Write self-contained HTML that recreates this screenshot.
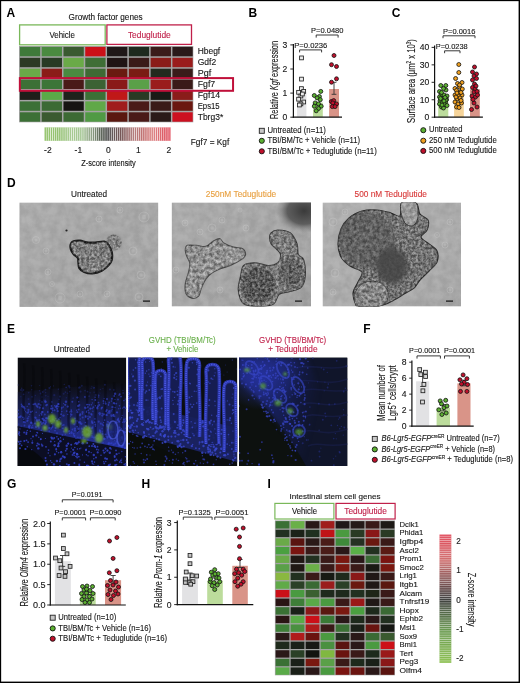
<!DOCTYPE html><html><head><meta charset="utf-8"><title>Figure</title><style>
html,body{margin:0;padding:0;background:#fff;}body{width:520px;height:683px;overflow:hidden;position:relative;}
svg{display:block;font-family:"Liberation Sans", sans-serif;will-change:transform;}
</style></head><body>
<svg width="520" height="683" viewBox="0 0 520 683">
<defs>
<linearGradient id="cbA" x1="0" x2="1" y1="0" y2="0"><stop offset="0" stop-color="#86bc58"/><stop offset="0.3" stop-color="#a8c898"/><stop offset="0.5" stop-color="#3c3c3c"/><stop offset="0.7" stop-color="#a86c6c"/><stop offset="0.85" stop-color="#d87878"/><stop offset="1" stop-color="#e04858"/></linearGradient>
<pattern id="stripesV" x="44.5" y="0" width="2.1" height="10" patternUnits="userSpaceOnUse"><rect x="1.25" y="0" width="0.85" height="10" fill="#fff" fill-opacity="0.75"/></pattern>
<pattern id="stripesH" x="0" y="534.5" width="10" height="2.15" patternUnits="userSpaceOnUse"><rect x="0" y="1.3" width="10" height="0.85" fill="#fff" fill-opacity="0.5"/></pattern>
<linearGradient id="cbI" x1="0" x2="0" y1="0" y2="1"><stop offset="0" stop-color="#e04858"/><stop offset="0.2" stop-color="#d07070"/><stop offset="0.5" stop-color="#3c3c3c"/><stop offset="0.75" stop-color="#6a9a50"/><stop offset="1" stop-color="#8cc050"/></linearGradient>
<filter id="tex" color-interpolation-filters="sRGB" x="0" y="0" width="1" height="1"><feTurbulence type="fractalNoise" baseFrequency="0.38" numOctaves="3" seed="4" result="t"/><feGaussianBlur in="t" stdDeviation="0.5" result="tb"/><feColorMatrix in="tb" type="matrix" values="1.8 0 0 0 -0.5  1.8 0 0 0 -0.5  1.8 0 0 0 -0.5  0 0 0 0 0.38" result="a"/><feComposite in="a" in2="SourceGraphic" operator="in"/></filter>
<filter id="tex2" color-interpolation-filters="sRGB" x="0" y="0" width="1" height="1"><feTurbulence type="fractalNoise" baseFrequency="0.3" numOctaves="3" seed="9" result="t"/><feGaussianBlur in="t" stdDeviation="0.5" result="tb"/><feColorMatrix in="tb" type="matrix" values="1.8 0 0 0 -0.4  1.8 0 0 0 -0.4  1.8 0 0 0 -0.4  0 0 0 0 0.38" result="a"/><feComposite in="a" in2="SourceGraphic" operator="in"/></filter>
<filter id="fuzz" color-interpolation-filters="sRGB" x="-0.3" y="-0.3" width="1.6" height="1.6"><feTurbulence type="fractalNoise" baseFrequency="0.6" numOctaves="2" seed="5" result="t"/><feDisplacementMap in="SourceGraphic" in2="t" scale="4" result="d"/><feGaussianBlur in="d" stdDeviation="0.6"/></filter>
<filter id="blur1" color-interpolation-filters="sRGB" x="-0.3" y="-0.3" width="1.6" height="1.6"><feGaussianBlur stdDeviation="1.2"/></filter>
<filter id="blurS" color-interpolation-filters="sRGB" x="-0.05" y="-0.05" width="1.1" height="1.1"><feGaussianBlur stdDeviation="0.45"/></filter>
<filter id="bgnoise" color-interpolation-filters="sRGB" x="0" y="0" width="1" height="1"><feTurbulence type="fractalNoise" baseFrequency="0.12" numOctaves="3" seed="17" result="t"/><feColorMatrix in="t" type="matrix" values="2 0 0 0 -0.5  2 0 0 0 -0.5  2 0 0 0 -0.5  0 0 0 0 0.06" result="a"/><feComposite in="a" in2="SourceGraphic" operator="in"/></filter>
<filter id="blur2" color-interpolation-filters="sRGB" x="-0.3" y="-0.3" width="1.6" height="1.6"><feGaussianBlur stdDeviation="2.5"/></filter>
<linearGradient id="e1band" x1="0" y1="0" x2="0" y2="1"><stop offset="0" stop-color="#181c48" stop-opacity="0"/><stop offset="0.3" stop-color="#1a2260" stop-opacity="0.6"/><stop offset="1" stop-color="#2a38b8" stop-opacity="0.9"/></linearGradient>
<radialGradient id="e3glow"><stop offset="0" stop-color="#2a38b8" stop-opacity="0.7"/><stop offset="1" stop-color="#2a38b0" stop-opacity="0"/></radialGradient>
<linearGradient id="e3glow2" x1="0" y1="0" x2="1" y2="0.3"><stop offset="0" stop-color="#2632a8" stop-opacity="0.55"/><stop offset="0.6" stop-color="#2230a0" stop-opacity="0.35"/><stop offset="1" stop-color="#1a2480" stop-opacity="0"/></linearGradient>
<radialGradient id="shadow"><stop offset="0" stop-color="#3a3a3a"/><stop offset="0.6" stop-color="#555" stop-opacity="0.9"/><stop offset="1" stop-color="#888" stop-opacity="0"/></radialGradient>
<linearGradient id="bgD" x1="0" y1="0" x2="1" y2="1"><stop offset="0" stop-color="#fff" stop-opacity="0.06"/><stop offset="0.5" stop-color="#fff" stop-opacity="0"/><stop offset="1" stop-color="#000" stop-opacity="0.05"/></linearGradient>
</defs>
<rect x="0" y="0" width="520" height="683" fill="#fff"/>
<text x="6.60" y="16.90" font-size="12" fill="#000" font-weight="bold" >A</text>
<text x="68.60" y="20.40" font-size="9" fill="#161616" stroke="#161616" stroke-width="0.12" textLength="74.10" lengthAdjust="spacingAndGlyphs" >Growth factor genes</text>
<rect x="19.60" y="24.90" width="85.60" height="19.90" fill="none" stroke="#7ab85a" stroke-width="1.3" />
<text x="49.40" y="37.70" font-size="9.3" fill="#161616" stroke="#161616" stroke-width="0.12" textLength="25.60" lengthAdjust="spacingAndGlyphs" >Vehicle</text>
<rect x="106.90" y="24.90" width="84.60" height="19.50" fill="none" stroke="#c0204a" stroke-width="1.3" />
<text x="127.90" y="37.70" font-size="9.3" fill="#c0204a" stroke="#c0204a" stroke-width="0.12" textLength="42.90" lengthAdjust="spacingAndGlyphs" >Teduglutide</text>
<rect x="19.00" y="46.00" width="174.30" height="76.30" fill="#a4a4a4" />
<rect x="19.90" y="46.90" width="20.29" height="9.40" fill="#3f7a3a" />
<rect x="41.69" y="46.90" width="20.29" height="9.40" fill="#4a8a40" />
<rect x="63.48" y="46.90" width="20.29" height="9.40" fill="#3a5a30" />
<rect x="85.26" y="46.90" width="20.29" height="9.40" fill="#cc1018" />
<rect x="107.05" y="46.90" width="20.29" height="9.40" fill="#201818" />
<rect x="128.84" y="46.90" width="20.29" height="9.40" fill="#1e2a1e" />
<rect x="150.63" y="46.90" width="20.29" height="9.40" fill="#3a1c1a" />
<rect x="172.41" y="46.90" width="20.29" height="9.40" fill="#2a1a1a" />
<rect x="19.90" y="57.80" width="20.29" height="9.40" fill="#2c3a24" />
<rect x="41.69" y="57.80" width="20.29" height="9.40" fill="#283a24" />
<rect x="63.48" y="57.80" width="20.29" height="9.40" fill="#6aaa48" />
<rect x="85.26" y="57.80" width="20.29" height="9.40" fill="#3f6e36" />
<rect x="107.05" y="57.80" width="20.29" height="9.40" fill="#201414" />
<rect x="128.84" y="57.80" width="20.29" height="9.40" fill="#3a1a18" />
<rect x="150.63" y="57.80" width="20.29" height="9.40" fill="#8a1c18" />
<rect x="172.41" y="57.80" width="20.29" height="9.40" fill="#9a1c1c" />
<rect x="19.90" y="68.70" width="20.29" height="9.40" fill="#6aaa48" />
<rect x="41.69" y="68.70" width="20.29" height="9.40" fill="#8a1c18" />
<rect x="63.48" y="68.70" width="20.29" height="9.40" fill="#4a8a40" />
<rect x="85.26" y="68.70" width="20.29" height="9.40" fill="#3e6a34" />
<rect x="107.05" y="68.70" width="20.29" height="9.40" fill="#6a1a10" />
<rect x="128.84" y="68.70" width="20.29" height="9.40" fill="#7a1c14" />
<rect x="150.63" y="68.70" width="20.29" height="9.40" fill="#222a1e" />
<rect x="172.41" y="68.70" width="20.29" height="9.40" fill="#3a1c1a" />
<rect x="19.90" y="79.60" width="20.29" height="9.40" fill="#3c7036" />
<rect x="41.69" y="79.60" width="20.29" height="9.40" fill="#3c7538" />
<rect x="63.48" y="79.60" width="20.29" height="9.40" fill="#4a1a18" />
<rect x="85.26" y="79.60" width="20.29" height="9.40" fill="#3c6234" />
<rect x="107.05" y="79.60" width="20.29" height="9.40" fill="#8a1a18" />
<rect x="128.84" y="79.60" width="20.29" height="9.40" fill="#5aa048" />
<rect x="150.63" y="79.60" width="20.29" height="9.40" fill="#9a1c1c" />
<rect x="172.41" y="79.60" width="20.29" height="9.40" fill="#3a1a18" />
<rect x="19.90" y="90.50" width="20.29" height="9.40" fill="#1e1e1a" />
<rect x="41.69" y="90.50" width="20.29" height="9.40" fill="#5aaa48" />
<rect x="63.48" y="90.50" width="20.29" height="9.40" fill="#1e221c" />
<rect x="85.26" y="90.50" width="20.29" height="9.40" fill="#3c7036" />
<rect x="107.05" y="90.50" width="20.29" height="9.40" fill="#c01818" />
<rect x="128.84" y="90.50" width="20.29" height="9.40" fill="#2a3a24" />
<rect x="150.63" y="90.50" width="20.29" height="9.40" fill="#1a1a16" />
<rect x="172.41" y="90.50" width="20.29" height="9.40" fill="#8a1c1a" />
<rect x="19.90" y="101.40" width="20.29" height="9.40" fill="#3c7036" />
<rect x="41.69" y="101.40" width="20.29" height="9.40" fill="#3c6a34" />
<rect x="63.48" y="101.40" width="20.29" height="9.40" fill="#161412" />
<rect x="85.26" y="101.40" width="20.29" height="9.40" fill="#60a848" />
<rect x="107.05" y="101.40" width="20.29" height="9.40" fill="#a01c1c" />
<rect x="128.84" y="101.40" width="20.29" height="9.40" fill="#4a1a18" />
<rect x="150.63" y="101.40" width="20.29" height="9.40" fill="#3a1a18" />
<rect x="172.41" y="101.40" width="20.29" height="9.40" fill="#6a1810" />
<rect x="19.90" y="112.30" width="20.29" height="9.40" fill="#3c7036" />
<rect x="41.69" y="112.30" width="20.29" height="9.40" fill="#3a5a30" />
<rect x="63.48" y="112.30" width="20.29" height="9.40" fill="#3c6a34" />
<rect x="85.26" y="112.30" width="20.29" height="9.40" fill="#509a44" />
<rect x="107.05" y="112.30" width="20.29" height="9.40" fill="#5a1810" />
<rect x="128.84" y="112.30" width="20.29" height="9.40" fill="#4a1a18" />
<rect x="150.63" y="112.30" width="20.29" height="9.40" fill="#2a1a18" />
<rect x="172.41" y="112.30" width="20.29" height="9.40" fill="#cc1020" />
<rect x="19.85" y="78.10" width="213.20" height="12.70" fill="none" stroke="#c0103a" stroke-width="2" />
<text x="197.70" y="54.40" font-size="9" fill="#161616" stroke="#161616" stroke-width="0.12" textLength="22.50" lengthAdjust="spacingAndGlyphs" >Hbegf</text>
<text x="197.70" y="65.30" font-size="9" fill="#161616" stroke="#161616" stroke-width="0.12" textLength="18.50" lengthAdjust="spacingAndGlyphs" >Gdf2</text>
<text x="197.70" y="76.20" font-size="9" fill="#161616" stroke="#161616" stroke-width="0.12" textLength="13.50" lengthAdjust="spacingAndGlyphs" >Pgf</text>
<text x="197.70" y="87.10" font-size="9" fill="#161616" stroke="#161616" stroke-width="0.12" textLength="17.50" lengthAdjust="spacingAndGlyphs" >Fgf7</text>
<text x="197.70" y="98.00" font-size="9" fill="#161616" stroke="#161616" stroke-width="0.12" textLength="22.50" lengthAdjust="spacingAndGlyphs" >Fgf14</text>
<text x="197.70" y="108.90" font-size="9" fill="#161616" stroke="#161616" stroke-width="0.12" textLength="22.00" lengthAdjust="spacingAndGlyphs" >Eps15</text>
<text x="197.70" y="119.80" font-size="9" fill="#161616" stroke="#161616" stroke-width="0.12" textLength="25.50" lengthAdjust="spacingAndGlyphs" >Tbrg3*</text>
<rect x="44.5" y="127.4" width="126.2" height="13.4" fill="url(#cbA)"/>
<rect x="44.5" y="127.4" width="126.2" height="13.4" fill="url(#stripesV)"/>
<text x="47.90" y="152.60" font-size="8.5" fill="#161616" stroke="#161616" stroke-width="0.12" text-anchor="middle" >-2</text>
<text x="78.40" y="152.60" font-size="8.5" fill="#161616" stroke="#161616" stroke-width="0.12" text-anchor="middle" >-1</text>
<text x="108.40" y="152.60" font-size="8.5" fill="#161616" stroke="#161616" stroke-width="0.12" text-anchor="middle" >0</text>
<text x="138.40" y="152.60" font-size="8.5" fill="#161616" stroke="#161616" stroke-width="0.12" text-anchor="middle" >1</text>
<text x="168.90" y="152.60" font-size="8.5" fill="#161616" stroke="#161616" stroke-width="0.12" text-anchor="middle" >2</text>
<text x="81.30" y="165.50" font-size="8.5" fill="#161616" stroke="#161616" stroke-width="0.12" textLength="54.50" lengthAdjust="spacingAndGlyphs" >Z-score intensity</text>
<text x="190.80" y="145.00" font-size="8.5" fill="#161616" stroke="#161616" stroke-width="0.12" textLength="38.40" lengthAdjust="spacingAndGlyphs" >Fgf7 = Kgf</text>
<text x="248.60" y="16.80" font-size="12" fill="#000" font-weight="bold" >B</text>
<line x1="290.30" y1="117.20" x2="293.40" y2="117.20" stroke="#111" stroke-width="0.9"/>
<text x="287.40" y="120.20" font-size="8.6" fill="#161616" stroke="#161616" stroke-width="0.12" text-anchor="end" >0</text>
<line x1="290.30" y1="93.10" x2="293.40" y2="93.10" stroke="#111" stroke-width="0.9"/>
<text x="287.40" y="96.10" font-size="8.6" fill="#161616" stroke="#161616" stroke-width="0.12" text-anchor="end" >1</text>
<line x1="290.30" y1="69.00" x2="293.40" y2="69.00" stroke="#111" stroke-width="0.9"/>
<text x="287.40" y="72.00" font-size="8.6" fill="#161616" stroke="#161616" stroke-width="0.12" text-anchor="end" >2</text>
<line x1="290.30" y1="44.90" x2="293.40" y2="44.90" stroke="#111" stroke-width="0.9"/>
<text x="287.40" y="47.90" font-size="8.6" fill="#161616" stroke="#161616" stroke-width="0.12" text-anchor="end" >3</text>
<rect x="297.00" y="92.00" width="9.40" height="25.20" fill="#e2e2e4" />
<rect x="313.00" y="102.60" width="9.80" height="14.60" fill="#bcdc9c" />
<rect x="329.10" y="89.00" width="9.90" height="28.20" fill="#d99488" />
<line x1="334.00" y1="82.30" x2="334.00" y2="94.30" stroke="#333" stroke-width="0.9"/>
<line x1="331.60" y1="94.30" x2="336.40" y2="94.30" stroke="#333" stroke-width="0.9"/>
<line x1="331.60" y1="82.30" x2="336.40" y2="82.30" stroke="#333" stroke-width="0.9"/>
<line x1="301.60" y1="87.50" x2="301.60" y2="96.50" stroke="#333" stroke-width="0.9"/>
<line x1="299.50" y1="87.50" x2="303.70" y2="87.50" stroke="#333" stroke-width="0.9"/>
<rect x="299.60" y="56.00" width="3.80" height="3.80" fill="#ececec" stroke="#222" stroke-width="0.85"/>
<rect x="299.60" y="77.20" width="3.80" height="3.80" fill="#ececec" stroke="#222" stroke-width="0.85"/>
<rect x="299.50" y="86.70" width="3.80" height="3.80" fill="#ececec" stroke="#222" stroke-width="0.85"/>
<rect x="301.80" y="89.50" width="3.80" height="3.80" fill="#ececec" stroke="#222" stroke-width="0.85"/>
<rect x="296.70" y="90.40" width="3.80" height="3.80" fill="#ececec" stroke="#222" stroke-width="0.85"/>
<rect x="299.00" y="94.10" width="3.80" height="3.80" fill="#ececec" stroke="#222" stroke-width="0.85"/>
<rect x="296.70" y="97.30" width="3.80" height="3.80" fill="#ececec" stroke="#222" stroke-width="0.85"/>
<rect x="301.80" y="100.10" width="3.80" height="3.80" fill="#ececec" stroke="#222" stroke-width="0.85"/>
<rect x="299.00" y="102.00" width="3.80" height="3.80" fill="#ececec" stroke="#222" stroke-width="0.85"/>
<rect x="300.50" y="92.10" width="3.80" height="3.80" fill="#ececec" stroke="#222" stroke-width="0.85"/>
<rect x="297.50" y="103.10" width="3.80" height="3.80" fill="#ececec" stroke="#222" stroke-width="0.85"/>
<circle cx="320.80" cy="91.40" r="2.00" fill="#5cb032" stroke="#111" stroke-width="0.8"/>
<circle cx="314.30" cy="95.50" r="2.00" fill="#5cb032" stroke="#111" stroke-width="0.8"/>
<circle cx="319.40" cy="96.50" r="2.00" fill="#5cb032" stroke="#111" stroke-width="0.8"/>
<circle cx="317.10" cy="97.90" r="2.00" fill="#5cb032" stroke="#111" stroke-width="0.8"/>
<circle cx="320.30" cy="99.70" r="2.00" fill="#5cb032" stroke="#111" stroke-width="0.8"/>
<circle cx="315.20" cy="102.90" r="2.00" fill="#5cb032" stroke="#111" stroke-width="0.8"/>
<circle cx="318.50" cy="103.90" r="2.00" fill="#5cb032" stroke="#111" stroke-width="0.8"/>
<circle cx="321.20" cy="106.20" r="2.00" fill="#5cb032" stroke="#111" stroke-width="0.8"/>
<circle cx="314.30" cy="106.20" r="2.00" fill="#5cb032" stroke="#111" stroke-width="0.8"/>
<circle cx="318.50" cy="108.50" r="2.00" fill="#5cb032" stroke="#111" stroke-width="0.8"/>
<circle cx="316.20" cy="110.80" r="2.00" fill="#5cb032" stroke="#111" stroke-width="0.8"/>
<circle cx="334.00" cy="55.50" r="2.00" fill="#c0102c" stroke="#111" stroke-width="0.8"/>
<circle cx="331.50" cy="64.70" r="2.00" fill="#c0102c" stroke="#111" stroke-width="0.8"/>
<circle cx="336.50" cy="66.50" r="2.00" fill="#c0102c" stroke="#111" stroke-width="0.8"/>
<circle cx="336.50" cy="78.80" r="2.00" fill="#c0102c" stroke="#111" stroke-width="0.8"/>
<circle cx="331.50" cy="82.20" r="2.00" fill="#c0102c" stroke="#111" stroke-width="0.8"/>
<circle cx="331.40" cy="101.50" r="2.00" fill="#c0102c" stroke="#111" stroke-width="0.8"/>
<circle cx="333.70" cy="100.60" r="2.00" fill="#c0102c" stroke="#111" stroke-width="0.8"/>
<circle cx="336.50" cy="103.90" r="2.00" fill="#c0102c" stroke="#111" stroke-width="0.8"/>
<circle cx="332.80" cy="102.90" r="2.00" fill="#c0102c" stroke="#111" stroke-width="0.8"/>
<circle cx="332.30" cy="106.60" r="2.00" fill="#c0102c" stroke="#111" stroke-width="0.8"/>
<circle cx="335.10" cy="106.60" r="2.00" fill="#c0102c" stroke="#111" stroke-width="0.8"/>
<line x1="293.40" y1="44.00" x2="293.40" y2="117.80" stroke="#111" stroke-width="1.2"/>
<line x1="292.80" y1="117.20" x2="342.00" y2="117.20" stroke="#111" stroke-width="1.2"/>
<text transform="translate(277.8,80.0) rotate(-90)" font-size="10.8" fill="#161616" stroke="#161616" stroke-width="0.12" text-anchor="middle" textLength="78.1" lengthAdjust="spacingAndGlyphs">Relative <tspan font-style="italic">Kgf</tspan> expression</text>
<text x="294.20" y="47.65" font-size="7.9" fill="#161616" stroke="#161616" stroke-width="0.12" textLength="33.10" lengthAdjust="spacingAndGlyphs" >P=0.0236</text>
<path d="M299.60,52.40 V49.90 H321.60 V52.40" fill="none" stroke="#222" stroke-width="0.9"/>
<text x="311.00" y="32.55" font-size="7.9" fill="#161616" stroke="#161616" stroke-width="0.12" textLength="32.50" lengthAdjust="spacingAndGlyphs" >P=0.0480</text>
<path d="M316.20,37.60 V35.00 H338.10 V37.60" fill="none" stroke="#222" stroke-width="0.9"/>
<rect x="259.30" y="128.30" width="5.00" height="5.00" fill="#c8c8c8" stroke="#222" stroke-width="0.9"/>
<text x="267.50" y="132.90" font-size="8.7" fill="#161616" stroke="#161616" stroke-width="0.12" textLength="58.30" lengthAdjust="spacingAndGlyphs" >Untreated (n=11)</text>
<circle cx="261.80" cy="140.80" r="2.55" fill="#5cb032" stroke="#111" stroke-width="0.9"/>
<text x="267.50" y="143.10" font-size="8.7" fill="#161616" stroke="#161616" stroke-width="0.12" textLength="92.50" lengthAdjust="spacingAndGlyphs" >TBI/BM/Tc + Vehicle (n=11)</text>
<circle cx="261.80" cy="151.30" r="2.55" fill="#c0102c" stroke="#111" stroke-width="0.9"/>
<text x="267.50" y="153.50" font-size="8.7" fill="#161616" stroke="#161616" stroke-width="0.12" textLength="109.30" lengthAdjust="spacingAndGlyphs" >TBI/BM/Tc + Teduglutide (n=11)</text>
<text x="391.80" y="16.80" font-size="12" fill="#000" font-weight="bold" >C</text>
<line x1="431.60" y1="117.20" x2="434.60" y2="117.20" stroke="#111" stroke-width="0.9"/>
<text x="429.40" y="120.20" font-size="8.6" fill="#161616" stroke="#161616" stroke-width="0.12" text-anchor="end" >0</text>
<line x1="431.60" y1="99.75" x2="434.60" y2="99.75" stroke="#111" stroke-width="0.9"/>
<text x="429.40" y="102.75" font-size="8.6" fill="#161616" stroke="#161616" stroke-width="0.12" text-anchor="end" >10</text>
<line x1="431.60" y1="82.30" x2="434.60" y2="82.30" stroke="#111" stroke-width="0.9"/>
<text x="429.40" y="85.30" font-size="8.6" fill="#161616" stroke="#161616" stroke-width="0.12" text-anchor="end" >20</text>
<line x1="431.60" y1="64.85" x2="434.60" y2="64.85" stroke="#111" stroke-width="0.9"/>
<text x="429.40" y="67.85" font-size="8.6" fill="#161616" stroke="#161616" stroke-width="0.12" text-anchor="end" >30</text>
<line x1="431.60" y1="47.40" x2="434.60" y2="47.40" stroke="#111" stroke-width="0.9"/>
<text x="429.40" y="50.40" font-size="8.6" fill="#161616" stroke="#161616" stroke-width="0.12" text-anchor="end" >40</text>
<rect x="438.20" y="99.00" width="10.10" height="18.20" fill="#bcdc9c" />
<rect x="454.10" y="95.00" width="9.70" height="22.20" fill="#f6d49a" />
<rect x="470.00" y="89.20" width="9.80" height="28.00" fill="#d99488" />
<circle cx="440.80" cy="85.50" r="2.00" fill="#5cb032" stroke="#111" stroke-width="0.8"/>
<circle cx="445.80" cy="85.50" r="2.00" fill="#5cb032" stroke="#111" stroke-width="0.8"/>
<circle cx="439.50" cy="91.50" r="2.00" fill="#5cb032" stroke="#111" stroke-width="0.8"/>
<circle cx="446.00" cy="90.00" r="2.00" fill="#5cb032" stroke="#111" stroke-width="0.8"/>
<circle cx="441.00" cy="95.00" r="2.00" fill="#5cb032" stroke="#111" stroke-width="0.8"/>
<circle cx="444.00" cy="95.00" r="2.00" fill="#5cb032" stroke="#111" stroke-width="0.8"/>
<circle cx="447.00" cy="96.00" r="2.00" fill="#5cb032" stroke="#111" stroke-width="0.8"/>
<circle cx="439.50" cy="97.00" r="2.00" fill="#5cb032" stroke="#111" stroke-width="0.8"/>
<circle cx="443.00" cy="99.00" r="2.00" fill="#5cb032" stroke="#111" stroke-width="0.8"/>
<circle cx="446.50" cy="99.50" r="2.00" fill="#5cb032" stroke="#111" stroke-width="0.8"/>
<circle cx="440.00" cy="101.00" r="2.00" fill="#5cb032" stroke="#111" stroke-width="0.8"/>
<circle cx="442.50" cy="102.50" r="2.00" fill="#5cb032" stroke="#111" stroke-width="0.8"/>
<circle cx="445.50" cy="102.00" r="2.00" fill="#5cb032" stroke="#111" stroke-width="0.8"/>
<circle cx="439.50" cy="104.00" r="2.00" fill="#5cb032" stroke="#111" stroke-width="0.8"/>
<circle cx="444.50" cy="104.50" r="2.00" fill="#5cb032" stroke="#111" stroke-width="0.8"/>
<circle cx="441.50" cy="107.00" r="2.00" fill="#5cb032" stroke="#111" stroke-width="0.8"/>
<circle cx="443.50" cy="108.00" r="2.00" fill="#5cb032" stroke="#111" stroke-width="0.8"/>
<circle cx="446.00" cy="100.00" r="2.00" fill="#5cb032" stroke="#111" stroke-width="0.8"/>
<circle cx="441.50" cy="92.50" r="2.00" fill="#5cb032" stroke="#111" stroke-width="0.8"/>
<circle cx="443.50" cy="88.50" r="2.00" fill="#5cb032" stroke="#111" stroke-width="0.8"/>
<circle cx="440.50" cy="98.50" r="2.00" fill="#5cb032" stroke="#111" stroke-width="0.8"/>
<circle cx="445.00" cy="97.50" r="2.00" fill="#5cb032" stroke="#111" stroke-width="0.8"/>
<circle cx="442.00" cy="105.00" r="2.00" fill="#5cb032" stroke="#111" stroke-width="0.8"/>
<circle cx="444.00" cy="101.00" r="2.00" fill="#5cb032" stroke="#111" stroke-width="0.8"/>
<circle cx="447.00" cy="105.50" r="2.00" fill="#5cb032" stroke="#111" stroke-width="0.8"/>
<circle cx="458.80" cy="64.50" r="2.00" fill="#f0a020" stroke="#111" stroke-width="0.8"/>
<circle cx="458.80" cy="72.50" r="2.00" fill="#f0a020" stroke="#111" stroke-width="0.8"/>
<circle cx="455.60" cy="78.50" r="2.00" fill="#f0a020" stroke="#111" stroke-width="0.8"/>
<circle cx="457.50" cy="83.50" r="2.00" fill="#f0a020" stroke="#111" stroke-width="0.8"/>
<circle cx="462.00" cy="82.50" r="2.00" fill="#f0a020" stroke="#111" stroke-width="0.8"/>
<circle cx="455.00" cy="88.50" r="2.00" fill="#f0a020" stroke="#111" stroke-width="0.8"/>
<circle cx="459.50" cy="87.00" r="2.00" fill="#f0a020" stroke="#111" stroke-width="0.8"/>
<circle cx="462.30" cy="89.00" r="2.00" fill="#f0a020" stroke="#111" stroke-width="0.8"/>
<circle cx="456.50" cy="90.50" r="2.00" fill="#f0a020" stroke="#111" stroke-width="0.8"/>
<circle cx="460.00" cy="92.00" r="2.00" fill="#f0a020" stroke="#111" stroke-width="0.8"/>
<circle cx="455.00" cy="95.00" r="2.00" fill="#f0a020" stroke="#111" stroke-width="0.8"/>
<circle cx="458.50" cy="95.50" r="2.00" fill="#f0a020" stroke="#111" stroke-width="0.8"/>
<circle cx="462.00" cy="95.00" r="2.00" fill="#f0a020" stroke="#111" stroke-width="0.8"/>
<circle cx="457.00" cy="99.00" r="2.00" fill="#f0a020" stroke="#111" stroke-width="0.8"/>
<circle cx="460.00" cy="98.00" r="2.00" fill="#f0a020" stroke="#111" stroke-width="0.8"/>
<circle cx="455.00" cy="102.00" r="2.00" fill="#f0a020" stroke="#111" stroke-width="0.8"/>
<circle cx="461.50" cy="103.00" r="2.00" fill="#f0a020" stroke="#111" stroke-width="0.8"/>
<circle cx="458.00" cy="104.00" r="2.00" fill="#f0a020" stroke="#111" stroke-width="0.8"/>
<circle cx="456.50" cy="107.00" r="2.00" fill="#f0a020" stroke="#111" stroke-width="0.8"/>
<circle cx="459.00" cy="107.50" r="2.00" fill="#f0a020" stroke="#111" stroke-width="0.8"/>
<circle cx="461.00" cy="100.50" r="2.00" fill="#f0a020" stroke="#111" stroke-width="0.8"/>
<circle cx="456.00" cy="97.00" r="2.00" fill="#f0a020" stroke="#111" stroke-width="0.8"/>
<circle cx="459.50" cy="85.00" r="2.00" fill="#f0a020" stroke="#111" stroke-width="0.8"/>
<circle cx="457.00" cy="93.00" r="2.00" fill="#f0a020" stroke="#111" stroke-width="0.8"/>
<circle cx="461.00" cy="92.50" r="2.00" fill="#f0a020" stroke="#111" stroke-width="0.8"/>
<circle cx="474.50" cy="67.00" r="2.00" fill="#c0102c" stroke="#111" stroke-width="0.8"/>
<circle cx="472.50" cy="72.00" r="2.00" fill="#c0102c" stroke="#111" stroke-width="0.8"/>
<circle cx="476.50" cy="74.00" r="2.00" fill="#c0102c" stroke="#111" stroke-width="0.8"/>
<circle cx="474.00" cy="76.00" r="2.00" fill="#c0102c" stroke="#111" stroke-width="0.8"/>
<circle cx="476.50" cy="78.50" r="2.00" fill="#c0102c" stroke="#111" stroke-width="0.8"/>
<circle cx="472.50" cy="80.00" r="2.00" fill="#c0102c" stroke="#111" stroke-width="0.8"/>
<circle cx="474.50" cy="84.00" r="2.00" fill="#c0102c" stroke="#111" stroke-width="0.8"/>
<circle cx="472.50" cy="87.50" r="2.00" fill="#c0102c" stroke="#111" stroke-width="0.8"/>
<circle cx="475.00" cy="89.00" r="2.00" fill="#c0102c" stroke="#111" stroke-width="0.8"/>
<circle cx="474.00" cy="92.00" r="2.00" fill="#c0102c" stroke="#111" stroke-width="0.8"/>
<circle cx="477.00" cy="91.50" r="2.00" fill="#c0102c" stroke="#111" stroke-width="0.8"/>
<circle cx="472.00" cy="96.00" r="2.00" fill="#c0102c" stroke="#111" stroke-width="0.8"/>
<circle cx="475.50" cy="97.00" r="2.00" fill="#c0102c" stroke="#111" stroke-width="0.8"/>
<circle cx="477.50" cy="95.00" r="2.00" fill="#c0102c" stroke="#111" stroke-width="0.8"/>
<circle cx="474.00" cy="103.00" r="2.00" fill="#c0102c" stroke="#111" stroke-width="0.8"/>
<circle cx="477.00" cy="107.00" r="2.00" fill="#c0102c" stroke="#111" stroke-width="0.8"/>
<circle cx="471.50" cy="109.50" r="2.00" fill="#c0102c" stroke="#111" stroke-width="0.8"/>
<circle cx="473.00" cy="99.50" r="2.00" fill="#c0102c" stroke="#111" stroke-width="0.8"/>
<circle cx="476.00" cy="86.00" r="2.00" fill="#c0102c" stroke="#111" stroke-width="0.8"/>
<line x1="434.60" y1="45.50" x2="434.60" y2="117.80" stroke="#111" stroke-width="1.2"/>
<line x1="434.00" y1="117.20" x2="482.90" y2="117.20" stroke="#111" stroke-width="1.2"/>
<text transform="translate(414.8,81.0) rotate(-90)" font-size="10.8" fill="#161616" stroke="#161616" stroke-width="0.12" text-anchor="middle" textLength="83.8" lengthAdjust="spacingAndGlyphs">Surface area (μm<tspan font-size="6.5" dy="-3.8">2</tspan><tspan dy="3.8"> x 10</tspan><tspan font-size="6.5" dy="-3.8">3</tspan><tspan dy="3.8">)</tspan></text>
<text x="435.70" y="48.75" font-size="7.9" fill="#161616" stroke="#161616" stroke-width="0.12" textLength="32.00" lengthAdjust="spacingAndGlyphs" >P=0.0238</text>
<path d="M444.60,53.20 V50.80 H460.00 V53.20" fill="none" stroke="#222" stroke-width="0.9"/>
<text x="443.00" y="33.75" font-size="7.9" fill="#161616" stroke="#161616" stroke-width="0.12" textLength="32.40" lengthAdjust="spacingAndGlyphs" >P=0.0016</text>
<path d="M443.00,38.20 V35.80 H475.00 V38.20" fill="none" stroke="#222" stroke-width="0.9"/>
<circle cx="423.30" cy="130.20" r="2.55" fill="#5cb032" stroke="#111" stroke-width="0.9"/>
<text x="429.00" y="132.40" font-size="8.7" fill="#161616" stroke="#161616" stroke-width="0.12" textLength="33.50" lengthAdjust="spacingAndGlyphs" >Untreated</text>
<circle cx="423.30" cy="140.70" r="2.55" fill="#f0a020" stroke="#111" stroke-width="0.9"/>
<text x="429.00" y="142.90" font-size="8.7" fill="#161616" stroke="#161616" stroke-width="0.12" textLength="67.70" lengthAdjust="spacingAndGlyphs" >250 nM Teduglutide</text>
<circle cx="423.30" cy="150.90" r="2.55" fill="#c0102c" stroke="#111" stroke-width="0.9"/>
<text x="429.00" y="153.10" font-size="8.7" fill="#161616" stroke="#161616" stroke-width="0.12" textLength="67.70" lengthAdjust="spacingAndGlyphs" >500 nM Teduglutide</text>
<text x="7.00" y="187.30" font-size="12" fill="#000" font-weight="bold" >D</text>
<text x="71.00" y="196.90" font-size="9" fill="#161616" stroke="#161616" stroke-width="0.12" textLength="36.10" lengthAdjust="spacingAndGlyphs" >Untreated</text>
<text x="205.80" y="197.00" font-size="9" fill="#e8a040" stroke="#e8a040" stroke-width="0.12" textLength="70.40" lengthAdjust="spacingAndGlyphs" >250nM Teduglutide</text>
<text x="354.60" y="197.00" font-size="9" fill="#d83838" stroke="#d83838" stroke-width="0.12" textLength="72.30" lengthAdjust="spacingAndGlyphs" >500 nM Teduglutide</text>
<clipPath id="cD1"><rect x="19.3" y="202.4" width="139.1" height="104.5"/></clipPath>
<g clip-path="url(#cD1)">
<rect x="19.30" y="202.40" width="139.10" height="104.50" fill="#a9a9a9" />
<rect x="19.3" y="202.4" width="139.1" height="104.5" fill="#000" filter="url(#bgnoise)"/>
<rect x="19.3" y="202.4" width="139.1" height="104.5" fill="url(#bgD)"/>
<circle cx="144" cy="217" r="5" fill="none" stroke="#d8d8d8" stroke-width="1" opacity="0.25"/>
<circle cx="144" cy="217" r="2.2" fill="#cfcfcf" opacity="0.25"/>
<circle cx="99" cy="219" r="3" fill="none" stroke="#d8d8d8" stroke-width="1" opacity="0.25"/>
<circle cx="99" cy="219" r="1.4" fill="#cfcfcf" opacity="0.25"/>
<circle cx="46" cy="251" r="3" fill="none" stroke="#d8d8d8" stroke-width="1" opacity="0.25"/>
<circle cx="46" cy="251" r="1.4" fill="#cfcfcf" opacity="0.25"/>
<circle cx="36" cy="240" r="3.5" fill="none" stroke="#d8d8d8" stroke-width="1" opacity="0.25"/>
<circle cx="36" cy="240" r="1.6" fill="#cfcfcf" opacity="0.25"/>
<circle cx="133" cy="251" r="4" fill="none" stroke="#d8d8d8" stroke-width="1" opacity="0.25"/>
<circle cx="133" cy="251" r="1.8" fill="#cfcfcf" opacity="0.25"/>
<circle cx="141" cy="275" r="4" fill="none" stroke="#d8d8d8" stroke-width="1" opacity="0.25"/>
<circle cx="141" cy="275" r="1.8" fill="#cfcfcf" opacity="0.25"/>
<circle cx="48" cy="272" r="3" fill="none" stroke="#d8d8d8" stroke-width="1" opacity="0.25"/>
<circle cx="48" cy="272" r="1.4" fill="#cfcfcf" opacity="0.25"/>
<circle cx="52" cy="284" r="2.5" fill="none" stroke="#d8d8d8" stroke-width="1" opacity="0.25"/>
<circle cx="52" cy="284" r="1.1" fill="#cfcfcf" opacity="0.25"/>
<circle cx="139" cy="297" r="4" fill="none" stroke="#d8d8d8" stroke-width="1" opacity="0.25"/>
<circle cx="139" cy="297" r="1.8" fill="#cfcfcf" opacity="0.25"/>
<circle cx="107" cy="294" r="3" fill="none" stroke="#d8d8d8" stroke-width="1" opacity="0.25"/>
<circle cx="107" cy="294" r="1.4" fill="#cfcfcf" opacity="0.25"/>
<circle cx="60" cy="298" r="5" fill="none" stroke="#d8d8d8" stroke-width="1" opacity="0.25"/>
<circle cx="60" cy="298" r="2.2" fill="#cfcfcf" opacity="0.25"/>
<circle cx="80" cy="294" r="3" fill="none" stroke="#d8d8d8" stroke-width="1" opacity="0.25"/>
<circle cx="80" cy="294" r="1.4" fill="#cfcfcf" opacity="0.25"/>
<circle cx="120" cy="210" r="3" fill="none" stroke="#d8d8d8" stroke-width="1" opacity="0.25"/>
<circle cx="120" cy="210" r="1.4" fill="#cfcfcf" opacity="0.25"/>
<circle cx="113.8" cy="242.5" r="8" fill="#959595" filter="url(#blur1)"/>
<circle cx="113.8" cy="242.5" r="8" fill="#000" filter="url(#tex)"/>
<path d="M70.8,243.8 C71.2,242.5 71.9,241.7 73.5,241.2 C75.1,240.7 78.0,240.4 80.2,240.6 C82.4,240.8 84.4,242.1 86.9,242.4 C89.4,242.7 92.1,242.6 95.0,242.5 C97.9,242.4 102.2,241.2 104.4,241.6 C106.7,242.0 107.3,243.3 108.5,245.0 C109.7,246.7 111.2,249.4 111.8,251.9 C112.3,254.4 112.3,257.8 111.8,260.0 C111.2,262.2 110.2,263.6 108.5,265.4 C106.8,267.2 104.4,269.4 101.7,270.8 C99.0,272.2 95.2,273.3 92.3,273.5 C89.4,273.7 86.4,273.0 84.2,272.1 C82.0,271.2 80.3,269.8 79.3,268.1 C78.3,266.4 78.5,263.7 78.3,262.0 C78.0,260.3 78.6,259.3 77.8,258.0 C77.0,256.7 74.7,255.5 73.5,254.0 C72.3,252.5 71.2,250.9 70.8,249.2 C70.3,247.5 70.3,245.1 70.8,243.8 Z" fill="#8a8a8a" stroke="#1e1e1e" stroke-width="2.1"/>
<path d="M70.8,243.8 C71.2,242.5 71.9,241.7 73.5,241.2 C75.1,240.7 78.0,240.4 80.2,240.6 C82.4,240.8 84.4,242.1 86.9,242.4 C89.4,242.7 92.1,242.6 95.0,242.5 C97.9,242.4 102.2,241.2 104.4,241.6 C106.7,242.0 107.3,243.3 108.5,245.0 C109.7,246.7 111.2,249.4 111.8,251.9 C112.3,254.4 112.3,257.8 111.8,260.0 C111.2,262.2 110.2,263.6 108.5,265.4 C106.8,267.2 104.4,269.4 101.7,270.8 C99.0,272.2 95.2,273.3 92.3,273.5 C89.4,273.7 86.4,273.0 84.2,272.1 C82.0,271.2 80.3,269.8 79.3,268.1 C78.3,266.4 78.5,263.7 78.3,262.0 C78.0,260.3 78.6,259.3 77.8,258.0 C77.0,256.7 74.7,255.5 73.5,254.0 C72.3,252.5 71.2,250.9 70.8,249.2 C70.3,247.5 70.3,245.1 70.8,243.8 Z" fill="#000" filter="url(#tex)"/>
<circle cx="66.5" cy="230.5" r="1.1" fill="#222"/>
</g>
<rect x="143" y="300.5" width="7" height="1.2" fill="#111"/>
<clipPath id="cD2"><rect x="171.6" y="202.4" width="139.4" height="104.2"/></clipPath>
<g clip-path="url(#cD2)">
<rect x="171.60" y="202.40" width="139.40" height="104.20" fill="#a8a8a8" />
<rect x="171.6" y="202.4" width="139.4" height="104.2" fill="#000" filter="url(#bgnoise)"/>
<rect x="171.6" y="202.4" width="139.4" height="104.2" fill="url(#bgD)"/>
<ellipse cx="304" cy="211" rx="28" ry="22" fill="url(#shadow)"/>
<circle cx="212" cy="228" r="4" fill="none" stroke="#d8d8d8" stroke-width="1" opacity="0.25"/>
<circle cx="212" cy="228" r="1.8" fill="#cfcfcf" opacity="0.25"/>
<circle cx="222" cy="220" r="3" fill="none" stroke="#d8d8d8" stroke-width="1" opacity="0.25"/>
<circle cx="222" cy="220" r="1.4" fill="#cfcfcf" opacity="0.25"/>
<circle cx="246" cy="228" r="3" fill="none" stroke="#d8d8d8" stroke-width="1" opacity="0.25"/>
<circle cx="246" cy="228" r="1.4" fill="#cfcfcf" opacity="0.25"/>
<circle cx="185" cy="223" r="3" fill="none" stroke="#d8d8d8" stroke-width="1" opacity="0.25"/>
<circle cx="185" cy="223" r="1.4" fill="#cfcfcf" opacity="0.25"/>
<circle cx="240" cy="210" r="2" fill="none" stroke="#d8d8d8" stroke-width="1" opacity="0.25"/>
<circle cx="240" cy="210" r="0.9" fill="#cfcfcf" opacity="0.25"/>
<circle cx="252" cy="274" r="3" fill="none" stroke="#d8d8d8" stroke-width="1" opacity="0.25"/>
<circle cx="252" cy="274" r="1.4" fill="#cfcfcf" opacity="0.25"/>
<circle cx="220" cy="290" r="3" fill="none" stroke="#d8d8d8" stroke-width="1" opacity="0.25"/>
<circle cx="220" cy="290" r="1.4" fill="#cfcfcf" opacity="0.25"/>
<circle cx="200" cy="232" r="3" fill="none" stroke="#d8d8d8" stroke-width="1" opacity="0.25"/>
<circle cx="200" cy="232" r="1.4" fill="#cfcfcf" opacity="0.25"/>
<circle cx="176" cy="270" r="3" fill="none" stroke="#d8d8d8" stroke-width="1" opacity="0.25"/>
<circle cx="176" cy="270" r="1.4" fill="#cfcfcf" opacity="0.25"/>
<path d="M187.3,245.4 C189.2,244.6 193.4,245.2 196.5,245.4 C199.6,245.6 203.0,247.1 205.8,246.4 C208.6,245.7 211.2,242.3 213.5,241.0 C215.8,239.7 217.8,238.3 219.6,238.7 C221.4,239.1 221.9,241.9 224.2,243.3 C226.5,244.7 230.4,246.3 233.5,247.2 C236.6,248.1 240.7,247.5 242.7,248.7 C244.7,249.9 245.8,252.8 245.5,254.6 C245.2,256.4 243.7,257.8 241.2,259.6 C238.7,261.4 233.7,263.9 230.4,265.4 C227.1,266.9 224.3,267.2 221.2,268.5 C218.1,269.8 214.5,271.3 211.9,273.1 C209.3,274.9 207.6,276.6 205.8,279.2 C204.0,281.8 202.4,285.7 201.2,288.5 C200.0,291.3 200.1,294.6 198.6,296.2 C197.1,297.8 194.0,298.6 191.9,298.2 C189.8,297.8 187.1,296.0 186.0,293.6 C184.9,291.2 184.9,287.2 185.3,283.8 C185.7,280.4 187.5,276.4 188.3,273.1 C189.1,269.8 190.2,266.6 189.9,263.8 C189.7,261.0 187.6,258.5 186.8,256.2 C186.0,253.9 185.2,251.8 185.3,250.0 C185.4,248.2 185.4,246.2 187.3,245.4 Z" fill="#9c9c9c" stroke="#4a4a4a" stroke-width="1.2"/>
<path d="M187.3,245.4 C189.2,244.6 193.4,245.2 196.5,245.4 C199.6,245.6 203.0,247.1 205.8,246.4 C208.6,245.7 211.2,242.3 213.5,241.0 C215.8,239.7 217.8,238.3 219.6,238.7 C221.4,239.1 221.9,241.9 224.2,243.3 C226.5,244.7 230.4,246.3 233.5,247.2 C236.6,248.1 240.7,247.5 242.7,248.7 C244.7,249.9 245.8,252.8 245.5,254.6 C245.2,256.4 243.7,257.8 241.2,259.6 C238.7,261.4 233.7,263.9 230.4,265.4 C227.1,266.9 224.3,267.2 221.2,268.5 C218.1,269.8 214.5,271.3 211.9,273.1 C209.3,274.9 207.6,276.6 205.8,279.2 C204.0,281.8 202.4,285.7 201.2,288.5 C200.0,291.3 200.1,294.6 198.6,296.2 C197.1,297.8 194.0,298.6 191.9,298.2 C189.8,297.8 187.1,296.0 186.0,293.6 C184.9,291.2 184.9,287.2 185.3,283.8 C185.7,280.4 187.5,276.4 188.3,273.1 C189.1,269.8 190.2,266.6 189.9,263.8 C189.7,261.0 187.6,258.5 186.8,256.2 C186.0,253.9 185.2,251.8 185.3,250.0 C185.4,248.2 185.4,246.2 187.3,245.4 Z" fill="#000" filter="url(#tex2)"/>
<path d="M271.0,232.8 C272.4,231.4 274.7,230.0 277.9,230.0 C281.1,230.0 287.0,230.5 290.2,232.8 C293.4,235.1 295.6,240.1 297.0,243.7 C298.4,247.3 297.2,251.9 298.3,254.6 C299.4,257.3 302.7,256.5 303.8,260.1 C304.9,263.8 305.6,271.9 305.2,276.5 C304.8,281.1 303.6,284.9 301.1,287.4 C298.6,289.9 293.9,290.4 290.2,291.5 C286.5,292.6 281.9,292.1 279.2,294.2 C276.5,296.2 277.0,301.8 273.8,303.8 C270.6,305.9 265.1,306.5 260.1,306.5 C255.1,306.5 247.3,306.5 243.7,303.8 C240.1,301.1 238.8,294.7 238.3,290.1 C237.8,285.5 239.7,280.1 240.6,276.0 C241.5,271.9 241.4,267.7 243.7,265.5 C246.0,263.3 250.5,262.8 254.6,262.8 C258.7,262.8 264.4,265.5 268.3,265.5 C272.2,265.5 275.8,264.6 277.9,262.8 C279.9,261.0 280.8,256.9 280.6,254.6 C280.4,252.3 278.1,251.0 276.5,249.2 C274.9,247.4 272.1,245.5 271.0,243.7 C269.9,241.9 269.7,240.0 269.7,238.2 C269.7,236.4 269.6,234.2 271.0,232.8 Z" fill="#8a8a8a" stroke="#3a3a3a" stroke-width="1.2"/>
<ellipse cx="258" cy="285" rx="17" ry="18" fill="#505050" filter="url(#blur1)"/>
<ellipse cx="291" cy="273" rx="12" ry="15" fill="#5e5e5e" filter="url(#blur1)"/>
<path d="M271.0,232.8 C272.4,231.4 274.7,230.0 277.9,230.0 C281.1,230.0 287.0,230.5 290.2,232.8 C293.4,235.1 295.6,240.1 297.0,243.7 C298.4,247.3 297.2,251.9 298.3,254.6 C299.4,257.3 302.7,256.5 303.8,260.1 C304.9,263.8 305.6,271.9 305.2,276.5 C304.8,281.1 303.6,284.9 301.1,287.4 C298.6,289.9 293.9,290.4 290.2,291.5 C286.5,292.6 281.9,292.1 279.2,294.2 C276.5,296.2 277.0,301.8 273.8,303.8 C270.6,305.9 265.1,306.5 260.1,306.5 C255.1,306.5 247.3,306.5 243.7,303.8 C240.1,301.1 238.8,294.7 238.3,290.1 C237.8,285.5 239.7,280.1 240.6,276.0 C241.5,271.9 241.4,267.7 243.7,265.5 C246.0,263.3 250.5,262.8 254.6,262.8 C258.7,262.8 264.4,265.5 268.3,265.5 C272.2,265.5 275.8,264.6 277.9,262.8 C279.9,261.0 280.8,256.9 280.6,254.6 C280.4,252.3 278.1,251.0 276.5,249.2 C274.9,247.4 272.1,245.5 271.0,243.7 C269.9,241.9 269.7,240.0 269.7,238.2 C269.7,236.4 269.6,234.2 271.0,232.8 Z" fill="#000" filter="url(#tex)"/>
</g>
<rect x="295" y="300.5" width="7" height="1.2" fill="#111"/>
<clipPath id="cD3"><rect x="322.5" y="202.4" width="138.5" height="104.2"/></clipPath>
<g clip-path="url(#cD3)">
<rect x="322.50" y="202.40" width="138.50" height="104.20" fill="#aeaeae" />
<rect x="322.5" y="202.4" width="138.5" height="104.2" fill="#000" filter="url(#bgnoise)"/>
<rect x="322.5" y="202.4" width="138.5" height="104.2" fill="url(#bgD)"/>
<circle cx="333" cy="222" r="4" fill="none" stroke="#d8d8d8" stroke-width="1" opacity="0.25"/>
<circle cx="333" cy="222" r="1.8" fill="#cfcfcf" opacity="0.25"/>
<circle cx="345" cy="212" r="3" fill="none" stroke="#d8d8d8" stroke-width="1" opacity="0.25"/>
<circle cx="345" cy="212" r="1.4" fill="#cfcfcf" opacity="0.25"/>
<circle cx="450" cy="222" r="3" fill="none" stroke="#d8d8d8" stroke-width="1" opacity="0.25"/>
<circle cx="450" cy="222" r="1.4" fill="#cfcfcf" opacity="0.25"/>
<circle cx="445" cy="245" r="3" fill="none" stroke="#d8d8d8" stroke-width="1" opacity="0.25"/>
<circle cx="445" cy="245" r="1.4" fill="#cfcfcf" opacity="0.25"/>
<circle cx="335" cy="273" r="4" fill="none" stroke="#d8d8d8" stroke-width="1" opacity="0.25"/>
<circle cx="335" cy="273" r="1.8" fill="#cfcfcf" opacity="0.25"/>
<circle cx="333" cy="292" r="3" fill="none" stroke="#d8d8d8" stroke-width="1" opacity="0.25"/>
<circle cx="333" cy="292" r="1.4" fill="#cfcfcf" opacity="0.25"/>
<circle cx="450" cy="290" r="3" fill="none" stroke="#d8d8d8" stroke-width="1" opacity="0.25"/>
<circle cx="450" cy="290" r="1.4" fill="#cfcfcf" opacity="0.25"/>
<circle cx="437" cy="235" r="2.5" fill="none" stroke="#d8d8d8" stroke-width="1" opacity="0.25"/>
<circle cx="437" cy="235" r="1.1" fill="#cfcfcf" opacity="0.25"/>
<path d="M402.0,203.0 C404.7,200.8 413.0,201.2 416.0,203.0 C419.0,204.8 418.0,211.2 420.0,214.0 C422.0,216.8 426.8,217.3 428.0,220.0 C429.2,222.7 428.2,227.2 427.0,230.0 C425.8,232.8 420.7,234.7 421.0,237.0 C421.3,239.3 426.3,241.7 429.0,244.0 C431.7,246.3 435.7,248.0 437.0,251.0 C438.3,254.0 438.3,258.7 437.0,262.0 C435.7,265.3 431.8,268.0 429.0,271.0 C426.2,274.0 422.5,277.2 420.0,280.0 C417.5,282.8 416.7,285.7 414.0,288.0 C411.3,290.3 407.3,292.0 404.0,294.0 C400.7,296.0 397.5,298.2 394.0,300.0 C390.5,301.8 388.7,303.8 383.0,305.0 C377.3,306.2 365.0,308.8 360.0,307.0 C355.0,305.2 353.3,298.2 353.0,294.0 C352.7,289.8 356.5,285.7 358.0,282.0 C359.5,278.3 363.3,274.7 362.0,272.0 C360.7,269.3 353.5,268.5 350.0,266.0 C346.5,263.5 343.0,260.7 341.0,257.0 C339.0,253.3 338.0,248.7 338.0,244.0 C338.0,239.3 339.2,233.3 341.0,229.0 C342.8,224.7 345.5,221.0 349.0,218.0 C352.5,215.0 357.3,212.3 362.0,211.0 C366.7,209.7 372.2,209.7 377.0,210.0 C381.8,210.3 387.2,212.0 391.0,213.0 C394.8,214.0 398.2,217.7 400.0,216.0 C401.8,214.3 399.3,205.2 402.0,203.0 Z" fill="#7a7a7a" stroke="#2e2e2e" stroke-width="1.2"/>
<path d="M402.0,203.0 C404.7,200.8 413.0,201.2 416.0,203.0 C419.0,204.8 418.0,211.2 420.0,214.0 C422.0,216.8 426.8,217.3 428.0,220.0 C429.2,222.7 428.2,227.2 427.0,230.0 C425.8,232.8 420.7,234.7 421.0,237.0 C421.3,239.3 426.3,241.7 429.0,244.0 C431.7,246.3 435.7,248.0 437.0,251.0 C438.3,254.0 438.3,258.7 437.0,262.0 C435.7,265.3 431.8,268.0 429.0,271.0 C426.2,274.0 422.5,277.2 420.0,280.0 C417.5,282.8 416.7,285.7 414.0,288.0 C411.3,290.3 407.3,292.0 404.0,294.0 C400.7,296.0 397.5,298.2 394.0,300.0 C390.5,301.8 388.7,303.8 383.0,305.0 C377.3,306.2 365.0,308.8 360.0,307.0 C355.0,305.2 353.3,298.2 353.0,294.0 C352.7,289.8 356.5,285.7 358.0,282.0 C359.5,278.3 363.3,274.7 362.0,272.0 C360.7,269.3 353.5,268.5 350.0,266.0 C346.5,263.5 343.0,260.7 341.0,257.0 C339.0,253.3 338.0,248.7 338.0,244.0 C338.0,239.3 339.2,233.3 341.0,229.0 C342.8,224.7 345.5,221.0 349.0,218.0 C352.5,215.0 357.3,212.3 362.0,211.0 C366.7,209.7 372.2,209.7 377.0,210.0 C381.8,210.3 387.2,212.0 391.0,213.0 C394.8,214.0 398.2,217.7 400.0,216.0 C401.8,214.3 399.3,205.2 402.0,203.0 Z" fill="#000" filter="url(#tex)"/>
<ellipse cx="367" cy="240" rx="28" ry="27" fill="#545454" opacity="0.8" filter="url(#blur1)"/>
<ellipse cx="367" cy="240" rx="27" ry="26" fill="#000" filter="url(#tex2)" opacity="0.6"/>
<ellipse cx="392" cy="266" rx="16" ry="18" fill="#444" opacity="0.85" filter="url(#blur2)"/>
<path d="M402.0,202.0 C404.3,200.3 412.3,200.5 415.0,202.0 C417.7,203.5 417.7,207.8 418.0,211.0 C418.3,214.2 418.0,218.5 417.0,221.0 C416.0,223.5 414.0,225.7 412.0,226.0 C410.0,226.3 406.8,225.3 405.0,223.0 C403.2,220.7 401.5,215.5 401.0,212.0 C400.5,208.5 399.7,203.7 402.0,202.0 Z" fill="#a2a2a2" stroke="#333" stroke-width="1.0"/>
<path d="M402.0,202.0 C404.3,200.3 412.3,200.5 415.0,202.0 C417.7,203.5 417.7,207.8 418.0,211.0 C418.3,214.2 418.0,218.5 417.0,221.0 C416.0,223.5 414.0,225.7 412.0,226.0 C410.0,226.3 406.8,225.3 405.0,223.0 C403.2,220.7 401.5,215.5 401.0,212.0 C400.5,208.5 399.7,203.7 402.0,202.0 Z" fill="#000" filter="url(#tex2)" opacity="0.6"/>
<path d="M356,306 C352,296 356,286 366,282 C376,279 386,284 388,292 C390,300 384,306 376,307 Z" fill="#888" stroke="#3a3a3a" stroke-width="0.9"/>
<path d="M356,306 C352,296 356,286 366,282 C376,279 386,284 388,292 C390,300 384,306 376,307 Z" fill="#000" filter="url(#tex2)"/>
</g>
<rect x="446" y="300.5" width="7" height="1.2" fill="#111"/>
<text x="7.00" y="333.00" font-size="12" fill="#000" font-weight="bold" >E</text>
<text x="53.80" y="352.30" font-size="9" fill="#161616" stroke="#161616" stroke-width="0.12" textLength="36.20" lengthAdjust="spacingAndGlyphs" >Untreated</text>
<text x="148.80" y="343.10" font-size="9" fill="#6ab04c" stroke="#6ab04c" stroke-width="0.12" textLength="66.90" lengthAdjust="spacingAndGlyphs" >GVHD (TBI/BM/Tc)</text>
<text x="166.50" y="352.40" font-size="9" fill="#6ab04c" stroke="#6ab04c" stroke-width="0.12" textLength="31.90" lengthAdjust="spacingAndGlyphs" >+ Vehicle</text>
<text x="259.00" y="343.10" font-size="9" fill="#c0204a" stroke="#c0204a" stroke-width="0.12" textLength="67.10" lengthAdjust="spacingAndGlyphs" >GVHD (TBI/BM/Tc)</text>
<text x="268.20" y="352.40" font-size="9" fill="#c0204a" stroke="#c0204a" stroke-width="0.12" textLength="49.30" lengthAdjust="spacingAndGlyphs" >+ Teduglutide</text>
<clipPath id="cE1"><rect x="17.5" y="357.4" width="108.8" height="108.6"/></clipPath>
<g clip-path="url(#cE1)">
<rect x="17.50" y="357.40" width="108.80" height="108.60" fill="#0c0d12" />
<path d="M17.5,392 L126.3,382 L126.3,450 L17.5,428 Z" fill="url(#e1band)"/>
<path d="M24,421.4 C22,400.4 26,380.4 24,363.4" stroke="#06070c" stroke-width="2.4" fill="none" opacity="0.45"/>
<path d="M33,423.3 C31,402.3 35,382.3 33,365.3" stroke="#06070c" stroke-width="2.4" fill="none" opacity="0.45"/>
<path d="M42,425.1 C40,404.1 44,384.1 42,367.1" stroke="#06070c" stroke-width="2.4" fill="none" opacity="0.45"/>
<path d="M51,427.0 C49,406.0 53,386.0 51,369.0" stroke="#06070c" stroke-width="2.4" fill="none" opacity="0.45"/>
<path d="M60,428.9 C58,407.9 62,387.9 60,370.9" stroke="#06070c" stroke-width="2.4" fill="none" opacity="0.45"/>
<path d="M69,430.8 C67,409.8 71,389.8 69,372.8" stroke="#06070c" stroke-width="2.4" fill="none" opacity="0.45"/>
<path d="M78,432.7 C76,411.7 80,391.7 78,374.7" stroke="#06070c" stroke-width="2.4" fill="none" opacity="0.45"/>
<path d="M87,434.6 C85,413.6 89,393.6 87,376.6" stroke="#06070c" stroke-width="2.4" fill="none" opacity="0.45"/>
<path d="M96,436.5 C94,415.5 98,395.5 96,378.5" stroke="#06070c" stroke-width="2.4" fill="none" opacity="0.45"/>
<path d="M105,438.4 C103,417.4 107,397.4 105,380.4" stroke="#06070c" stroke-width="2.4" fill="none" opacity="0.45"/>
<path d="M114,440.3 C112,419.3 116,399.3 114,382.3" stroke="#06070c" stroke-width="2.4" fill="none" opacity="0.45"/>
<path d="M122,441.9 C120,420.9 124,400.9 122,383.9" stroke="#06070c" stroke-width="2.4" fill="none" opacity="0.45"/>
<path d="M17.5,426 L126.3,449 L126.3,466 L17.5,466 Z" fill="#0c0e24"/>
<path d="M17.5,442 C30,448 40,454 48,466 L17.5,466 Z" fill="#07080a" opacity="0.85"/>
<g filter="url(#blurS)">
<circle cx="69.1" cy="431.0" r="1.0" fill="#3242c8" opacity="0.65"/>
<circle cx="58.3" cy="404.2" r="1.1" fill="#3242c8" opacity="0.65"/>
<circle cx="92.6" cy="427.1" r="0.9" fill="#3242c8" opacity="0.65"/>
<circle cx="92.2" cy="408.6" r="0.8" fill="#3242c8" opacity="0.65"/>
<circle cx="29.7" cy="414.6" r="0.7" fill="#3242c8" opacity="0.65"/>
<circle cx="51.5" cy="428.5" r="0.7" fill="#3242c8" opacity="0.65"/>
<circle cx="61.1" cy="414.3" r="1.0" fill="#3242c8" opacity="0.65"/>
<circle cx="69.4" cy="411.9" r="0.6" fill="#3242c8" opacity="0.65"/>
<circle cx="123.7" cy="431.5" r="0.8" fill="#3242c8" opacity="0.65"/>
<circle cx="57.0" cy="433.3" r="1.0" fill="#3242c8" opacity="0.65"/>
<circle cx="57.0" cy="420.8" r="1.1" fill="#3242c8" opacity="0.65"/>
<circle cx="107.0" cy="415.1" r="0.9" fill="#3242c8" opacity="0.65"/>
<circle cx="41.7" cy="414.9" r="0.8" fill="#3242c8" opacity="0.65"/>
<circle cx="77.3" cy="397.5" r="1.0" fill="#3242c8" opacity="0.65"/>
<circle cx="21.5" cy="404.4" r="0.8" fill="#3242c8" opacity="0.65"/>
<circle cx="48.2" cy="418.3" r="1.2" fill="#3242c8" opacity="0.65"/>
<circle cx="101.3" cy="408.9" r="0.7" fill="#3242c8" opacity="0.65"/>
<circle cx="126.1" cy="420.3" r="0.6" fill="#3242c8" opacity="0.65"/>
<circle cx="108.0" cy="429.8" r="0.7" fill="#3242c8" opacity="0.65"/>
<circle cx="74.9" cy="418.4" r="1.0" fill="#3242c8" opacity="0.65"/>
<circle cx="73.6" cy="433.7" r="1.0" fill="#3242c8" opacity="0.65"/>
<circle cx="40.8" cy="405.0" r="0.8" fill="#3242c8" opacity="0.65"/>
<circle cx="91.8" cy="433.6" r="0.7" fill="#3242c8" opacity="0.65"/>
<circle cx="113.9" cy="414.4" r="0.7" fill="#3242c8" opacity="0.65"/>
<circle cx="78.4" cy="428.7" r="1.2" fill="#3242c8" opacity="0.65"/>
<circle cx="122.2" cy="438.2" r="0.9" fill="#3242c8" opacity="0.65"/>
<circle cx="103.4" cy="425.6" r="0.8" fill="#3242c8" opacity="0.65"/>
<circle cx="116.6" cy="422.4" r="1.1" fill="#3242c8" opacity="0.65"/>
<circle cx="55.9" cy="406.8" r="1.2" fill="#3242c8" opacity="0.65"/>
<circle cx="92.5" cy="422.9" r="1.0" fill="#3242c8" opacity="0.65"/>
<circle cx="31.1" cy="422.4" r="1.0" fill="#3242c8" opacity="0.65"/>
<circle cx="61.8" cy="407.7" r="1.0" fill="#3242c8" opacity="0.65"/>
<circle cx="100.1" cy="431.2" r="1.2" fill="#3242c8" opacity="0.65"/>
<circle cx="70.6" cy="416.1" r="0.7" fill="#3242c8" opacity="0.65"/>
<circle cx="90.1" cy="408.9" r="0.7" fill="#3242c8" opacity="0.65"/>
<circle cx="18.3" cy="410.2" r="0.8" fill="#3242c8" opacity="0.65"/>
<circle cx="39.4" cy="415.3" r="0.7" fill="#3242c8" opacity="0.65"/>
<circle cx="117.5" cy="420.1" r="1.0" fill="#3242c8" opacity="0.65"/>
<circle cx="35.2" cy="417.5" r="1.0" fill="#3242c8" opacity="0.65"/>
<circle cx="109.2" cy="402.5" r="0.9" fill="#3242c8" opacity="0.65"/>
<circle cx="110.5" cy="443.2" r="0.7" fill="#3242c8" opacity="0.65"/>
<circle cx="76.0" cy="438.3" r="0.8" fill="#3242c8" opacity="0.65"/>
<circle cx="90.8" cy="431.4" r="1.2" fill="#3242c8" opacity="0.65"/>
<circle cx="77.8" cy="432.7" r="0.8" fill="#3242c8" opacity="0.65"/>
<circle cx="97.2" cy="407.6" r="0.9" fill="#3242c8" opacity="0.65"/>
<circle cx="56.8" cy="406.5" r="0.7" fill="#3242c8" opacity="0.65"/>
<circle cx="42.1" cy="423.1" r="0.8" fill="#3242c8" opacity="0.65"/>
<circle cx="82.6" cy="412.2" r="1.1" fill="#3242c8" opacity="0.65"/>
<circle cx="115.1" cy="407.5" r="0.7" fill="#3242c8" opacity="0.65"/>
<circle cx="62.4" cy="428.2" r="0.8" fill="#3242c8" opacity="0.65"/>
<circle cx="61.8" cy="411.6" r="0.8" fill="#3242c8" opacity="0.65"/>
<circle cx="106.8" cy="410.1" r="1.0" fill="#3242c8" opacity="0.65"/>
<circle cx="111.6" cy="443.3" r="0.7" fill="#3242c8" opacity="0.65"/>
<circle cx="95.4" cy="405.8" r="0.7" fill="#3242c8" opacity="0.65"/>
<circle cx="37.5" cy="406.8" r="1.1" fill="#3242c8" opacity="0.65"/>
<circle cx="92.0" cy="422.5" r="0.9" fill="#3242c8" opacity="0.65"/>
<circle cx="74.9" cy="430.6" r="1.1" fill="#3242c8" opacity="0.65"/>
<circle cx="72.5" cy="429.5" r="0.9" fill="#3242c8" opacity="0.65"/>
<circle cx="86.5" cy="412.2" r="0.8" fill="#3242c8" opacity="0.65"/>
<circle cx="73.7" cy="435.1" r="0.8" fill="#3242c8" opacity="0.65"/>
<circle cx="118.1" cy="419.4" r="1.1" fill="#3242c8" opacity="0.65"/>
<circle cx="91.8" cy="414.9" r="0.8" fill="#3242c8" opacity="0.65"/>
<circle cx="83.6" cy="437.8" r="1.1" fill="#3242c8" opacity="0.65"/>
<circle cx="92.1" cy="428.1" r="1.2" fill="#3242c8" opacity="0.65"/>
<circle cx="122.0" cy="437.3" r="1.2" fill="#3242c8" opacity="0.65"/>
<circle cx="118.3" cy="418.3" r="0.7" fill="#3242c8" opacity="0.65"/>
<circle cx="99.8" cy="414.6" r="0.9" fill="#3242c8" opacity="0.65"/>
<circle cx="51.9" cy="401.9" r="0.7" fill="#3242c8" opacity="0.65"/>
<circle cx="124.9" cy="438.6" r="1.2" fill="#3242c8" opacity="0.65"/>
<circle cx="56.9" cy="405.9" r="1.2" fill="#3242c8" opacity="0.65"/>
<circle cx="82.8" cy="431.8" r="0.6" fill="#3242c8" opacity="0.65"/>
<circle cx="42.4" cy="418.8" r="1.0" fill="#3242c8" opacity="0.65"/>
<circle cx="107.3" cy="438.0" r="0.8" fill="#3242c8" opacity="0.65"/>
<circle cx="125.2" cy="418.9" r="0.7" fill="#3242c8" opacity="0.65"/>
<circle cx="85.4" cy="422.5" r="0.8" fill="#3242c8" opacity="0.65"/>
<circle cx="42.6" cy="412.0" r="1.0" fill="#3242c8" opacity="0.65"/>
<circle cx="31.3" cy="422.9" r="1.2" fill="#3242c8" opacity="0.65"/>
<circle cx="98.5" cy="402.6" r="0.9" fill="#3242c8" opacity="0.65"/>
<circle cx="77.1" cy="426.7" r="0.9" fill="#3242c8" opacity="0.65"/>
<circle cx="58.7" cy="406.7" r="0.8" fill="#3242c8" opacity="0.65"/>
<circle cx="126.0" cy="408.1" r="0.9" fill="#3242c8" opacity="0.65"/>
<circle cx="52.6" cy="410.7" r="0.8" fill="#3242c8" opacity="0.65"/>
<circle cx="119.5" cy="405.8" r="0.8" fill="#3242c8" opacity="0.65"/>
<circle cx="89.0" cy="412.8" r="0.9" fill="#3242c8" opacity="0.65"/>
<circle cx="125.2" cy="432.2" r="0.7" fill="#3242c8" opacity="0.65"/>
<circle cx="65.2" cy="404.8" r="1.1" fill="#3242c8" opacity="0.65"/>
<circle cx="86.9" cy="429.6" r="1.0" fill="#3242c8" opacity="0.65"/>
<circle cx="60.1" cy="417.6" r="0.8" fill="#3242c8" opacity="0.65"/>
<circle cx="95.3" cy="437.6" r="0.7" fill="#3242c8" opacity="0.65"/>
<circle cx="74.7" cy="435.9" r="0.9" fill="#3242c8" opacity="0.65"/>
<circle cx="89.6" cy="428.1" r="1.0" fill="#3242c8" opacity="0.65"/>
<circle cx="56.2" cy="406.5" r="0.6" fill="#3242c8" opacity="0.65"/>
<circle cx="114.4" cy="440.3" r="0.8" fill="#3242c8" opacity="0.65"/>
<circle cx="63.3" cy="407.0" r="0.8" fill="#3242c8" opacity="0.65"/>
<circle cx="58.8" cy="419.3" r="1.0" fill="#3242c8" opacity="0.65"/>
<circle cx="119.0" cy="395.2" r="0.7" fill="#3242c8" opacity="0.65"/>
<circle cx="118.9" cy="422.0" r="0.8" fill="#3242c8" opacity="0.65"/>
<circle cx="100.8" cy="423.6" r="1.1" fill="#3242c8" opacity="0.65"/>
<circle cx="45.9" cy="422.4" r="1.1" fill="#3242c8" opacity="0.65"/>
<circle cx="29.3" cy="428.2" r="0.7" fill="#3242c8" opacity="0.65"/>
<circle cx="108.6" cy="443.7" r="1.0" fill="#3242c8" opacity="0.65"/>
<circle cx="71.3" cy="410.1" r="0.8" fill="#3242c8" opacity="0.65"/>
<circle cx="74.3" cy="424.3" r="1.1" fill="#3242c8" opacity="0.65"/>
<circle cx="115.0" cy="423.5" r="0.9" fill="#3242c8" opacity="0.65"/>
<circle cx="109.7" cy="411.1" r="1.1" fill="#3242c8" opacity="0.65"/>
<circle cx="74.9" cy="428.6" r="1.2" fill="#3242c8" opacity="0.65"/>
<circle cx="41.4" cy="413.5" r="1.1" fill="#3242c8" opacity="0.65"/>
<circle cx="98.7" cy="421.7" r="1.1" fill="#3242c8" opacity="0.65"/>
<circle cx="88.2" cy="410.4" r="0.8" fill="#3242c8" opacity="0.65"/>
<circle cx="32.8" cy="427.2" r="0.7" fill="#3242c8" opacity="0.65"/>
<circle cx="122.6" cy="422.3" r="0.7" fill="#3242c8" opacity="0.65"/>
<circle cx="123.9" cy="400.6" r="0.8" fill="#3242c8" opacity="0.65"/>
<circle cx="89.4" cy="404.8" r="0.9" fill="#3242c8" opacity="0.65"/>
<circle cx="93.8" cy="437.6" r="1.1" fill="#3242c8" opacity="0.65"/>
<circle cx="99.2" cy="405.0" r="1.1" fill="#3242c8" opacity="0.65"/>
<circle cx="70.8" cy="414.0" r="0.8" fill="#3242c8" opacity="0.65"/>
<circle cx="79.1" cy="422.7" r="0.9" fill="#3242c8" opacity="0.65"/>
<circle cx="124.9" cy="448.3" r="0.8" fill="#3242c8" opacity="0.65"/>
<circle cx="112.4" cy="407.1" r="1.2" fill="#3242c8" opacity="0.65"/>
<circle cx="23.8" cy="407.3" r="1.2" fill="#3242c8" opacity="0.65"/>
<circle cx="89.5" cy="434.5" r="0.7" fill="#3242c8" opacity="0.65"/>
<circle cx="102.3" cy="415.6" r="1.1" fill="#3242c8" opacity="0.65"/>
<circle cx="121.9" cy="446.7" r="1.0" fill="#3242c8" opacity="0.65"/>
<circle cx="27.7" cy="418.5" r="1.1" fill="#3242c8" opacity="0.65"/>
<circle cx="118.9" cy="421.0" r="1.0" fill="#3242c8" opacity="0.65"/>
<circle cx="109.5" cy="432.5" r="1.0" fill="#3242c8" opacity="0.65"/>
<circle cx="35.9" cy="418.0" r="0.9" fill="#3242c8" opacity="0.65"/>
<circle cx="85.4" cy="408.0" r="1.2" fill="#3242c8" opacity="0.65"/>
<circle cx="91.9" cy="421.2" r="0.9" fill="#3242c8" opacity="0.65"/>
<circle cx="88.2" cy="430.5" r="0.7" fill="#3242c8" opacity="0.65"/>
<circle cx="52.8" cy="426.1" r="0.7" fill="#3242c8" opacity="0.65"/>
<circle cx="119.6" cy="427.6" r="1.0" fill="#3242c8" opacity="0.65"/>
<circle cx="123.9" cy="419.7" r="1.1" fill="#3242c8" opacity="0.65"/>
<circle cx="33.4" cy="404.3" r="0.9" fill="#3242c8" opacity="0.65"/>
<circle cx="35.2" cy="404.0" r="1.2" fill="#3242c8" opacity="0.65"/>
<circle cx="113.1" cy="431.9" r="0.9" fill="#3242c8" opacity="0.65"/>
<circle cx="108.9" cy="422.5" r="0.7" fill="#3242c8" opacity="0.65"/>
<circle cx="36.6" cy="405.7" r="1.1" fill="#3242c8" opacity="0.65"/>
<circle cx="35.9" cy="426.7" r="1.0" fill="#3242c8" opacity="0.65"/>
<circle cx="113.1" cy="415.5" r="1.2" fill="#3242c8" opacity="0.65"/>
<circle cx="29.0" cy="404.1" r="1.0" fill="#3242c8" opacity="0.65"/>
<circle cx="113.8" cy="403.0" r="1.1" fill="#3242c8" opacity="0.65"/>
<circle cx="117.2" cy="412.5" r="1.0" fill="#3242c8" opacity="0.65"/>
<circle cx="88.7" cy="433.4" r="0.7" fill="#3242c8" opacity="0.65"/>
<circle cx="114.2" cy="396.0" r="0.9" fill="#3242c8" opacity="0.65"/>
<circle cx="92.3" cy="437.1" r="1.1" fill="#3242c8" opacity="0.65"/>
<circle cx="51.5" cy="405.9" r="1.0" fill="#3242c8" opacity="0.65"/>
<circle cx="51.8" cy="412.5" r="0.8" fill="#3242c8" opacity="0.65"/>
<circle cx="95.1" cy="397.2" r="0.7" fill="#3242c8" opacity="0.65"/>
<circle cx="18.1" cy="417.4" r="0.8" fill="#3242c8" opacity="0.65"/>
<circle cx="51.2" cy="409.1" r="0.7" fill="#3242c8" opacity="0.65"/>
<circle cx="63.6" cy="403.6" r="0.6" fill="#3242c8" opacity="0.65"/>
<circle cx="106.1" cy="436.7" r="0.7" fill="#3242c8" opacity="0.65"/>
<circle cx="92.0" cy="435.6" r="0.7" fill="#3242c8" opacity="0.65"/>
<circle cx="103.6" cy="422.5" r="0.7" fill="#3242c8" opacity="0.65"/>
<circle cx="55.8" cy="418.5" r="0.7" fill="#3242c8" opacity="0.65"/>
<circle cx="36.9" cy="419.8" r="0.9" fill="#3242c8" opacity="0.65"/>
<circle cx="24.2" cy="418.1" r="0.6" fill="#3242c8" opacity="0.65"/>
<circle cx="97.4" cy="438.7" r="1.0" fill="#3242c8" opacity="0.65"/>
<circle cx="121.0" cy="396.6" r="0.9" fill="#3242c8" opacity="0.65"/>
<circle cx="124.5" cy="432.3" r="1.2" fill="#3242c8" opacity="0.65"/>
<circle cx="122.4" cy="439.5" r="0.9" fill="#3242c8" opacity="0.65"/>
<circle cx="88.0" cy="418.7" r="1.1" fill="#3242c8" opacity="0.65"/>
<circle cx="80.4" cy="423.3" r="0.8" fill="#3242c8" opacity="0.65"/>
<circle cx="85.8" cy="426.1" r="1.2" fill="#3242c8" opacity="0.65"/>
<circle cx="101.6" cy="408.1" r="1.0" fill="#3242c8" opacity="0.65"/>
<circle cx="42.9" cy="418.7" r="0.9" fill="#3242c8" opacity="0.65"/>
<circle cx="84.9" cy="396.9" r="0.9" fill="#3242c8" opacity="0.65"/>
<circle cx="113.4" cy="414.9" r="0.7" fill="#3242c8" opacity="0.65"/>
<circle cx="82.5" cy="413.8" r="0.9" fill="#3242c8" opacity="0.65"/>
<circle cx="71.5" cy="432.8" r="1.2" fill="#3242c8" opacity="0.65"/>
<circle cx="120.7" cy="440.2" r="0.8" fill="#3242c8" opacity="0.65"/>
<circle cx="95.3" cy="424.4" r="0.9" fill="#3242c8" opacity="0.65"/>
<circle cx="85.7" cy="417.0" r="1.0" fill="#3242c8" opacity="0.65"/>
<circle cx="87.0" cy="434.3" r="1.1" fill="#3242c8" opacity="0.65"/>
<circle cx="75.8" cy="422.9" r="0.7" fill="#3242c8" opacity="0.65"/>
<circle cx="30.9" cy="411.9" r="1.0" fill="#3242c8" opacity="0.65"/>
<circle cx="20.7" cy="416.3" r="1.1" fill="#3242c8" opacity="0.65"/>
<circle cx="86.9" cy="404.6" r="0.9" fill="#3242c8" opacity="0.65"/>
<circle cx="92.1" cy="399.6" r="0.7" fill="#3242c8" opacity="0.65"/>
<circle cx="118.0" cy="399.5" r="0.9" fill="#3242c8" opacity="0.65"/>
<circle cx="110.8" cy="438.5" r="1.0" fill="#3242c8" opacity="0.65"/>
<circle cx="80.0" cy="415.3" r="1.1" fill="#3242c8" opacity="0.65"/>
<circle cx="71.5" cy="431.8" r="0.6" fill="#3242c8" opacity="0.65"/>
<circle cx="120.4" cy="408.2" r="0.6" fill="#3242c8" opacity="0.65"/>
<circle cx="43.6" cy="420.1" r="1.0" fill="#3242c8" opacity="0.65"/>
<circle cx="123.1" cy="444.9" r="0.9" fill="#3242c8" opacity="0.65"/>
<circle cx="87.9" cy="406.5" r="0.7" fill="#3242c8" opacity="0.65"/>
<circle cx="114.4" cy="416.2" r="1.0" fill="#3242c8" opacity="0.65"/>
<circle cx="69.4" cy="433.2" r="0.7" fill="#3242c8" opacity="0.65"/>
<circle cx="81.8" cy="428.6" r="1.1" fill="#3242c8" opacity="0.65"/>
<circle cx="106.2" cy="411.2" r="0.9" fill="#3242c8" opacity="0.65"/>
<circle cx="28.8" cy="416.8" r="0.8" fill="#3242c8" opacity="0.65"/>
<circle cx="109.6" cy="412.8" r="1.1" fill="#3242c8" opacity="0.65"/>
<circle cx="103.8" cy="414.3" r="1.1" fill="#3242c8" opacity="0.65"/>
<circle cx="108.1" cy="412.7" r="0.8" fill="#3242c8" opacity="0.65"/>
<circle cx="98.7" cy="438.8" r="0.9" fill="#3242c8" opacity="0.65"/>
<circle cx="29.5" cy="425.6" r="1.2" fill="#3242c8" opacity="0.65"/>
<circle cx="46.7" cy="418.6" r="1.0" fill="#3242c8" opacity="0.65"/>
<circle cx="87.8" cy="407.6" r="0.8" fill="#3242c8" opacity="0.65"/>
<circle cx="115.0" cy="435.1" r="0.7" fill="#3242c8" opacity="0.65"/>
<circle cx="46.3" cy="405.3" r="1.1" fill="#3242c8" opacity="0.65"/>
<circle cx="107.0" cy="398.9" r="1.0" fill="#3242c8" opacity="0.65"/>
<circle cx="39.0" cy="428.5" r="0.6" fill="#3242c8" opacity="0.65"/>
<circle cx="80.3" cy="437.5" r="0.9" fill="#3242c8" opacity="0.65"/>
<circle cx="97.9" cy="406.3" r="1.1" fill="#3242c8" opacity="0.65"/>
<circle cx="106.4" cy="414.9" r="1.0" fill="#3242c8" opacity="0.65"/>
<circle cx="62.6" cy="425.3" r="0.8" fill="#3242c8" opacity="0.65"/>
<circle cx="67.7" cy="406.6" r="1.1" fill="#3242c8" opacity="0.65"/>
<circle cx="84.2" cy="428.0" r="0.9" fill="#3242c8" opacity="0.65"/>
<circle cx="87.9" cy="416.2" r="0.8" fill="#3242c8" opacity="0.65"/>
<circle cx="88.0" cy="439.8" r="0.8" fill="#3242c8" opacity="0.65"/>
<circle cx="84.9" cy="407.3" r="0.7" fill="#3242c8" opacity="0.65"/>
<circle cx="115.3" cy="435.2" r="0.8" fill="#3242c8" opacity="0.65"/>
<circle cx="41.9" cy="424.1" r="1.1" fill="#3242c8" opacity="0.65"/>
<circle cx="108.8" cy="411.4" r="0.8" fill="#3242c8" opacity="0.65"/>
<circle cx="65.8" cy="427.8" r="0.7" fill="#3242c8" opacity="0.65"/>
<circle cx="29.1" cy="426.8" r="1.0" fill="#3242c8" opacity="0.65"/>
<circle cx="111.1" cy="415.1" r="0.9" fill="#3242c8" opacity="0.65"/>
<circle cx="71.5" cy="414.7" r="1.0" fill="#3242c8" opacity="0.65"/>
<circle cx="42.0" cy="401.9" r="0.7" fill="#3242c8" opacity="0.65"/>
<circle cx="78.3" cy="406.0" r="1.2" fill="#3242c8" opacity="0.65"/>
<circle cx="112.3" cy="435.9" r="0.8" fill="#3242c8" opacity="0.65"/>
<circle cx="107.2" cy="425.2" r="1.1" fill="#3242c8" opacity="0.65"/>
<circle cx="61.6" cy="408.9" r="0.6" fill="#3242c8" opacity="0.65"/>
<circle cx="115.0" cy="399.5" r="0.6" fill="#3242c8" opacity="0.65"/>
<circle cx="27.2" cy="421.1" r="1.0" fill="#3242c8" opacity="0.65"/>
<circle cx="116.0" cy="431.5" r="0.7" fill="#3242c8" opacity="0.65"/>
<circle cx="118.7" cy="446.0" r="1.1" fill="#3242c8" opacity="0.65"/>
<circle cx="115.4" cy="443.5" r="1.0" fill="#3242c8" opacity="0.65"/>
<circle cx="63.8" cy="424.9" r="0.9" fill="#3242c8" opacity="0.65"/>
<circle cx="54.4" cy="420.6" r="0.8" fill="#3242c8" opacity="0.65"/>
<circle cx="55.0" cy="430.6" r="0.9" fill="#3242c8" opacity="0.65"/>
<circle cx="19.7" cy="417.1" r="1.2" fill="#3242c8" opacity="0.65"/>
<circle cx="74.3" cy="436.1" r="0.8" fill="#3242c8" opacity="0.65"/>
<circle cx="124.2" cy="421.8" r="1.1" fill="#3242c8" opacity="0.65"/>
<circle cx="125.0" cy="447.9" r="1.1" fill="#3242c8" opacity="0.65"/>
<circle cx="57.1" cy="408.7" r="1.1" fill="#3242c8" opacity="0.65"/>
<circle cx="107.3" cy="426.4" r="0.9" fill="#3242c8" opacity="0.65"/>
<circle cx="18.8" cy="424.1" r="0.6" fill="#3242c8" opacity="0.65"/>
<circle cx="62.4" cy="435.0" r="0.9" fill="#3242c8" opacity="0.65"/>
<circle cx="27.9" cy="420.6" r="0.8" fill="#3242c8" opacity="0.65"/>
<circle cx="82.7" cy="417.5" r="1.0" fill="#3242c8" opacity="0.65"/>
<circle cx="104.6" cy="420.1" r="0.9" fill="#3242c8" opacity="0.65"/>
<circle cx="116.8" cy="412.3" r="0.9" fill="#3242c8" opacity="0.65"/>
<circle cx="108.9" cy="443.3" r="1.2" fill="#3242c8" opacity="0.65"/>
<circle cx="94.6" cy="422.2" r="0.9" fill="#3242c8" opacity="0.65"/>
<circle cx="102.1" cy="428.4" r="0.6" fill="#3242c8" opacity="0.65"/>
<circle cx="78.8" cy="431.8" r="0.8" fill="#3242c8" opacity="0.65"/>
<circle cx="107.8" cy="436.9" r="1.1" fill="#3242c8" opacity="0.65"/>
<circle cx="49.3" cy="431.3" r="0.9" fill="#3242c8" opacity="0.65"/>
<circle cx="54.6" cy="405.8" r="0.7" fill="#3242c8" opacity="0.65"/>
<circle cx="108.5" cy="404.3" r="0.8" fill="#3242c8" opacity="0.65"/>
<circle cx="45.2" cy="424.0" r="0.9" fill="#3242c8" opacity="0.65"/>
<circle cx="124.1" cy="407.3" r="1.0" fill="#3242c8" opacity="0.65"/>
<circle cx="115.1" cy="393.8" r="1.2" fill="#3242c8" opacity="0.65"/>
<circle cx="98.7" cy="397.1" r="0.6" fill="#3242c8" opacity="0.65"/>
<circle cx="36.0" cy="427.4" r="0.7" fill="#3242c8" opacity="0.65"/>
<circle cx="25.5" cy="411.7" r="0.6" fill="#3242c8" opacity="0.65"/>
<circle cx="50.9" cy="429.1" r="0.7" fill="#3242c8" opacity="0.65"/>
<circle cx="103.5" cy="403.2" r="0.8" fill="#3242c8" opacity="0.65"/>
<circle cx="77.9" cy="437.5" r="0.9" fill="#3242c8" opacity="0.65"/>
<circle cx="90.4" cy="433.1" r="0.7" fill="#3242c8" opacity="0.65"/>
<circle cx="71.5" cy="421.0" r="0.8" fill="#3242c8" opacity="0.65"/>
<circle cx="52.7" cy="419.4" r="1.1" fill="#3242c8" opacity="0.65"/>
<circle cx="45.2" cy="401.3" r="1.2" fill="#3242c8" opacity="0.65"/>
<circle cx="40.8" cy="422.0" r="1.1" fill="#3242c8" opacity="0.65"/>
<circle cx="52.4" cy="408.9" r="0.6" fill="#3242c8" opacity="0.65"/>
<circle cx="31.6" cy="427.5" r="0.9" fill="#3242c8" opacity="0.65"/>
<circle cx="111.3" cy="416.2" r="0.8" fill="#3242c8" opacity="0.65"/>
<circle cx="69.7" cy="433.4" r="0.7" fill="#3242c8" opacity="0.65"/>
<circle cx="93.3" cy="407.2" r="1.0" fill="#3242c8" opacity="0.65"/>
<circle cx="105.5" cy="434.5" r="1.0" fill="#3242c8" opacity="0.65"/>
<circle cx="78.6" cy="409.5" r="1.1" fill="#3242c8" opacity="0.65"/>
<circle cx="97.4" cy="408.4" r="1.1" fill="#3242c8" opacity="0.65"/>
<circle cx="55.6" cy="428.1" r="1.1" fill="#3242c8" opacity="0.65"/>
<circle cx="121.2" cy="428.5" r="0.7" fill="#3242c8" opacity="0.65"/>
<circle cx="80.4" cy="414.2" r="1.0" fill="#3242c8" opacity="0.65"/>
<circle cx="37.1" cy="420.8" r="1.2" fill="#3242c8" opacity="0.65"/>
<circle cx="36.2" cy="412.2" r="0.8" fill="#3242c8" opacity="0.65"/>
<circle cx="51.7" cy="423.4" r="0.7" fill="#3242c8" opacity="0.65"/>
<circle cx="86.5" cy="411.2" r="0.8" fill="#3242c8" opacity="0.65"/>
<circle cx="110.0" cy="436.9" r="0.9" fill="#3242c8" opacity="0.65"/>
<circle cx="45.8" cy="420.7" r="1.0" fill="#3242c8" opacity="0.65"/>
<circle cx="100.2" cy="431.3" r="0.6" fill="#3242c8" opacity="0.65"/>
<circle cx="77.0" cy="421.0" r="0.7" fill="#3242c8" opacity="0.65"/>
<circle cx="103.1" cy="442.8" r="0.8" fill="#3242c8" opacity="0.65"/>
<circle cx="50.8" cy="420.9" r="0.9" fill="#3242c8" opacity="0.65"/>
<circle cx="122.5" cy="445.3" r="0.9" fill="#3242c8" opacity="0.65"/>
<circle cx="99.7" cy="430.2" r="1.0" fill="#3242c8" opacity="0.65"/>
<circle cx="119.5" cy="421.8" r="0.8" fill="#3242c8" opacity="0.65"/>
<circle cx="42.1" cy="411.9" r="1.1" fill="#3242c8" opacity="0.65"/>
<circle cx="105.3" cy="402.0" r="0.7" fill="#3242c8" opacity="0.65"/>
<circle cx="22.8" cy="417.3" r="0.9" fill="#3242c8" opacity="0.65"/>
<circle cx="126.1" cy="408.3" r="0.6" fill="#3242c8" opacity="0.65"/>
<circle cx="25.1" cy="422.4" r="0.8" fill="#3242c8" opacity="0.65"/>
<circle cx="102.2" cy="413.6" r="0.8" fill="#3242c8" opacity="0.65"/>
<circle cx="100.6" cy="432.6" r="0.7" fill="#3242c8" opacity="0.65"/>
<circle cx="87.9" cy="404.5" r="0.8" fill="#3242c8" opacity="0.65"/>
<circle cx="87.9" cy="434.4" r="0.9" fill="#3242c8" opacity="0.65"/>
<circle cx="96.1" cy="436.7" r="0.6" fill="#3242c8" opacity="0.65"/>
<circle cx="92.9" cy="411.3" r="0.7" fill="#3242c8" opacity="0.65"/>
<circle cx="116.3" cy="403.6" r="0.9" fill="#3242c8" opacity="0.65"/>
<circle cx="49.2" cy="427.9" r="1.0" fill="#3242c8" opacity="0.65"/>
<circle cx="98.8" cy="395.7" r="0.8" fill="#3242c8" opacity="0.65"/>
<circle cx="107.9" cy="421.7" r="1.0" fill="#3242c8" opacity="0.65"/>
<circle cx="67.7" cy="414.4" r="0.6" fill="#3242c8" opacity="0.65"/>
<circle cx="95.3" cy="400.1" r="1.0" fill="#3242c8" opacity="0.65"/>
<circle cx="91.5" cy="404.7" r="0.8" fill="#3242c8" opacity="0.65"/>
<circle cx="114.3" cy="403.4" r="1.0" fill="#3242c8" opacity="0.65"/>
<circle cx="22.2" cy="406.3" r="1.2" fill="#3242c8" opacity="0.65"/>
<circle cx="80.4" cy="418.9" r="0.7" fill="#3242c8" opacity="0.65"/>
<circle cx="24.8" cy="408.4" r="0.8" fill="#3242c8" opacity="0.65"/>
<circle cx="102.6" cy="424.5" r="1.0" fill="#3242c8" opacity="0.65"/>
<circle cx="47.8" cy="412.5" r="0.7" fill="#3242c8" opacity="0.65"/>
<circle cx="90.4" cy="408.6" r="1.0" fill="#3242c8" opacity="0.65"/>
<circle cx="116.6" cy="441.8" r="0.9" fill="#3242c8" opacity="0.65"/>
<circle cx="102.5" cy="434.0" r="1.0" fill="#3242c8" opacity="0.65"/>
<circle cx="32.7" cy="425.6" r="0.6" fill="#3242c8" opacity="0.65"/>
<circle cx="18.3" cy="413.9" r="0.8" fill="#3242c8" opacity="0.65"/>
<circle cx="112.1" cy="409.6" r="0.7" fill="#3242c8" opacity="0.65"/>
<circle cx="125.4" cy="428.3" r="0.7" fill="#3242c8" opacity="0.65"/>
<circle cx="65.3" cy="434.3" r="0.7" fill="#3242c8" opacity="0.65"/>
<circle cx="63.8" cy="431.6" r="1.0" fill="#3242c8" opacity="0.65"/>
<circle cx="47.1" cy="404.7" r="0.9" fill="#3242c8" opacity="0.65"/>
<circle cx="111.7" cy="431.3" r="0.6" fill="#3242c8" opacity="0.65"/>
<circle cx="104.3" cy="438.8" r="1.2" fill="#3242c8" opacity="0.65"/>
<circle cx="60.6" cy="423.9" r="0.7" fill="#3242c8" opacity="0.65"/>
<circle cx="44.9" cy="414.5" r="0.9" fill="#3242c8" opacity="0.65"/>
<circle cx="45.3" cy="423.7" r="0.9" fill="#3242c8" opacity="0.65"/>
<circle cx="41.3" cy="430.3" r="0.8" fill="#3242c8" opacity="0.65"/>
<circle cx="63.3" cy="428.2" r="0.6" fill="#3242c8" opacity="0.65"/>
<circle cx="51.0" cy="408.5" r="1.0" fill="#3242c8" opacity="0.65"/>
<circle cx="54.5" cy="410.3" r="1.0" fill="#3242c8" opacity="0.65"/>
<circle cx="120.0" cy="429.4" r="0.8" fill="#3242c8" opacity="0.65"/>
<circle cx="111.6" cy="410.9" r="0.7" fill="#3242c8" opacity="0.65"/>
<circle cx="111.4" cy="401.1" r="0.8" fill="#3242c8" opacity="0.65"/>
<circle cx="121.8" cy="437.7" r="1.1" fill="#3242c8" opacity="0.65"/>
<circle cx="38.2" cy="425.9" r="1.2" fill="#3242c8" opacity="0.65"/>
<circle cx="98.4" cy="438.0" r="0.7" fill="#3242c8" opacity="0.65"/>
<circle cx="58.0" cy="424.3" r="1.1" fill="#3242c8" opacity="0.65"/>
<circle cx="43.4" cy="422.8" r="1.0" fill="#3242c8" opacity="0.65"/>
<circle cx="92.4" cy="402.9" r="0.7" fill="#3242c8" opacity="0.65"/>
<circle cx="78.6" cy="421.8" r="0.6" fill="#3242c8" opacity="0.65"/>
<circle cx="38.6" cy="404.1" r="1.2" fill="#3242c8" opacity="0.65"/>
<circle cx="23.8" cy="422.0" r="1.1" fill="#3242c8" opacity="0.65"/>
<circle cx="85.7" cy="415.9" r="1.0" fill="#3242c8" opacity="0.65"/>
<circle cx="94.9" cy="418.9" r="0.8" fill="#3242c8" opacity="0.65"/>
<circle cx="107.1" cy="424.2" r="0.9" fill="#3242c8" opacity="0.65"/>
<circle cx="111.9" cy="443.0" r="0.8" fill="#3242c8" opacity="0.65"/>
<circle cx="21.1" cy="426.1" r="0.7" fill="#3242c8" opacity="0.65"/>
<circle cx="78.7" cy="401.7" r="0.8" fill="#3242c8" opacity="0.65"/>
<circle cx="108.0" cy="413.2" r="0.7" fill="#3242c8" opacity="0.65"/>
<circle cx="72.3" cy="401.7" r="1.0" fill="#3242c8" opacity="0.65"/>
<circle cx="122.2" cy="415.5" r="0.6" fill="#3242c8" opacity="0.65"/>
<circle cx="44.8" cy="427.6" r="1.1" fill="#3242c8" opacity="0.65"/>
<circle cx="60.6" cy="423.5" r="1.2" fill="#3242c8" opacity="0.65"/>
<circle cx="71.3" cy="411.6" r="1.1" fill="#3242c8" opacity="0.65"/>
<circle cx="91.3" cy="414.1" r="1.1" fill="#3242c8" opacity="0.65"/>
<circle cx="43.0" cy="408.3" r="1.1" fill="#3242c8" opacity="0.65"/>
<circle cx="120.7" cy="419.1" r="0.7" fill="#3242c8" opacity="0.65"/>
<circle cx="80.0" cy="422.2" r="1.1" fill="#3242c8" opacity="0.65"/>
<circle cx="121.6" cy="417.7" r="0.8" fill="#3242c8" opacity="0.65"/>
<circle cx="126.2" cy="421.2" r="0.9" fill="#3242c8" opacity="0.65"/>
<circle cx="119.7" cy="394.3" r="1.0" fill="#3242c8" opacity="0.65"/>
<circle cx="39.7" cy="407.7" r="1.1" fill="#3242c8" opacity="0.65"/>
<circle cx="109.6" cy="426.6" r="0.8" fill="#3242c8" opacity="0.65"/>
<circle cx="102.2" cy="407.4" r="0.8" fill="#3242c8" opacity="0.65"/>
<circle cx="122.6" cy="408.1" r="0.7" fill="#3242c8" opacity="0.65"/>
<circle cx="105.7" cy="403.7" r="1.0" fill="#3242c8" opacity="0.65"/>
<circle cx="82.7" cy="431.6" r="0.7" fill="#3242c8" opacity="0.65"/>
<circle cx="29.0" cy="427.1" r="1.1" fill="#3242c8" opacity="0.65"/>
<circle cx="110.6" cy="431.8" r="1.2" fill="#3242c8" opacity="0.65"/>
<circle cx="123.1" cy="443.6" r="0.7" fill="#3242c8" opacity="0.65"/>
<circle cx="48.8" cy="416.4" r="0.9" fill="#3242c8" opacity="0.65"/>
<circle cx="28.7" cy="411.7" r="0.7" fill="#3242c8" opacity="0.65"/>
<circle cx="89.9" cy="417.1" r="1.1" fill="#3242c8" opacity="0.65"/>
<circle cx="122.7" cy="446.9" r="0.8" fill="#3242c8" opacity="0.65"/>
<circle cx="63.5" cy="415.6" r="1.2" fill="#3242c8" opacity="0.65"/>
<circle cx="99.6" cy="413.2" r="1.2" fill="#3242c8" opacity="0.65"/>
<circle cx="23.7" cy="419.2" r="0.8" fill="#3242c8" opacity="0.65"/>
<circle cx="76.7" cy="410.2" r="0.8" fill="#3242c8" opacity="0.65"/>
<circle cx="47.8" cy="411.6" r="0.8" fill="#3242c8" opacity="0.65"/>
<circle cx="35.0" cy="423.5" r="1.0" fill="#3242c8" opacity="0.65"/>
<circle cx="39.1" cy="420.0" r="1.1" fill="#3242c8" opacity="0.65"/>
<circle cx="27.2" cy="406.4" r="0.6" fill="#3242c8" opacity="0.65"/>
<circle cx="118.2" cy="438.9" r="0.7" fill="#3242c8" opacity="0.65"/>
<circle cx="83.3" cy="429.3" r="0.8" fill="#3242c8" opacity="0.65"/>
<circle cx="118.7" cy="408.8" r="0.7" fill="#3242c8" opacity="0.65"/>
<circle cx="104.1" cy="398.5" r="0.6" fill="#3242c8" opacity="0.65"/>
<circle cx="125.3" cy="399.1" r="0.7" fill="#3242c8" opacity="0.65"/>
<circle cx="89.0" cy="435.4" r="1.0" fill="#3242c8" opacity="0.65"/>
<circle cx="103.4" cy="401.0" r="0.9" fill="#3242c8" opacity="0.65"/>
<circle cx="46.1" cy="418.2" r="1.1" fill="#3242c8" opacity="0.65"/>
<circle cx="66.7" cy="411.1" r="0.9" fill="#3242c8" opacity="0.65"/>
<circle cx="77.4" cy="412.2" r="1.1" fill="#3242c8" opacity="0.65"/>
<circle cx="82.6" cy="435.1" r="1.0" fill="#3242c8" opacity="0.65"/>
<circle cx="24.5" cy="425.5" r="0.9" fill="#3242c8" opacity="0.65"/>
<circle cx="66.0" cy="401.7" r="1.2" fill="#3242c8" opacity="0.65"/>
<circle cx="104.5" cy="438.8" r="1.1" fill="#3242c8" opacity="0.65"/>
<circle cx="102.6" cy="431.8" r="0.6" fill="#3242c8" opacity="0.65"/>
<circle cx="52.5" cy="408.3" r="1.1" fill="#3242c8" opacity="0.65"/>
<circle cx="58.4" cy="404.0" r="1.0" fill="#3242c8" opacity="0.65"/>
<circle cx="45.6" cy="402.1" r="1.1" fill="#3242c8" opacity="0.65"/>
<circle cx="32.3" cy="411.3" r="0.7" fill="#3242c8" opacity="0.65"/>
<circle cx="44.4" cy="420.4" r="1.1" fill="#3242c8" opacity="0.65"/>
<circle cx="108.5" cy="405.3" r="0.8" fill="#3242c8" opacity="0.65"/>
<circle cx="75.6" cy="421.0" r="0.7" fill="#3242c8" opacity="0.65"/>
<circle cx="24.6" cy="410.0" r="0.7" fill="#3242c8" opacity="0.65"/>
<circle cx="96.9" cy="435.4" r="0.9" fill="#3242c8" opacity="0.65"/>
<circle cx="38.9" cy="427.6" r="0.8" fill="#3242c8" opacity="0.65"/>
<circle cx="113.7" cy="444.5" r="1.1" fill="#3242c8" opacity="0.65"/>
<circle cx="27.6" cy="412.6" r="1.2" fill="#3242c8" opacity="0.65"/>
<circle cx="79.4" cy="404.9" r="1.0" fill="#3242c8" opacity="0.65"/>
<circle cx="52.4" cy="427.2" r="1.0" fill="#3242c8" opacity="0.65"/>
<circle cx="95.4" cy="426.1" r="0.8" fill="#3242c8" opacity="0.65"/>
<circle cx="28.4" cy="409.9" r="1.1" fill="#3242c8" opacity="0.65"/>
<circle cx="111.9" cy="398.7" r="1.0" fill="#3242c8" opacity="0.65"/>
<circle cx="57.7" cy="411.2" r="1.1" fill="#3242c8" opacity="0.65"/>
<circle cx="81.3" cy="423.8" r="1.2" fill="#3242c8" opacity="0.65"/>
</g>
<g filter="url(#blurS)">
<circle cx="66.7" cy="445.7" r="1.2" fill="#3444d0" opacity="0.8"/>
<circle cx="68.2" cy="443.4" r="1.0" fill="#3444d0" opacity="0.8"/>
<circle cx="37.6" cy="443.5" r="1.0" fill="#3444d0" opacity="0.8"/>
<circle cx="105.6" cy="451.9" r="0.6" fill="#3444d0" opacity="0.8"/>
<circle cx="124.4" cy="464.4" r="1.0" fill="#3444d0" opacity="0.8"/>
<circle cx="19.1" cy="444.3" r="0.6" fill="#3444d0" opacity="0.8"/>
<circle cx="20.8" cy="441.3" r="0.9" fill="#3444d0" opacity="0.8"/>
<circle cx="87.2" cy="443.0" r="1.0" fill="#3444d0" opacity="0.8"/>
<circle cx="126.0" cy="465.8" r="1.1" fill="#3444d0" opacity="0.8"/>
<circle cx="42.5" cy="433.3" r="0.6" fill="#3444d0" opacity="0.8"/>
<circle cx="121.7" cy="459.0" r="0.6" fill="#3444d0" opacity="0.8"/>
<circle cx="68.6" cy="465.1" r="0.8" fill="#3444d0" opacity="0.8"/>
<circle cx="25.4" cy="449.0" r="1.1" fill="#3444d0" opacity="0.8"/>
<circle cx="53.7" cy="464.3" r="1.1" fill="#3444d0" opacity="0.8"/>
<circle cx="30.3" cy="431.3" r="0.7" fill="#3444d0" opacity="0.8"/>
<circle cx="36.8" cy="445.7" r="0.9" fill="#3444d0" opacity="0.8"/>
<circle cx="31.7" cy="449.6" r="0.7" fill="#3444d0" opacity="0.8"/>
<circle cx="46.9" cy="464.7" r="1.1" fill="#3444d0" opacity="0.8"/>
<circle cx="50.6" cy="460.7" r="0.7" fill="#3444d0" opacity="0.8"/>
<circle cx="60.4" cy="459.3" r="1.0" fill="#3444d0" opacity="0.8"/>
<circle cx="27.3" cy="446.8" r="0.7" fill="#3444d0" opacity="0.8"/>
<circle cx="66.8" cy="464.1" r="0.9" fill="#3444d0" opacity="0.8"/>
<circle cx="80.0" cy="459.9" r="0.7" fill="#3444d0" opacity="0.8"/>
<circle cx="120.9" cy="460.6" r="1.0" fill="#3444d0" opacity="0.8"/>
<circle cx="45.5" cy="457.9" r="1.0" fill="#3444d0" opacity="0.8"/>
<circle cx="42.3" cy="445.7" r="1.1" fill="#3444d0" opacity="0.8"/>
<circle cx="19.3" cy="432.4" r="0.9" fill="#3444d0" opacity="0.8"/>
<circle cx="57.6" cy="446.3" r="0.7" fill="#3444d0" opacity="0.8"/>
<circle cx="56.9" cy="461.0" r="1.2" fill="#3444d0" opacity="0.8"/>
<circle cx="89.0" cy="451.8" r="1.0" fill="#3444d0" opacity="0.8"/>
<circle cx="93.8" cy="464.3" r="0.6" fill="#3444d0" opacity="0.8"/>
<circle cx="76.9" cy="453.9" r="1.1" fill="#3444d0" opacity="0.8"/>
<circle cx="97.7" cy="452.4" r="1.1" fill="#3444d0" opacity="0.8"/>
<circle cx="92.0" cy="461.4" r="1.1" fill="#3444d0" opacity="0.8"/>
<circle cx="62.9" cy="456.4" r="1.1" fill="#3444d0" opacity="0.8"/>
<circle cx="79.8" cy="448.7" r="0.8" fill="#3444d0" opacity="0.8"/>
<circle cx="80.9" cy="448.0" r="0.6" fill="#3444d0" opacity="0.8"/>
<circle cx="87.1" cy="465.7" r="1.1" fill="#3444d0" opacity="0.8"/>
<circle cx="97.5" cy="446.7" r="0.9" fill="#3444d0" opacity="0.8"/>
<circle cx="82.9" cy="442.1" r="0.7" fill="#3444d0" opacity="0.8"/>
<circle cx="84.4" cy="462.3" r="0.8" fill="#3444d0" opacity="0.8"/>
<circle cx="18.7" cy="433.8" r="1.0" fill="#3444d0" opacity="0.8"/>
<circle cx="116.0" cy="450.4" r="0.9" fill="#3444d0" opacity="0.8"/>
<circle cx="64.4" cy="457.1" r="1.1" fill="#3444d0" opacity="0.8"/>
<circle cx="32.3" cy="442.8" r="1.1" fill="#3444d0" opacity="0.8"/>
<circle cx="109.8" cy="452.7" r="1.2" fill="#3444d0" opacity="0.8"/>
<circle cx="40.8" cy="439.0" r="1.0" fill="#3444d0" opacity="0.8"/>
<circle cx="108.8" cy="465.2" r="0.9" fill="#3444d0" opacity="0.8"/>
<circle cx="94.6" cy="446.2" r="0.8" fill="#3444d0" opacity="0.8"/>
<circle cx="32.3" cy="440.9" r="0.6" fill="#3444d0" opacity="0.8"/>
<circle cx="86.0" cy="450.1" r="1.1" fill="#3444d0" opacity="0.8"/>
<circle cx="121.8" cy="451.5" r="0.7" fill="#3444d0" opacity="0.8"/>
<circle cx="18.7" cy="441.7" r="1.0" fill="#3444d0" opacity="0.8"/>
<circle cx="37.0" cy="432.5" r="0.8" fill="#3444d0" opacity="0.8"/>
<circle cx="93.4" cy="443.9" r="1.0" fill="#3444d0" opacity="0.8"/>
<circle cx="103.7" cy="461.7" r="0.7" fill="#3444d0" opacity="0.8"/>
<circle cx="119.0" cy="453.2" r="0.7" fill="#3444d0" opacity="0.8"/>
<circle cx="66.8" cy="448.8" r="1.1" fill="#3444d0" opacity="0.8"/>
<circle cx="58.5" cy="446.2" r="1.1" fill="#3444d0" opacity="0.8"/>
<circle cx="104.2" cy="463.4" r="0.9" fill="#3444d0" opacity="0.8"/>
<circle cx="96.0" cy="457.6" r="1.0" fill="#3444d0" opacity="0.8"/>
<circle cx="115.4" cy="465.1" r="1.2" fill="#3444d0" opacity="0.8"/>
<circle cx="75.9" cy="456.4" r="0.8" fill="#3444d0" opacity="0.8"/>
<circle cx="116.5" cy="459.4" r="0.8" fill="#3444d0" opacity="0.8"/>
<circle cx="26.5" cy="440.3" r="0.9" fill="#3444d0" opacity="0.8"/>
<circle cx="36.3" cy="435.4" r="1.1" fill="#3444d0" opacity="0.8"/>
<circle cx="73.7" cy="453.3" r="1.1" fill="#3444d0" opacity="0.8"/>
<circle cx="92.5" cy="463.5" r="0.9" fill="#3444d0" opacity="0.8"/>
<circle cx="41.6" cy="444.2" r="0.8" fill="#3444d0" opacity="0.8"/>
<circle cx="96.8" cy="449.4" r="0.9" fill="#3444d0" opacity="0.8"/>
<circle cx="51.4" cy="437.5" r="1.1" fill="#3444d0" opacity="0.8"/>
<circle cx="110.1" cy="464.5" r="0.9" fill="#3444d0" opacity="0.8"/>
<circle cx="75.8" cy="443.1" r="1.0" fill="#3444d0" opacity="0.8"/>
<circle cx="70.9" cy="451.8" r="0.6" fill="#3444d0" opacity="0.8"/>
<circle cx="121.6" cy="462.5" r="0.8" fill="#3444d0" opacity="0.8"/>
<circle cx="64.7" cy="457.5" r="1.1" fill="#3444d0" opacity="0.8"/>
<circle cx="38.3" cy="448.4" r="1.2" fill="#3444d0" opacity="0.8"/>
<circle cx="20.0" cy="428.9" r="0.7" fill="#3444d0" opacity="0.8"/>
<circle cx="56.2" cy="448.5" r="0.7" fill="#3444d0" opacity="0.8"/>
<circle cx="39.0" cy="444.4" r="0.9" fill="#3444d0" opacity="0.8"/>
<circle cx="58.4" cy="439.0" r="0.9" fill="#3444d0" opacity="0.8"/>
<circle cx="86.2" cy="449.4" r="0.9" fill="#3444d0" opacity="0.8"/>
<circle cx="110.1" cy="448.1" r="1.1" fill="#3444d0" opacity="0.8"/>
<circle cx="105.7" cy="461.5" r="0.8" fill="#3444d0" opacity="0.8"/>
<circle cx="51.8" cy="462.4" r="0.7" fill="#3444d0" opacity="0.8"/>
<circle cx="126.1" cy="460.8" r="0.7" fill="#3444d0" opacity="0.8"/>
<circle cx="61.3" cy="451.5" r="0.6" fill="#3444d0" opacity="0.8"/>
<circle cx="116.7" cy="464.5" r="0.7" fill="#3444d0" opacity="0.8"/>
<circle cx="72.5" cy="454.9" r="0.9" fill="#3444d0" opacity="0.8"/>
<circle cx="21.6" cy="445.4" r="0.9" fill="#3444d0" opacity="0.8"/>
<circle cx="108.9" cy="465.6" r="1.2" fill="#3444d0" opacity="0.8"/>
<circle cx="68.3" cy="443.7" r="0.9" fill="#3444d0" opacity="0.8"/>
<circle cx="93.8" cy="458.8" r="0.7" fill="#3444d0" opacity="0.8"/>
<circle cx="66.9" cy="454.0" r="0.8" fill="#3444d0" opacity="0.8"/>
<circle cx="114.7" cy="456.9" r="1.0" fill="#3444d0" opacity="0.8"/>
<circle cx="111.1" cy="449.0" r="0.8" fill="#3444d0" opacity="0.8"/>
<circle cx="82.7" cy="443.2" r="1.2" fill="#3444d0" opacity="0.8"/>
<circle cx="116.6" cy="454.2" r="1.1" fill="#3444d0" opacity="0.8"/>
<circle cx="115.0" cy="460.5" r="1.0" fill="#3444d0" opacity="0.8"/>
<circle cx="101.0" cy="455.2" r="0.8" fill="#3444d0" opacity="0.8"/>
<circle cx="54.7" cy="441.6" r="0.6" fill="#3444d0" opacity="0.8"/>
<circle cx="56.2" cy="449.4" r="1.0" fill="#3444d0" opacity="0.8"/>
<circle cx="89.3" cy="446.2" r="0.9" fill="#3444d0" opacity="0.8"/>
<circle cx="59.9" cy="466.0" r="1.0" fill="#3444d0" opacity="0.8"/>
<circle cx="93.8" cy="455.0" r="1.2" fill="#3444d0" opacity="0.8"/>
<circle cx="20.0" cy="448.3" r="1.0" fill="#3444d0" opacity="0.8"/>
<circle cx="45.4" cy="438.5" r="0.6" fill="#3444d0" opacity="0.8"/>
<circle cx="38.8" cy="437.3" r="0.7" fill="#3444d0" opacity="0.8"/>
<circle cx="77.3" cy="443.4" r="1.2" fill="#3444d0" opacity="0.8"/>
<circle cx="79.3" cy="465.8" r="1.0" fill="#3444d0" opacity="0.8"/>
<circle cx="82.5" cy="454.9" r="0.6" fill="#3444d0" opacity="0.8"/>
<circle cx="71.4" cy="448.1" r="0.6" fill="#3444d0" opacity="0.8"/>
<circle cx="74.8" cy="447.5" r="0.8" fill="#3444d0" opacity="0.8"/>
<circle cx="48.6" cy="450.1" r="0.9" fill="#3444d0" opacity="0.8"/>
<circle cx="48.3" cy="453.0" r="0.8" fill="#3444d0" opacity="0.8"/>
<circle cx="19.0" cy="431.3" r="0.6" fill="#3444d0" opacity="0.8"/>
<circle cx="59.9" cy="461.3" r="1.0" fill="#3444d0" opacity="0.8"/>
<circle cx="69.5" cy="464.8" r="0.7" fill="#3444d0" opacity="0.8"/>
<circle cx="74.4" cy="463.1" r="1.0" fill="#3444d0" opacity="0.8"/>
<circle cx="68.5" cy="465.0" r="1.1" fill="#3444d0" opacity="0.8"/>
<circle cx="65.7" cy="450.7" r="0.9" fill="#3444d0" opacity="0.8"/>
<circle cx="46.0" cy="446.8" r="0.9" fill="#3444d0" opacity="0.8"/>
<circle cx="126.0" cy="463.8" r="1.0" fill="#3444d0" opacity="0.8"/>
<circle cx="114.6" cy="456.1" r="1.0" fill="#3444d0" opacity="0.8"/>
<circle cx="92.0" cy="446.0" r="1.0" fill="#3444d0" opacity="0.8"/>
<circle cx="86.4" cy="454.7" r="0.7" fill="#3444d0" opacity="0.8"/>
<circle cx="117.1" cy="460.4" r="0.6" fill="#3444d0" opacity="0.8"/>
<circle cx="24.1" cy="432.5" r="0.9" fill="#3444d0" opacity="0.8"/>
<circle cx="77.4" cy="449.0" r="0.8" fill="#3444d0" opacity="0.8"/>
<circle cx="54.9" cy="454.3" r="1.1" fill="#3444d0" opacity="0.8"/>
<circle cx="105.5" cy="448.7" r="1.1" fill="#3444d0" opacity="0.8"/>
<circle cx="40.7" cy="439.5" r="0.8" fill="#3444d0" opacity="0.8"/>
<circle cx="88.6" cy="465.5" r="0.8" fill="#3444d0" opacity="0.8"/>
<circle cx="77.2" cy="454.3" r="1.2" fill="#3444d0" opacity="0.8"/>
<circle cx="78.9" cy="442.3" r="1.0" fill="#3444d0" opacity="0.8"/>
<circle cx="50.0" cy="455.7" r="0.6" fill="#3444d0" opacity="0.8"/>
<circle cx="26.4" cy="434.0" r="1.0" fill="#3444d0" opacity="0.8"/>
<circle cx="33.0" cy="436.5" r="1.0" fill="#3444d0" opacity="0.8"/>
<circle cx="94.7" cy="446.2" r="1.2" fill="#3444d0" opacity="0.8"/>
<circle cx="119.8" cy="462.0" r="0.9" fill="#3444d0" opacity="0.8"/>
<circle cx="52.1" cy="438.4" r="1.2" fill="#3444d0" opacity="0.8"/>
<circle cx="56.9" cy="436.8" r="0.8" fill="#3444d0" opacity="0.8"/>
<circle cx="60.5" cy="437.8" r="0.7" fill="#3444d0" opacity="0.8"/>
<circle cx="78.8" cy="456.7" r="0.9" fill="#3444d0" opacity="0.8"/>
<circle cx="19.9" cy="443.7" r="0.9" fill="#3444d0" opacity="0.8"/>
<circle cx="79.2" cy="464.5" r="1.0" fill="#3444d0" opacity="0.8"/>
<circle cx="77.0" cy="456.3" r="0.7" fill="#3444d0" opacity="0.8"/>
<circle cx="98.6" cy="449.9" r="0.7" fill="#3444d0" opacity="0.8"/>
<circle cx="74.2" cy="455.2" r="0.8" fill="#3444d0" opacity="0.8"/>
<circle cx="54.3" cy="464.5" r="1.0" fill="#3444d0" opacity="0.8"/>
<circle cx="71.2" cy="444.7" r="1.0" fill="#3444d0" opacity="0.8"/>
<circle cx="94.5" cy="462.1" r="0.8" fill="#3444d0" opacity="0.8"/>
<circle cx="107.4" cy="450.7" r="1.1" fill="#3444d0" opacity="0.8"/>
<circle cx="105.2" cy="458.4" r="1.1" fill="#3444d0" opacity="0.8"/>
<circle cx="74.5" cy="452.7" r="1.1" fill="#3444d0" opacity="0.8"/>
<circle cx="63.4" cy="439.3" r="0.7" fill="#3444d0" opacity="0.8"/>
<circle cx="98.1" cy="465.6" r="0.8" fill="#3444d0" opacity="0.8"/>
<circle cx="88.0" cy="455.7" r="0.7" fill="#3444d0" opacity="0.8"/>
<circle cx="24.3" cy="441.1" r="1.0" fill="#3444d0" opacity="0.8"/>
<circle cx="95.5" cy="447.4" r="0.7" fill="#3444d0" opacity="0.8"/>
<circle cx="37.6" cy="432.9" r="0.7" fill="#3444d0" opacity="0.8"/>
<circle cx="77.1" cy="457.6" r="0.9" fill="#3444d0" opacity="0.8"/>
<circle cx="45.8" cy="460.8" r="1.1" fill="#3444d0" opacity="0.8"/>
<circle cx="54.7" cy="445.2" r="1.2" fill="#3444d0" opacity="0.8"/>
<circle cx="74.9" cy="443.7" r="0.8" fill="#3444d0" opacity="0.8"/>
<circle cx="104.2" cy="452.8" r="1.0" fill="#3444d0" opacity="0.8"/>
<circle cx="86.8" cy="465.7" r="0.8" fill="#3444d0" opacity="0.8"/>
<circle cx="106.9" cy="458.9" r="1.1" fill="#3444d0" opacity="0.8"/>
<circle cx="26.5" cy="432.4" r="1.0" fill="#3444d0" opacity="0.8"/>
<circle cx="28.1" cy="442.1" r="0.9" fill="#3444d0" opacity="0.8"/>
<circle cx="76.6" cy="444.2" r="0.7" fill="#3444d0" opacity="0.8"/>
<circle cx="50.8" cy="441.5" r="1.0" fill="#3444d0" opacity="0.8"/>
<circle cx="56.6" cy="451.6" r="0.7" fill="#3444d0" opacity="0.8"/>
<circle cx="60.4" cy="441.2" r="1.2" fill="#3444d0" opacity="0.8"/>
<circle cx="107.8" cy="450.1" r="0.6" fill="#3444d0" opacity="0.8"/>
<circle cx="58.5" cy="452.7" r="0.7" fill="#3444d0" opacity="0.8"/>
<circle cx="78.9" cy="441.1" r="0.6" fill="#3444d0" opacity="0.8"/>
<circle cx="125.4" cy="456.8" r="0.7" fill="#3444d0" opacity="0.8"/>
<circle cx="58.4" cy="444.8" r="0.8" fill="#3444d0" opacity="0.8"/>
<circle cx="54.2" cy="438.0" r="1.0" fill="#3444d0" opacity="0.8"/>
<circle cx="91.2" cy="452.6" r="0.7" fill="#3444d0" opacity="0.8"/>
<circle cx="61.3" cy="458.5" r="1.0" fill="#3444d0" opacity="0.8"/>
<circle cx="27.3" cy="430.4" r="0.7" fill="#3444d0" opacity="0.8"/>
<circle cx="31.0" cy="438.7" r="0.6" fill="#3444d0" opacity="0.8"/>
<circle cx="73.2" cy="449.8" r="1.1" fill="#3444d0" opacity="0.8"/>
<circle cx="53.6" cy="439.0" r="0.6" fill="#3444d0" opacity="0.8"/>
<circle cx="61.1" cy="452.2" r="1.2" fill="#3444d0" opacity="0.8"/>
<circle cx="103.4" cy="450.4" r="1.0" fill="#3444d0" opacity="0.8"/>
<circle cx="19.5" cy="435.2" r="0.8" fill="#3444d0" opacity="0.8"/>
<circle cx="58.6" cy="443.4" r="1.1" fill="#3444d0" opacity="0.8"/>
</g>
<g filter="url(#blurS)">
<circle cx="45.7" cy="395.6" r="0.9" fill="#202a78" opacity="0.5"/>
<circle cx="42.0" cy="397.0" r="0.7" fill="#202a78" opacity="0.5"/>
<circle cx="49.6" cy="387.9" r="1.0" fill="#202a78" opacity="0.5"/>
<circle cx="110.0" cy="389.6" r="1.0" fill="#202a78" opacity="0.5"/>
<circle cx="78.9" cy="387.9" r="0.8" fill="#202a78" opacity="0.5"/>
<circle cx="64.3" cy="384.4" r="0.7" fill="#202a78" opacity="0.5"/>
<circle cx="77.8" cy="397.5" r="0.7" fill="#202a78" opacity="0.5"/>
<circle cx="91.1" cy="388.3" r="0.7" fill="#202a78" opacity="0.5"/>
<circle cx="39.5" cy="390.7" r="0.7" fill="#202a78" opacity="0.5"/>
<circle cx="67.5" cy="393.2" r="0.8" fill="#202a78" opacity="0.5"/>
<circle cx="31.7" cy="389.7" r="0.7" fill="#202a78" opacity="0.5"/>
<circle cx="59.9" cy="396.6" r="1.1" fill="#202a78" opacity="0.5"/>
<circle cx="39.6" cy="400.6" r="0.8" fill="#202a78" opacity="0.5"/>
<circle cx="123.2" cy="393.1" r="1.0" fill="#202a78" opacity="0.5"/>
<circle cx="40.5" cy="393.5" r="0.9" fill="#202a78" opacity="0.5"/>
<circle cx="81.8" cy="385.8" r="1.0" fill="#202a78" opacity="0.5"/>
<circle cx="35.4" cy="395.5" r="0.7" fill="#202a78" opacity="0.5"/>
<circle cx="87.5" cy="391.7" r="0.9" fill="#202a78" opacity="0.5"/>
<circle cx="21.7" cy="388.2" r="0.8" fill="#202a78" opacity="0.5"/>
<circle cx="68.6" cy="386.0" r="1.0" fill="#202a78" opacity="0.5"/>
<circle cx="18.1" cy="385.0" r="0.8" fill="#202a78" opacity="0.5"/>
<circle cx="123.0" cy="390.5" r="0.8" fill="#202a78" opacity="0.5"/>
<circle cx="21.0" cy="390.0" r="1.1" fill="#202a78" opacity="0.5"/>
<circle cx="45.6" cy="392.6" r="0.8" fill="#202a78" opacity="0.5"/>
<circle cx="39.7" cy="385.5" r="0.6" fill="#202a78" opacity="0.5"/>
<circle cx="100.0" cy="393.0" r="0.6" fill="#202a78" opacity="0.5"/>
<circle cx="69.8" cy="391.6" r="0.8" fill="#202a78" opacity="0.5"/>
<circle cx="49.0" cy="388.0" r="0.7" fill="#202a78" opacity="0.5"/>
<circle cx="50.5" cy="386.7" r="0.6" fill="#202a78" opacity="0.5"/>
<circle cx="31.5" cy="385.8" r="0.8" fill="#202a78" opacity="0.5"/>
<circle cx="22.2" cy="391.1" r="0.7" fill="#202a78" opacity="0.5"/>
<circle cx="104.9" cy="384.7" r="1.0" fill="#202a78" opacity="0.5"/>
<circle cx="69.6" cy="386.1" r="0.8" fill="#202a78" opacity="0.5"/>
<circle cx="95.7" cy="395.0" r="1.1" fill="#202a78" opacity="0.5"/>
<circle cx="65.4" cy="392.2" r="0.9" fill="#202a78" opacity="0.5"/>
<circle cx="20.8" cy="396.8" r="0.7" fill="#202a78" opacity="0.5"/>
<circle cx="63.7" cy="393.7" r="1.0" fill="#202a78" opacity="0.5"/>
<circle cx="102.9" cy="388.5" r="0.6" fill="#202a78" opacity="0.5"/>
<circle cx="44.4" cy="400.5" r="1.0" fill="#202a78" opacity="0.5"/>
<circle cx="100.4" cy="389.5" r="0.7" fill="#202a78" opacity="0.5"/>
<circle cx="58.4" cy="389.3" r="0.7" fill="#202a78" opacity="0.5"/>
<circle cx="28.7" cy="392.7" r="0.8" fill="#202a78" opacity="0.5"/>
<circle cx="113.8" cy="389.9" r="0.9" fill="#202a78" opacity="0.5"/>
<circle cx="98.6" cy="394.5" r="0.8" fill="#202a78" opacity="0.5"/>
<circle cx="23.3" cy="390.0" r="1.1" fill="#202a78" opacity="0.5"/>
<circle cx="45.5" cy="389.6" r="0.9" fill="#202a78" opacity="0.5"/>
<circle cx="44.0" cy="390.9" r="0.6" fill="#202a78" opacity="0.5"/>
<circle cx="66.4" cy="397.8" r="0.8" fill="#202a78" opacity="0.5"/>
<circle cx="93.7" cy="387.8" r="1.1" fill="#202a78" opacity="0.5"/>
<circle cx="90.1" cy="392.7" r="0.7" fill="#202a78" opacity="0.5"/>
<circle cx="32.0" cy="396.8" r="0.9" fill="#202a78" opacity="0.5"/>
<circle cx="23.6" cy="394.3" r="0.9" fill="#202a78" opacity="0.5"/>
<circle cx="73.2" cy="398.3" r="1.0" fill="#202a78" opacity="0.5"/>
<circle cx="59.0" cy="399.4" r="0.8" fill="#202a78" opacity="0.5"/>
<circle cx="79.7" cy="387.4" r="1.1" fill="#202a78" opacity="0.5"/>
<circle cx="54.3" cy="395.2" r="1.1" fill="#202a78" opacity="0.5"/>
<circle cx="91.9" cy="386.3" r="0.6" fill="#202a78" opacity="0.5"/>
<circle cx="69.5" cy="387.4" r="1.0" fill="#202a78" opacity="0.5"/>
<circle cx="66.2" cy="387.3" r="0.9" fill="#202a78" opacity="0.5"/>
<circle cx="42.7" cy="392.0" r="1.0" fill="#202a78" opacity="0.5"/>
<circle cx="89.2" cy="396.3" r="1.0" fill="#202a78" opacity="0.5"/>
<circle cx="85.1" cy="390.6" r="0.9" fill="#202a78" opacity="0.5"/>
<circle cx="94.3" cy="387.8" r="0.8" fill="#202a78" opacity="0.5"/>
<circle cx="80.5" cy="391.6" r="1.1" fill="#202a78" opacity="0.5"/>
<circle cx="48.0" cy="396.5" r="0.6" fill="#202a78" opacity="0.5"/>
<circle cx="45.2" cy="399.2" r="0.7" fill="#202a78" opacity="0.5"/>
<circle cx="94.1" cy="392.3" r="0.8" fill="#202a78" opacity="0.5"/>
<circle cx="53.6" cy="385.9" r="0.6" fill="#202a78" opacity="0.5"/>
<circle cx="28.5" cy="398.9" r="1.0" fill="#202a78" opacity="0.5"/>
<circle cx="66.2" cy="387.6" r="0.7" fill="#202a78" opacity="0.5"/>
</g>
<ellipse cx="52" cy="419" rx="4" ry="5" fill="#78b828" opacity="0.75" filter="url(#blur1)"/>
<ellipse cx="58" cy="424" rx="3" ry="4" fill="#78b828" opacity="0.75" filter="url(#blur1)"/>
<ellipse cx="87" cy="432" rx="5" ry="6" fill="#78b828" opacity="0.75" filter="url(#blur1)"/>
<ellipse cx="99" cy="438" rx="4" ry="5" fill="#78b828" opacity="0.75" filter="url(#blur1)"/>
<ellipse cx="45" cy="428" rx="2.5" ry="3" fill="#78b828" opacity="0.75" filter="url(#blur1)"/>
<ellipse cx="110" cy="427" rx="2.5" ry="3" fill="#78b828" opacity="0.75" filter="url(#blur1)"/>
<ellipse cx="73" cy="421" rx="2" ry="3" fill="#78b828" opacity="0.75" filter="url(#blur1)"/>
<ellipse cx="84" cy="441" rx="3" ry="2" fill="#78b828" opacity="0.75" filter="url(#blur1)"/>
<ellipse cx="66" cy="430" rx="2" ry="3" fill="#78b828" opacity="0.75" filter="url(#blur1)"/>
<ellipse cx="38" cy="424" rx="2" ry="3" fill="#78b828" opacity="0.75" filter="url(#blur1)"/>
<ellipse cx="113" cy="430" rx="5" ry="9" fill="#1a2470" stroke="#4858d8" stroke-width="1.6" opacity="0.7"/>
<ellipse cx="121" cy="438" rx="4" ry="8" fill="#1a2470" stroke="#4858d8" stroke-width="1.6" opacity="0.7"/>
</g>
<clipPath id="cE2"><rect x="128.0" y="357.4" width="109.4" height="108.6"/></clipPath>
<g clip-path="url(#cE2)">
<rect x="128.00" y="357.40" width="109.40" height="108.60" fill="#0b0e10" />
<path d="M128,402 L237.4,428 L237.4,462 L128,432 Z" fill="#1a2260"/>
<g filter="url(#blurS)">
<circle cx="192.8" cy="427.1" r="1.0" fill="#3a48d0" opacity="0.8"/>
<circle cx="142.3" cy="412.3" r="1.0" fill="#3a48d0" opacity="0.8"/>
<circle cx="152.2" cy="429.1" r="0.7" fill="#3a48d0" opacity="0.8"/>
<circle cx="174.1" cy="432.8" r="1.1" fill="#3a48d0" opacity="0.8"/>
<circle cx="213.7" cy="437.7" r="1.1" fill="#3a48d0" opacity="0.8"/>
<circle cx="168.3" cy="436.6" r="1.1" fill="#3a48d0" opacity="0.8"/>
<circle cx="179.9" cy="445.9" r="1.1" fill="#3a48d0" opacity="0.8"/>
<circle cx="177.0" cy="441.1" r="0.8" fill="#3a48d0" opacity="0.8"/>
<circle cx="147.5" cy="420.7" r="1.2" fill="#3a48d0" opacity="0.8"/>
<circle cx="149.4" cy="407.3" r="0.8" fill="#3a48d0" opacity="0.8"/>
<circle cx="132.3" cy="417.6" r="1.0" fill="#3a48d0" opacity="0.8"/>
<circle cx="168.4" cy="418.5" r="0.9" fill="#3a48d0" opacity="0.8"/>
<circle cx="213.1" cy="435.1" r="0.9" fill="#3a48d0" opacity="0.8"/>
<circle cx="205.4" cy="453.0" r="0.8" fill="#3a48d0" opacity="0.8"/>
<circle cx="134.1" cy="426.6" r="0.7" fill="#3a48d0" opacity="0.8"/>
<circle cx="216.6" cy="444.0" r="1.3" fill="#3a48d0" opacity="0.8"/>
<circle cx="209.9" cy="422.2" r="1.3" fill="#3a48d0" opacity="0.8"/>
<circle cx="169.2" cy="412.4" r="0.7" fill="#3a48d0" opacity="0.8"/>
<circle cx="155.7" cy="427.0" r="1.2" fill="#3a48d0" opacity="0.8"/>
<circle cx="176.6" cy="421.9" r="1.2" fill="#3a48d0" opacity="0.8"/>
<circle cx="203.2" cy="426.4" r="1.1" fill="#3a48d0" opacity="0.8"/>
<circle cx="218.8" cy="440.9" r="0.8" fill="#3a48d0" opacity="0.8"/>
<circle cx="160.3" cy="426.2" r="1.2" fill="#3a48d0" opacity="0.8"/>
<circle cx="188.9" cy="435.2" r="1.2" fill="#3a48d0" opacity="0.8"/>
<circle cx="164.4" cy="435.8" r="1.2" fill="#3a48d0" opacity="0.8"/>
<circle cx="136.6" cy="436.0" r="1.0" fill="#3a48d0" opacity="0.8"/>
<circle cx="153.7" cy="435.9" r="1.0" fill="#3a48d0" opacity="0.8"/>
<circle cx="177.2" cy="446.0" r="0.7" fill="#3a48d0" opacity="0.8"/>
<circle cx="146.9" cy="428.8" r="1.0" fill="#3a48d0" opacity="0.8"/>
<circle cx="180.5" cy="444.1" r="1.0" fill="#3a48d0" opacity="0.8"/>
<circle cx="188.8" cy="433.7" r="0.9" fill="#3a48d0" opacity="0.8"/>
<circle cx="223.9" cy="455.3" r="1.0" fill="#3a48d0" opacity="0.8"/>
<circle cx="213.0" cy="443.1" r="1.1" fill="#3a48d0" opacity="0.8"/>
<circle cx="159.9" cy="420.5" r="0.9" fill="#3a48d0" opacity="0.8"/>
<circle cx="165.3" cy="424.8" r="1.0" fill="#3a48d0" opacity="0.8"/>
<circle cx="217.3" cy="430.6" r="1.0" fill="#3a48d0" opacity="0.8"/>
<circle cx="155.9" cy="417.8" r="0.8" fill="#3a48d0" opacity="0.8"/>
<circle cx="151.8" cy="416.9" r="1.2" fill="#3a48d0" opacity="0.8"/>
<circle cx="189.9" cy="428.3" r="1.2" fill="#3a48d0" opacity="0.8"/>
<circle cx="208.8" cy="425.3" r="1.1" fill="#3a48d0" opacity="0.8"/>
<circle cx="228.1" cy="441.9" r="0.8" fill="#3a48d0" opacity="0.8"/>
<circle cx="234.8" cy="458.4" r="0.8" fill="#3a48d0" opacity="0.8"/>
<circle cx="179.3" cy="445.4" r="1.0" fill="#3a48d0" opacity="0.8"/>
<circle cx="212.3" cy="452.6" r="1.1" fill="#3a48d0" opacity="0.8"/>
<circle cx="192.7" cy="420.9" r="0.8" fill="#3a48d0" opacity="0.8"/>
<circle cx="150.5" cy="427.3" r="0.9" fill="#3a48d0" opacity="0.8"/>
<circle cx="195.8" cy="434.1" r="1.2" fill="#3a48d0" opacity="0.8"/>
<circle cx="175.7" cy="423.2" r="1.1" fill="#3a48d0" opacity="0.8"/>
<circle cx="142.1" cy="424.3" r="1.2" fill="#3a48d0" opacity="0.8"/>
<circle cx="211.0" cy="434.2" r="0.8" fill="#3a48d0" opacity="0.8"/>
<circle cx="162.5" cy="427.4" r="1.2" fill="#3a48d0" opacity="0.8"/>
<circle cx="192.5" cy="426.5" r="0.8" fill="#3a48d0" opacity="0.8"/>
<circle cx="162.5" cy="442.9" r="1.0" fill="#3a48d0" opacity="0.8"/>
<circle cx="186.7" cy="439.9" r="1.0" fill="#3a48d0" opacity="0.8"/>
<circle cx="235.4" cy="442.3" r="1.0" fill="#3a48d0" opacity="0.8"/>
<circle cx="170.8" cy="424.5" r="0.7" fill="#3a48d0" opacity="0.8"/>
<circle cx="131.7" cy="425.0" r="1.3" fill="#3a48d0" opacity="0.8"/>
<circle cx="209.0" cy="445.4" r="1.1" fill="#3a48d0" opacity="0.8"/>
<circle cx="157.9" cy="410.8" r="1.1" fill="#3a48d0" opacity="0.8"/>
<circle cx="184.3" cy="434.7" r="0.8" fill="#3a48d0" opacity="0.8"/>
<circle cx="135.4" cy="430.3" r="0.8" fill="#3a48d0" opacity="0.8"/>
<circle cx="198.2" cy="419.8" r="1.1" fill="#3a48d0" opacity="0.8"/>
<circle cx="210.1" cy="438.8" r="1.0" fill="#3a48d0" opacity="0.8"/>
<circle cx="149.6" cy="422.2" r="1.3" fill="#3a48d0" opacity="0.8"/>
<circle cx="157.4" cy="418.2" r="1.0" fill="#3a48d0" opacity="0.8"/>
<circle cx="231.6" cy="442.7" r="0.8" fill="#3a48d0" opacity="0.8"/>
<circle cx="136.7" cy="405.2" r="1.2" fill="#3a48d0" opacity="0.8"/>
<circle cx="197.1" cy="432.7" r="0.9" fill="#3a48d0" opacity="0.8"/>
<circle cx="216.6" cy="448.6" r="1.0" fill="#3a48d0" opacity="0.8"/>
<circle cx="191.9" cy="432.8" r="1.2" fill="#3a48d0" opacity="0.8"/>
<circle cx="136.9" cy="420.9" r="1.1" fill="#3a48d0" opacity="0.8"/>
<circle cx="143.3" cy="437.3" r="1.3" fill="#3a48d0" opacity="0.8"/>
<circle cx="195.1" cy="427.4" r="1.0" fill="#3a48d0" opacity="0.8"/>
<circle cx="216.6" cy="433.4" r="1.0" fill="#3a48d0" opacity="0.8"/>
<circle cx="215.6" cy="453.7" r="0.9" fill="#3a48d0" opacity="0.8"/>
<circle cx="183.6" cy="422.9" r="0.8" fill="#3a48d0" opacity="0.8"/>
<circle cx="155.1" cy="423.7" r="1.2" fill="#3a48d0" opacity="0.8"/>
<circle cx="236.4" cy="449.7" r="1.1" fill="#3a48d0" opacity="0.8"/>
<circle cx="144.7" cy="435.9" r="1.1" fill="#3a48d0" opacity="0.8"/>
<circle cx="211.0" cy="428.6" r="0.7" fill="#3a48d0" opacity="0.8"/>
<circle cx="208.8" cy="429.7" r="1.2" fill="#3a48d0" opacity="0.8"/>
<circle cx="174.8" cy="430.7" r="1.2" fill="#3a48d0" opacity="0.8"/>
<circle cx="172.2" cy="442.7" r="0.9" fill="#3a48d0" opacity="0.8"/>
<circle cx="213.1" cy="444.4" r="0.8" fill="#3a48d0" opacity="0.8"/>
<circle cx="208.2" cy="449.4" r="1.1" fill="#3a48d0" opacity="0.8"/>
<circle cx="233.4" cy="460.6" r="1.1" fill="#3a48d0" opacity="0.8"/>
<circle cx="160.6" cy="433.9" r="1.0" fill="#3a48d0" opacity="0.8"/>
<circle cx="232.2" cy="440.7" r="1.1" fill="#3a48d0" opacity="0.8"/>
<circle cx="193.7" cy="425.8" r="0.9" fill="#3a48d0" opacity="0.8"/>
<circle cx="164.8" cy="419.2" r="0.7" fill="#3a48d0" opacity="0.8"/>
<circle cx="181.1" cy="422.5" r="1.3" fill="#3a48d0" opacity="0.8"/>
<circle cx="213.4" cy="442.6" r="1.2" fill="#3a48d0" opacity="0.8"/>
<circle cx="207.9" cy="447.7" r="1.1" fill="#3a48d0" opacity="0.8"/>
<circle cx="165.1" cy="434.8" r="1.1" fill="#3a48d0" opacity="0.8"/>
<circle cx="169.0" cy="420.2" r="1.2" fill="#3a48d0" opacity="0.8"/>
<circle cx="140.6" cy="407.4" r="1.0" fill="#3a48d0" opacity="0.8"/>
<circle cx="164.4" cy="436.6" r="1.1" fill="#3a48d0" opacity="0.8"/>
<circle cx="177.9" cy="446.9" r="1.1" fill="#3a48d0" opacity="0.8"/>
<circle cx="221.2" cy="448.8" r="1.2" fill="#3a48d0" opacity="0.8"/>
<circle cx="213.8" cy="446.7" r="1.2" fill="#3a48d0" opacity="0.8"/>
<circle cx="218.2" cy="434.6" r="1.1" fill="#3a48d0" opacity="0.8"/>
<circle cx="132.8" cy="430.6" r="1.1" fill="#3a48d0" opacity="0.8"/>
<circle cx="227.9" cy="454.3" r="1.0" fill="#3a48d0" opacity="0.8"/>
<circle cx="236.3" cy="437.6" r="1.2" fill="#3a48d0" opacity="0.8"/>
<circle cx="195.0" cy="427.8" r="1.2" fill="#3a48d0" opacity="0.8"/>
<circle cx="140.7" cy="413.2" r="0.9" fill="#3a48d0" opacity="0.8"/>
<circle cx="128.2" cy="426.0" r="1.3" fill="#3a48d0" opacity="0.8"/>
<circle cx="154.2" cy="440.8" r="0.9" fill="#3a48d0" opacity="0.8"/>
<circle cx="147.3" cy="412.3" r="1.2" fill="#3a48d0" opacity="0.8"/>
<circle cx="132.6" cy="434.6" r="0.8" fill="#3a48d0" opacity="0.8"/>
<circle cx="130.8" cy="426.3" r="0.9" fill="#3a48d0" opacity="0.8"/>
<circle cx="181.0" cy="440.2" r="0.7" fill="#3a48d0" opacity="0.8"/>
<circle cx="138.3" cy="412.4" r="0.8" fill="#3a48d0" opacity="0.8"/>
<circle cx="155.1" cy="408.9" r="0.8" fill="#3a48d0" opacity="0.8"/>
<circle cx="221.2" cy="433.8" r="1.0" fill="#3a48d0" opacity="0.8"/>
<circle cx="183.3" cy="440.0" r="1.2" fill="#3a48d0" opacity="0.8"/>
<circle cx="128.1" cy="425.7" r="0.9" fill="#3a48d0" opacity="0.8"/>
<circle cx="188.0" cy="442.6" r="1.2" fill="#3a48d0" opacity="0.8"/>
<circle cx="220.3" cy="452.4" r="1.0" fill="#3a48d0" opacity="0.8"/>
<circle cx="220.3" cy="444.9" r="0.9" fill="#3a48d0" opacity="0.8"/>
<circle cx="234.7" cy="439.9" r="0.9" fill="#3a48d0" opacity="0.8"/>
<circle cx="171.4" cy="436.6" r="1.1" fill="#3a48d0" opacity="0.8"/>
<circle cx="138.2" cy="432.8" r="0.8" fill="#3a48d0" opacity="0.8"/>
<circle cx="137.8" cy="436.3" r="0.7" fill="#3a48d0" opacity="0.8"/>
<circle cx="157.2" cy="424.8" r="0.8" fill="#3a48d0" opacity="0.8"/>
<circle cx="146.1" cy="421.8" r="1.2" fill="#3a48d0" opacity="0.8"/>
<circle cx="226.7" cy="447.3" r="1.3" fill="#3a48d0" opacity="0.8"/>
<circle cx="149.0" cy="434.3" r="0.8" fill="#3a48d0" opacity="0.8"/>
<circle cx="151.9" cy="422.9" r="1.0" fill="#3a48d0" opacity="0.8"/>
<circle cx="228.4" cy="437.2" r="1.0" fill="#3a48d0" opacity="0.8"/>
<circle cx="215.9" cy="448.8" r="1.2" fill="#3a48d0" opacity="0.8"/>
<circle cx="177.2" cy="434.7" r="0.7" fill="#3a48d0" opacity="0.8"/>
<circle cx="178.2" cy="441.2" r="1.3" fill="#3a48d0" opacity="0.8"/>
<circle cx="210.7" cy="454.8" r="1.3" fill="#3a48d0" opacity="0.8"/>
<circle cx="202.5" cy="421.1" r="1.2" fill="#3a48d0" opacity="0.8"/>
<circle cx="210.3" cy="450.1" r="0.9" fill="#3a48d0" opacity="0.8"/>
<circle cx="152.5" cy="435.7" r="0.8" fill="#3a48d0" opacity="0.8"/>
<circle cx="185.6" cy="422.0" r="0.9" fill="#3a48d0" opacity="0.8"/>
<circle cx="164.3" cy="436.1" r="1.3" fill="#3a48d0" opacity="0.8"/>
<circle cx="144.4" cy="419.6" r="0.9" fill="#3a48d0" opacity="0.8"/>
<circle cx="162.5" cy="431.2" r="1.2" fill="#3a48d0" opacity="0.8"/>
<circle cx="175.3" cy="436.6" r="1.0" fill="#3a48d0" opacity="0.8"/>
<circle cx="195.4" cy="425.7" r="1.2" fill="#3a48d0" opacity="0.8"/>
<circle cx="193.2" cy="426.1" r="1.3" fill="#3a48d0" opacity="0.8"/>
<circle cx="137.7" cy="419.0" r="1.1" fill="#3a48d0" opacity="0.8"/>
<circle cx="130.3" cy="427.7" r="1.3" fill="#3a48d0" opacity="0.8"/>
<circle cx="207.6" cy="424.9" r="1.2" fill="#3a48d0" opacity="0.8"/>
<circle cx="165.6" cy="424.4" r="1.1" fill="#3a48d0" opacity="0.8"/>
<circle cx="211.2" cy="444.3" r="0.8" fill="#3a48d0" opacity="0.8"/>
<circle cx="174.1" cy="420.4" r="0.8" fill="#3a48d0" opacity="0.8"/>
<circle cx="143.5" cy="422.6" r="0.7" fill="#3a48d0" opacity="0.8"/>
<circle cx="205.1" cy="440.0" r="0.7" fill="#3a48d0" opacity="0.8"/>
<circle cx="210.1" cy="451.6" r="1.1" fill="#3a48d0" opacity="0.8"/>
<circle cx="130.4" cy="417.5" r="0.8" fill="#3a48d0" opacity="0.8"/>
<circle cx="192.7" cy="423.2" r="1.1" fill="#3a48d0" opacity="0.8"/>
<circle cx="153.6" cy="418.0" r="0.8" fill="#3a48d0" opacity="0.8"/>
<circle cx="181.6" cy="447.1" r="1.2" fill="#3a48d0" opacity="0.8"/>
<circle cx="200.9" cy="423.1" r="1.3" fill="#3a48d0" opacity="0.8"/>
<circle cx="136.8" cy="426.4" r="1.2" fill="#3a48d0" opacity="0.8"/>
<circle cx="202.6" cy="422.6" r="1.2" fill="#3a48d0" opacity="0.8"/>
<circle cx="210.9" cy="446.3" r="0.9" fill="#3a48d0" opacity="0.8"/>
<circle cx="202.4" cy="442.0" r="1.2" fill="#3a48d0" opacity="0.8"/>
<circle cx="195.5" cy="420.8" r="1.3" fill="#3a48d0" opacity="0.8"/>
<circle cx="169.1" cy="428.1" r="1.1" fill="#3a48d0" opacity="0.8"/>
<circle cx="199.0" cy="433.0" r="1.0" fill="#3a48d0" opacity="0.8"/>
<circle cx="199.6" cy="442.3" r="1.0" fill="#3a48d0" opacity="0.8"/>
<circle cx="172.0" cy="427.3" r="1.1" fill="#3a48d0" opacity="0.8"/>
<circle cx="133.4" cy="423.0" r="0.9" fill="#3a48d0" opacity="0.8"/>
<circle cx="153.5" cy="428.6" r="0.9" fill="#3a48d0" opacity="0.8"/>
<circle cx="156.5" cy="431.5" r="1.2" fill="#3a48d0" opacity="0.8"/>
<circle cx="197.1" cy="423.4" r="1.3" fill="#3a48d0" opacity="0.8"/>
<circle cx="202.3" cy="452.8" r="1.2" fill="#3a48d0" opacity="0.8"/>
<circle cx="132.2" cy="412.5" r="1.2" fill="#3a48d0" opacity="0.8"/>
<circle cx="195.9" cy="426.3" r="1.2" fill="#3a48d0" opacity="0.8"/>
<circle cx="186.6" cy="429.4" r="0.8" fill="#3a48d0" opacity="0.8"/>
<circle cx="129.7" cy="419.0" r="0.7" fill="#3a48d0" opacity="0.8"/>
<circle cx="179.3" cy="422.2" r="0.7" fill="#3a48d0" opacity="0.8"/>
<circle cx="178.8" cy="418.3" r="0.8" fill="#3a48d0" opacity="0.8"/>
<circle cx="187.2" cy="421.3" r="0.7" fill="#3a48d0" opacity="0.8"/>
<circle cx="186.9" cy="417.0" r="0.9" fill="#3a48d0" opacity="0.8"/>
<circle cx="225.8" cy="428.9" r="1.2" fill="#3a48d0" opacity="0.8"/>
<circle cx="143.0" cy="425.2" r="0.9" fill="#3a48d0" opacity="0.8"/>
<circle cx="213.5" cy="455.4" r="0.8" fill="#3a48d0" opacity="0.8"/>
<circle cx="135.2" cy="408.3" r="0.7" fill="#3a48d0" opacity="0.8"/>
<circle cx="161.0" cy="427.6" r="1.2" fill="#3a48d0" opacity="0.8"/>
<circle cx="199.3" cy="448.7" r="0.9" fill="#3a48d0" opacity="0.8"/>
<circle cx="163.2" cy="426.4" r="0.8" fill="#3a48d0" opacity="0.8"/>
<circle cx="130.2" cy="417.6" r="1.3" fill="#3a48d0" opacity="0.8"/>
<circle cx="133.6" cy="432.3" r="0.8" fill="#3a48d0" opacity="0.8"/>
<circle cx="183.8" cy="446.4" r="1.0" fill="#3a48d0" opacity="0.8"/>
<circle cx="217.5" cy="456.6" r="1.2" fill="#3a48d0" opacity="0.8"/>
<circle cx="168.4" cy="440.1" r="1.0" fill="#3a48d0" opacity="0.8"/>
<circle cx="192.0" cy="424.3" r="1.2" fill="#3a48d0" opacity="0.8"/>
<circle cx="161.7" cy="435.9" r="0.7" fill="#3a48d0" opacity="0.8"/>
<circle cx="167.0" cy="424.0" r="1.3" fill="#3a48d0" opacity="0.8"/>
<circle cx="187.4" cy="430.9" r="1.1" fill="#3a48d0" opacity="0.8"/>
<circle cx="157.8" cy="417.6" r="1.3" fill="#3a48d0" opacity="0.8"/>
<circle cx="193.2" cy="435.3" r="1.1" fill="#3a48d0" opacity="0.8"/>
<circle cx="213.7" cy="430.9" r="0.8" fill="#3a48d0" opacity="0.8"/>
<circle cx="220.4" cy="457.8" r="1.0" fill="#3a48d0" opacity="0.8"/>
<circle cx="197.6" cy="425.4" r="1.1" fill="#3a48d0" opacity="0.8"/>
<circle cx="186.6" cy="422.9" r="1.3" fill="#3a48d0" opacity="0.8"/>
<circle cx="158.6" cy="429.0" r="0.8" fill="#3a48d0" opacity="0.8"/>
<circle cx="177.2" cy="428.2" r="1.0" fill="#3a48d0" opacity="0.8"/>
<circle cx="199.3" cy="443.9" r="0.7" fill="#3a48d0" opacity="0.8"/>
<circle cx="164.4" cy="429.2" r="1.2" fill="#3a48d0" opacity="0.8"/>
<circle cx="159.4" cy="427.9" r="1.1" fill="#3a48d0" opacity="0.8"/>
<circle cx="234.0" cy="456.1" r="0.7" fill="#3a48d0" opacity="0.8"/>
<circle cx="150.7" cy="437.3" r="1.0" fill="#3a48d0" opacity="0.8"/>
<circle cx="187.6" cy="422.3" r="1.2" fill="#3a48d0" opacity="0.8"/>
<circle cx="160.1" cy="423.1" r="0.8" fill="#3a48d0" opacity="0.8"/>
<circle cx="208.4" cy="451.8" r="1.1" fill="#3a48d0" opacity="0.8"/>
<circle cx="195.9" cy="448.2" r="0.9" fill="#3a48d0" opacity="0.8"/>
<circle cx="164.2" cy="416.4" r="0.8" fill="#3a48d0" opacity="0.8"/>
<circle cx="184.2" cy="434.5" r="0.8" fill="#3a48d0" opacity="0.8"/>
<circle cx="151.3" cy="410.0" r="1.1" fill="#3a48d0" opacity="0.8"/>
<circle cx="216.8" cy="434.2" r="1.1" fill="#3a48d0" opacity="0.8"/>
<circle cx="209.7" cy="449.0" r="0.8" fill="#3a48d0" opacity="0.8"/>
<circle cx="170.3" cy="424.7" r="1.0" fill="#3a48d0" opacity="0.8"/>
<circle cx="147.4" cy="411.3" r="1.2" fill="#3a48d0" opacity="0.8"/>
<circle cx="196.3" cy="430.5" r="1.0" fill="#3a48d0" opacity="0.8"/>
<circle cx="156.9" cy="428.2" r="1.3" fill="#3a48d0" opacity="0.8"/>
<circle cx="182.3" cy="425.3" r="0.9" fill="#3a48d0" opacity="0.8"/>
<circle cx="159.1" cy="439.5" r="1.1" fill="#3a48d0" opacity="0.8"/>
<circle cx="183.2" cy="430.4" r="1.3" fill="#3a48d0" opacity="0.8"/>
<circle cx="163.0" cy="416.8" r="0.9" fill="#3a48d0" opacity="0.8"/>
<circle cx="160.4" cy="435.0" r="1.0" fill="#3a48d0" opacity="0.8"/>
<circle cx="131.6" cy="412.8" r="1.0" fill="#3a48d0" opacity="0.8"/>
<circle cx="216.1" cy="424.6" r="1.2" fill="#3a48d0" opacity="0.8"/>
<circle cx="214.9" cy="450.4" r="1.2" fill="#3a48d0" opacity="0.8"/>
<circle cx="184.7" cy="431.6" r="1.0" fill="#3a48d0" opacity="0.8"/>
<circle cx="190.2" cy="437.5" r="1.0" fill="#3a48d0" opacity="0.8"/>
<circle cx="224.8" cy="430.2" r="1.0" fill="#3a48d0" opacity="0.8"/>
<circle cx="218.3" cy="440.0" r="0.9" fill="#3a48d0" opacity="0.8"/>
<circle cx="144.2" cy="433.0" r="0.9" fill="#3a48d0" opacity="0.8"/>
<circle cx="211.4" cy="426.0" r="1.2" fill="#3a48d0" opacity="0.8"/>
<circle cx="154.3" cy="416.5" r="1.0" fill="#3a48d0" opacity="0.8"/>
<circle cx="222.0" cy="429.7" r="1.0" fill="#3a48d0" opacity="0.8"/>
<circle cx="139.2" cy="415.0" r="1.3" fill="#3a48d0" opacity="0.8"/>
<circle cx="183.3" cy="420.3" r="1.0" fill="#3a48d0" opacity="0.8"/>
<circle cx="146.5" cy="436.4" r="0.7" fill="#3a48d0" opacity="0.8"/>
<circle cx="167.5" cy="417.5" r="1.0" fill="#3a48d0" opacity="0.8"/>
<circle cx="225.9" cy="439.4" r="1.0" fill="#3a48d0" opacity="0.8"/>
<circle cx="196.7" cy="422.6" r="1.3" fill="#3a48d0" opacity="0.8"/>
<circle cx="157.8" cy="414.0" r="1.0" fill="#3a48d0" opacity="0.8"/>
<circle cx="215.6" cy="449.4" r="1.1" fill="#3a48d0" opacity="0.8"/>
<circle cx="149.5" cy="414.0" r="0.8" fill="#3a48d0" opacity="0.8"/>
<circle cx="143.9" cy="432.1" r="1.1" fill="#3a48d0" opacity="0.8"/>
<circle cx="178.8" cy="434.6" r="1.1" fill="#3a48d0" opacity="0.8"/>
<circle cx="205.3" cy="431.8" r="0.7" fill="#3a48d0" opacity="0.8"/>
<circle cx="160.2" cy="412.3" r="1.3" fill="#3a48d0" opacity="0.8"/>
<circle cx="165.0" cy="427.0" r="1.1" fill="#3a48d0" opacity="0.8"/>
<circle cx="204.5" cy="426.4" r="1.2" fill="#3a48d0" opacity="0.8"/>
<circle cx="191.8" cy="446.1" r="1.2" fill="#3a48d0" opacity="0.8"/>
<circle cx="170.7" cy="428.6" r="1.1" fill="#3a48d0" opacity="0.8"/>
<circle cx="206.2" cy="437.9" r="0.9" fill="#3a48d0" opacity="0.8"/>
<circle cx="181.5" cy="432.6" r="0.9" fill="#3a48d0" opacity="0.8"/>
<circle cx="135.3" cy="410.0" r="0.8" fill="#3a48d0" opacity="0.8"/>
<circle cx="165.3" cy="441.9" r="1.3" fill="#3a48d0" opacity="0.8"/>
<circle cx="235.9" cy="433.6" r="0.9" fill="#3a48d0" opacity="0.8"/>
<circle cx="192.6" cy="444.6" r="0.8" fill="#3a48d0" opacity="0.8"/>
<circle cx="225.1" cy="455.2" r="1.2" fill="#3a48d0" opacity="0.8"/>
<circle cx="177.8" cy="427.2" r="1.0" fill="#3a48d0" opacity="0.8"/>
<circle cx="168.6" cy="430.7" r="0.7" fill="#3a48d0" opacity="0.8"/>
<circle cx="148.2" cy="429.3" r="1.2" fill="#3a48d0" opacity="0.8"/>
<circle cx="236.1" cy="449.0" r="1.2" fill="#3a48d0" opacity="0.8"/>
<circle cx="175.6" cy="433.1" r="1.0" fill="#3a48d0" opacity="0.8"/>
<circle cx="234.0" cy="454.3" r="0.7" fill="#3a48d0" opacity="0.8"/>
<circle cx="203.5" cy="446.0" r="1.2" fill="#3a48d0" opacity="0.8"/>
<circle cx="173.4" cy="415.1" r="0.8" fill="#3a48d0" opacity="0.8"/>
<circle cx="224.1" cy="447.5" r="1.2" fill="#3a48d0" opacity="0.8"/>
<circle cx="129.8" cy="431.9" r="0.9" fill="#3a48d0" opacity="0.8"/>
<circle cx="188.3" cy="436.9" r="1.1" fill="#3a48d0" opacity="0.8"/>
<circle cx="156.6" cy="438.7" r="0.8" fill="#3a48d0" opacity="0.8"/>
<circle cx="147.7" cy="414.6" r="0.9" fill="#3a48d0" opacity="0.8"/>
<circle cx="235.5" cy="457.7" r="0.9" fill="#3a48d0" opacity="0.8"/>
<circle cx="232.8" cy="459.8" r="0.8" fill="#3a48d0" opacity="0.8"/>
<circle cx="165.7" cy="419.5" r="0.8" fill="#3a48d0" opacity="0.8"/>
<circle cx="155.3" cy="432.9" r="0.9" fill="#3a48d0" opacity="0.8"/>
<circle cx="190.5" cy="423.1" r="1.2" fill="#3a48d0" opacity="0.8"/>
</g>
<path d="M127.5,412 C129.0,391.0 126.0,370.0 127.5,358.0 Q127.5,351.5 133.5,351.5 Q139.5,351.5 139.5,358.0 C138.0,370.0 141.0,391.0 139.5,412" fill="#18205a" stroke="#2c38b0" stroke-width="3.6" opacity="0.9"/>
<path d="M127.5,412 C129.0,391.0 126.0,370.0 127.5,358.0 Q127.5,351.5 133.5,351.5 Q139.5,351.5 139.5,358.0 C138.0,370.0 141.0,391.0 139.5,412" fill="none" stroke="#4c5ae8" stroke-width="1.8" stroke-dasharray="1.3 0.8" opacity="0.9"/>
<path d="M142.0,420 C140.5,398.3 143.5,376.6 142.0,363.5 Q142.0,357.5 147.5,357.5 Q153.0,357.5 153.0,363.5 C154.5,376.6 151.5,398.3 153.0,420" fill="#18205a" stroke="#2c38b0" stroke-width="3.6" opacity="0.9"/>
<path d="M142.0,420 C140.5,398.3 143.5,376.6 142.0,363.5 Q142.0,357.5 147.5,357.5 Q153.0,357.5 153.0,363.5 C154.5,376.6 151.5,398.3 153.0,420" fill="none" stroke="#4c5ae8" stroke-width="1.8" stroke-dasharray="1.3 0.8" opacity="0.9"/>
<path d="M155.5,424 C156.7,405.4 154.3,386.9 155.5,376.0 Q155.5,370.5 160.5,370.5 Q165.5,370.5 165.5,376.0 C164.3,386.9 166.7,405.4 165.5,424" fill="#18205a" stroke="#2c38b0" stroke-width="3.6" opacity="0.9"/>
<path d="M155.5,424 C156.7,405.4 154.3,386.9 155.5,376.0 Q155.5,370.5 160.5,370.5 Q165.5,370.5 165.5,376.0 C164.3,386.9 166.7,405.4 165.5,424" fill="none" stroke="#4c5ae8" stroke-width="1.8" stroke-dasharray="1.3 0.8" opacity="0.9"/>
<path d="M168.5,430 C166.7,403.8 170.3,377.5 168.5,361.0 Q168.5,354.5 174.5,354.5 Q180.5,354.5 180.5,361.0 C182.3,377.5 178.7,403.8 180.5,430" fill="#18205a" stroke="#2c38b0" stroke-width="3.6" opacity="0.9"/>
<path d="M168.5,430 C166.7,403.8 170.3,377.5 168.5,361.0 Q168.5,354.5 174.5,354.5 Q180.5,354.5 180.5,361.0 C182.3,377.5 178.7,403.8 180.5,430" fill="none" stroke="#4c5ae8" stroke-width="1.8" stroke-dasharray="1.3 0.8" opacity="0.9"/>
<path d="M186.5,437 C188.1,409.7 184.9,382.4 186.5,365.5 Q186.5,358.5 193.0,358.5 Q199.5,358.5 199.5,365.5 C197.9,382.4 201.1,409.7 199.5,437" fill="#18205a" stroke="#2c38b0" stroke-width="3.6" opacity="0.9"/>
<path d="M186.5,437 C188.1,409.7 184.9,382.4 186.5,365.5 Q186.5,358.5 193.0,358.5 Q199.5,358.5 199.5,365.5 C197.9,382.4 201.1,409.7 199.5,437" fill="none" stroke="#4c5ae8" stroke-width="1.8" stroke-dasharray="1.3 0.8" opacity="0.9"/>
<path d="M206.0,444 C204.4,416.4 207.6,388.7 206.0,371.5 Q206.0,364.5 212.5,364.5 Q219.0,364.5 219.0,371.5 C220.6,388.7 217.4,416.4 219.0,444" fill="#18205a" stroke="#2c38b0" stroke-width="3.6" opacity="0.9"/>
<path d="M206.0,444 C204.4,416.4 207.6,388.7 206.0,371.5 Q206.0,364.5 212.5,364.5 Q219.0,364.5 219.0,371.5 C220.6,388.7 217.4,416.4 219.0,444" fill="none" stroke="#4c5ae8" stroke-width="1.8" stroke-dasharray="1.3 0.8" opacity="0.9"/>
<path d="M224.0,452 C225.4,427.5 222.6,403.0 224.0,388.0 Q224.0,381.5 230.0,381.5 Q236.0,381.5 236.0,388.0 C234.6,403.0 237.4,427.5 236.0,452" fill="#18205a" stroke="#2c38b0" stroke-width="3.6" opacity="0.9"/>
<path d="M224.0,452 C225.4,427.5 222.6,403.0 224.0,388.0 Q224.0,381.5 230.0,381.5 Q236.0,381.5 236.0,388.0 C234.6,403.0 237.4,427.5 236.0,452" fill="none" stroke="#4c5ae8" stroke-width="1.8" stroke-dasharray="1.3 0.8" opacity="0.9"/>
<g filter="url(#blurS)">
<circle cx="208.9" cy="405.6" r="0.8" fill="#3848c8" opacity="0.75"/>
<circle cx="145.3" cy="392.9" r="0.8" fill="#3848c8" opacity="0.75"/>
<circle cx="135.6" cy="367.9" r="0.9" fill="#3848c8" opacity="0.75"/>
<circle cx="143.7" cy="409.5" r="0.9" fill="#3848c8" opacity="0.75"/>
<circle cx="211.7" cy="415.2" r="0.7" fill="#3848c8" opacity="0.75"/>
<circle cx="197.0" cy="385.7" r="0.9" fill="#3848c8" opacity="0.75"/>
<circle cx="214.9" cy="401.2" r="0.8" fill="#3848c8" opacity="0.75"/>
<circle cx="148.3" cy="419.8" r="0.8" fill="#3848c8" opacity="0.75"/>
<circle cx="177.3" cy="391.3" r="0.8" fill="#3848c8" opacity="0.75"/>
<circle cx="216.8" cy="415.9" r="0.9" fill="#3848c8" opacity="0.75"/>
<circle cx="172.8" cy="400.4" r="0.7" fill="#3848c8" opacity="0.75"/>
<circle cx="161.1" cy="389.3" r="0.8" fill="#3848c8" opacity="0.75"/>
<circle cx="227.2" cy="444.1" r="0.9" fill="#3848c8" opacity="0.75"/>
<circle cx="129.9" cy="385.9" r="0.9" fill="#3848c8" opacity="0.75"/>
<circle cx="157.3" cy="398.9" r="1.0" fill="#3848c8" opacity="0.75"/>
<circle cx="171.4" cy="359.5" r="0.8" fill="#3848c8" opacity="0.75"/>
<circle cx="176.8" cy="376.5" r="0.6" fill="#3848c8" opacity="0.75"/>
<circle cx="230.2" cy="417.9" r="1.0" fill="#3848c8" opacity="0.75"/>
<circle cx="214.8" cy="368.7" r="0.7" fill="#3848c8" opacity="0.75"/>
<circle cx="177.6" cy="427.8" r="0.8" fill="#3848c8" opacity="0.75"/>
<circle cx="148.9" cy="374.1" r="0.7" fill="#3848c8" opacity="0.75"/>
<circle cx="233.8" cy="388.0" r="1.0" fill="#3848c8" opacity="0.75"/>
<circle cx="209.8" cy="423.5" r="1.1" fill="#3848c8" opacity="0.75"/>
<circle cx="134.9" cy="380.6" r="1.1" fill="#3848c8" opacity="0.75"/>
<circle cx="189.7" cy="409.0" r="0.8" fill="#3848c8" opacity="0.75"/>
<circle cx="211.1" cy="432.2" r="0.7" fill="#3848c8" opacity="0.75"/>
<circle cx="133.1" cy="376.2" r="1.0" fill="#3848c8" opacity="0.75"/>
<circle cx="208.2" cy="382.0" r="0.7" fill="#3848c8" opacity="0.75"/>
<circle cx="209.9" cy="383.3" r="0.8" fill="#3848c8" opacity="0.75"/>
<circle cx="137.3" cy="405.6" r="1.1" fill="#3848c8" opacity="0.75"/>
<circle cx="189.7" cy="383.2" r="0.7" fill="#3848c8" opacity="0.75"/>
<circle cx="191.8" cy="396.4" r="0.7" fill="#3848c8" opacity="0.75"/>
<circle cx="151.4" cy="372.8" r="0.7" fill="#3848c8" opacity="0.75"/>
<circle cx="136.3" cy="409.9" r="0.6" fill="#3848c8" opacity="0.75"/>
<circle cx="233.0" cy="410.2" r="1.1" fill="#3848c8" opacity="0.75"/>
<circle cx="197.7" cy="369.6" r="0.9" fill="#3848c8" opacity="0.75"/>
<circle cx="150.0" cy="376.4" r="0.8" fill="#3848c8" opacity="0.75"/>
<circle cx="161.6" cy="408.5" r="1.0" fill="#3848c8" opacity="0.75"/>
<circle cx="189.0" cy="412.2" r="0.9" fill="#3848c8" opacity="0.75"/>
<circle cx="227.2" cy="419.9" r="0.7" fill="#3848c8" opacity="0.75"/>
<circle cx="212.5" cy="424.7" r="0.7" fill="#3848c8" opacity="0.75"/>
<circle cx="174.2" cy="377.8" r="1.1" fill="#3848c8" opacity="0.75"/>
<circle cx="212.8" cy="379.2" r="0.7" fill="#3848c8" opacity="0.75"/>
<circle cx="194.0" cy="435.5" r="0.9" fill="#3848c8" opacity="0.75"/>
<circle cx="215.1" cy="372.8" r="0.6" fill="#3848c8" opacity="0.75"/>
<circle cx="212.2" cy="442.5" r="0.7" fill="#3848c8" opacity="0.75"/>
<circle cx="231.8" cy="449.0" r="0.9" fill="#3848c8" opacity="0.75"/>
<circle cx="173.7" cy="414.1" r="1.0" fill="#3848c8" opacity="0.75"/>
<circle cx="193.6" cy="404.5" r="0.8" fill="#3848c8" opacity="0.75"/>
<circle cx="145.4" cy="373.3" r="0.7" fill="#3848c8" opacity="0.75"/>
<circle cx="191.2" cy="421.8" r="0.7" fill="#3848c8" opacity="0.75"/>
<circle cx="210.6" cy="431.3" r="0.9" fill="#3848c8" opacity="0.75"/>
<circle cx="233.7" cy="451.4" r="1.0" fill="#3848c8" opacity="0.75"/>
<circle cx="229.2" cy="420.0" r="0.8" fill="#3848c8" opacity="0.75"/>
<circle cx="172.0" cy="362.7" r="1.0" fill="#3848c8" opacity="0.75"/>
<circle cx="197.2" cy="374.4" r="0.9" fill="#3848c8" opacity="0.75"/>
<circle cx="192.3" cy="427.4" r="0.9" fill="#3848c8" opacity="0.75"/>
<circle cx="190.2" cy="383.8" r="0.8" fill="#3848c8" opacity="0.75"/>
<circle cx="232.9" cy="431.1" r="0.7" fill="#3848c8" opacity="0.75"/>
<circle cx="172.1" cy="357.5" r="0.9" fill="#3848c8" opacity="0.75"/>
<circle cx="227.4" cy="400.9" r="0.7" fill="#3848c8" opacity="0.75"/>
<circle cx="177.8" cy="404.2" r="1.0" fill="#3848c8" opacity="0.75"/>
<circle cx="143.6" cy="389.6" r="0.8" fill="#3848c8" opacity="0.75"/>
<circle cx="174.5" cy="374.8" r="0.9" fill="#3848c8" opacity="0.75"/>
<circle cx="135.1" cy="389.6" r="1.0" fill="#3848c8" opacity="0.75"/>
<circle cx="209.4" cy="436.0" r="1.1" fill="#3848c8" opacity="0.75"/>
<circle cx="174.5" cy="397.4" r="0.7" fill="#3848c8" opacity="0.75"/>
<circle cx="159.0" cy="374.4" r="0.8" fill="#3848c8" opacity="0.75"/>
<circle cx="232.1" cy="397.8" r="0.6" fill="#3848c8" opacity="0.75"/>
<circle cx="146.3" cy="391.3" r="1.0" fill="#3848c8" opacity="0.75"/>
<circle cx="231.4" cy="423.2" r="0.8" fill="#3848c8" opacity="0.75"/>
<circle cx="130.6" cy="385.7" r="1.0" fill="#3848c8" opacity="0.75"/>
<circle cx="214.1" cy="421.5" r="0.9" fill="#3848c8" opacity="0.75"/>
<circle cx="131.8" cy="374.0" r="0.6" fill="#3848c8" opacity="0.75"/>
<circle cx="196.6" cy="364.4" r="0.6" fill="#3848c8" opacity="0.75"/>
<circle cx="229.5" cy="404.4" r="1.0" fill="#3848c8" opacity="0.75"/>
<circle cx="170.3" cy="389.2" r="1.0" fill="#3848c8" opacity="0.75"/>
<circle cx="214.8" cy="428.9" r="0.7" fill="#3848c8" opacity="0.75"/>
<circle cx="146.2" cy="400.1" r="0.9" fill="#3848c8" opacity="0.75"/>
<circle cx="170.1" cy="428.2" r="0.6" fill="#3848c8" opacity="0.75"/>
<circle cx="175.5" cy="373.1" r="0.6" fill="#3848c8" opacity="0.75"/>
<circle cx="162.2" cy="389.1" r="1.0" fill="#3848c8" opacity="0.75"/>
<circle cx="232.4" cy="413.8" r="0.7" fill="#3848c8" opacity="0.75"/>
<circle cx="150.9" cy="385.6" r="0.8" fill="#3848c8" opacity="0.75"/>
<circle cx="145.6" cy="362.0" r="0.7" fill="#3848c8" opacity="0.75"/>
<circle cx="232.8" cy="394.1" r="0.6" fill="#3848c8" opacity="0.75"/>
<circle cx="146.6" cy="385.5" r="1.0" fill="#3848c8" opacity="0.75"/>
<circle cx="160.8" cy="376.3" r="0.9" fill="#3848c8" opacity="0.75"/>
<circle cx="160.7" cy="420.2" r="0.9" fill="#3848c8" opacity="0.75"/>
<circle cx="188.9" cy="367.7" r="1.0" fill="#3848c8" opacity="0.75"/>
<circle cx="230.2" cy="418.8" r="0.7" fill="#3848c8" opacity="0.75"/>
<circle cx="146.6" cy="371.1" r="0.8" fill="#3848c8" opacity="0.75"/>
<circle cx="174.7" cy="392.1" r="1.0" fill="#3848c8" opacity="0.75"/>
<circle cx="196.8" cy="362.5" r="1.0" fill="#3848c8" opacity="0.75"/>
<circle cx="176.3" cy="373.0" r="1.0" fill="#3848c8" opacity="0.75"/>
<circle cx="192.4" cy="362.7" r="0.8" fill="#3848c8" opacity="0.75"/>
<circle cx="196.1" cy="391.4" r="0.6" fill="#3848c8" opacity="0.75"/>
<circle cx="133.3" cy="370.1" r="0.8" fill="#3848c8" opacity="0.75"/>
<circle cx="148.9" cy="369.8" r="0.7" fill="#3848c8" opacity="0.75"/>
<circle cx="192.1" cy="407.1" r="1.0" fill="#3848c8" opacity="0.75"/>
<circle cx="130.0" cy="398.1" r="0.9" fill="#3848c8" opacity="0.75"/>
<circle cx="137.8" cy="410.7" r="1.0" fill="#3848c8" opacity="0.75"/>
<circle cx="147.9" cy="400.1" r="0.7" fill="#3848c8" opacity="0.75"/>
<circle cx="149.7" cy="361.5" r="0.6" fill="#3848c8" opacity="0.75"/>
<circle cx="157.7" cy="411.8" r="0.7" fill="#3848c8" opacity="0.75"/>
<circle cx="214.2" cy="375.5" r="0.6" fill="#3848c8" opacity="0.75"/>
<circle cx="160.0" cy="398.3" r="1.0" fill="#3848c8" opacity="0.75"/>
<circle cx="228.5" cy="434.6" r="0.8" fill="#3848c8" opacity="0.75"/>
<circle cx="229.7" cy="445.3" r="0.6" fill="#3848c8" opacity="0.75"/>
<circle cx="215.7" cy="433.3" r="0.6" fill="#3848c8" opacity="0.75"/>
<circle cx="132.8" cy="376.9" r="0.6" fill="#3848c8" opacity="0.75"/>
<circle cx="158.2" cy="397.7" r="0.6" fill="#3848c8" opacity="0.75"/>
<circle cx="211.3" cy="378.5" r="0.9" fill="#3848c8" opacity="0.75"/>
<circle cx="231.9" cy="442.7" r="1.0" fill="#3848c8" opacity="0.75"/>
<circle cx="178.9" cy="387.3" r="0.7" fill="#3848c8" opacity="0.75"/>
<circle cx="233.8" cy="442.8" r="0.6" fill="#3848c8" opacity="0.75"/>
<circle cx="171.4" cy="357.8" r="0.9" fill="#3848c8" opacity="0.75"/>
<circle cx="208.9" cy="439.5" r="0.9" fill="#3848c8" opacity="0.75"/>
<circle cx="173.2" cy="404.3" r="0.7" fill="#3848c8" opacity="0.75"/>
<circle cx="131.0" cy="397.2" r="1.0" fill="#3848c8" opacity="0.75"/>
<circle cx="178.0" cy="425.1" r="0.9" fill="#3848c8" opacity="0.75"/>
<circle cx="176.9" cy="427.7" r="0.8" fill="#3848c8" opacity="0.75"/>
<circle cx="160.0" cy="417.3" r="1.1" fill="#3848c8" opacity="0.75"/>
<circle cx="176.3" cy="379.3" r="0.9" fill="#3848c8" opacity="0.75"/>
<circle cx="161.1" cy="422.2" r="0.9" fill="#3848c8" opacity="0.75"/>
<circle cx="232.9" cy="405.7" r="0.7" fill="#3848c8" opacity="0.75"/>
<circle cx="134.0" cy="405.0" r="0.9" fill="#3848c8" opacity="0.75"/>
<circle cx="211.0" cy="420.4" r="1.0" fill="#3848c8" opacity="0.75"/>
<circle cx="207.9" cy="429.7" r="0.7" fill="#3848c8" opacity="0.75"/>
<circle cx="208.3" cy="370.4" r="1.1" fill="#3848c8" opacity="0.75"/>
<circle cx="147.6" cy="382.1" r="0.6" fill="#3848c8" opacity="0.75"/>
<circle cx="214.3" cy="375.9" r="0.6" fill="#3848c8" opacity="0.75"/>
<circle cx="159.9" cy="397.3" r="1.1" fill="#3848c8" opacity="0.75"/>
<circle cx="209.4" cy="400.0" r="0.9" fill="#3848c8" opacity="0.75"/>
<circle cx="174.9" cy="421.9" r="1.1" fill="#3848c8" opacity="0.75"/>
<circle cx="233.6" cy="412.6" r="0.8" fill="#3848c8" opacity="0.75"/>
<circle cx="190.6" cy="404.3" r="0.9" fill="#3848c8" opacity="0.75"/>
<circle cx="195.0" cy="423.2" r="0.9" fill="#3848c8" opacity="0.75"/>
<circle cx="149.3" cy="390.0" r="0.9" fill="#3848c8" opacity="0.75"/>
<circle cx="175.1" cy="367.1" r="0.7" fill="#3848c8" opacity="0.75"/>
<circle cx="129.4" cy="405.7" r="1.0" fill="#3848c8" opacity="0.75"/>
<circle cx="194.3" cy="391.2" r="0.7" fill="#3848c8" opacity="0.75"/>
<circle cx="189.4" cy="397.5" r="0.9" fill="#3848c8" opacity="0.75"/>
<circle cx="178.4" cy="401.0" r="0.9" fill="#3848c8" opacity="0.75"/>
<circle cx="148.1" cy="419.9" r="0.9" fill="#3848c8" opacity="0.75"/>
<circle cx="209.6" cy="422.1" r="1.1" fill="#3848c8" opacity="0.75"/>
<circle cx="192.9" cy="433.8" r="0.7" fill="#3848c8" opacity="0.75"/>
<circle cx="135.6" cy="359.7" r="0.7" fill="#3848c8" opacity="0.75"/>
<circle cx="196.7" cy="403.1" r="0.8" fill="#3848c8" opacity="0.75"/>
<circle cx="177.6" cy="394.8" r="1.0" fill="#3848c8" opacity="0.75"/>
<circle cx="197.1" cy="362.6" r="0.7" fill="#3848c8" opacity="0.75"/>
<circle cx="137.8" cy="362.5" r="1.0" fill="#3848c8" opacity="0.75"/>
<circle cx="229.9" cy="420.5" r="0.7" fill="#3848c8" opacity="0.75"/>
<circle cx="215.1" cy="405.7" r="0.6" fill="#3848c8" opacity="0.75"/>
<circle cx="161.7" cy="396.0" r="0.8" fill="#3848c8" opacity="0.75"/>
<circle cx="172.9" cy="391.6" r="0.8" fill="#3848c8" opacity="0.75"/>
<circle cx="129.3" cy="393.5" r="1.0" fill="#3848c8" opacity="0.75"/>
<circle cx="137.7" cy="402.9" r="0.9" fill="#3848c8" opacity="0.75"/>
<circle cx="130.8" cy="410.5" r="0.9" fill="#3848c8" opacity="0.75"/>
<circle cx="173.3" cy="366.7" r="0.9" fill="#3848c8" opacity="0.75"/>
</g>
<g filter="url(#blurS)">
<circle cx="183.3" cy="383.0" r="0.5" fill="#3440b8" opacity="0.5"/>
<circle cx="153.4" cy="382.7" r="0.5" fill="#3440b8" opacity="0.5"/>
<circle cx="223.7" cy="424.3" r="0.5" fill="#3440b8" opacity="0.5"/>
<circle cx="168.3" cy="374.2" r="0.8" fill="#3440b8" opacity="0.5"/>
<circle cx="165.5" cy="410.0" r="0.6" fill="#3440b8" opacity="0.5"/>
<circle cx="225.1" cy="401.9" r="0.6" fill="#3440b8" opacity="0.5"/>
<circle cx="236.8" cy="399.4" r="0.5" fill="#3440b8" opacity="0.5"/>
<circle cx="236.6" cy="411.3" r="0.7" fill="#3440b8" opacity="0.5"/>
<circle cx="161.5" cy="368.6" r="0.5" fill="#3440b8" opacity="0.5"/>
<circle cx="181.7" cy="398.2" r="0.6" fill="#3440b8" opacity="0.5"/>
<circle cx="223.9" cy="375.0" r="0.5" fill="#3440b8" opacity="0.5"/>
<circle cx="180.4" cy="384.8" r="0.9" fill="#3440b8" opacity="0.5"/>
<circle cx="224.4" cy="422.7" r="0.7" fill="#3440b8" opacity="0.5"/>
<circle cx="232.4" cy="360.0" r="0.7" fill="#3440b8" opacity="0.5"/>
<circle cx="227.1" cy="371.9" r="0.5" fill="#3440b8" opacity="0.5"/>
<circle cx="138.3" cy="360.1" r="0.7" fill="#3440b8" opacity="0.5"/>
<circle cx="199.7" cy="371.1" r="0.7" fill="#3440b8" opacity="0.5"/>
<circle cx="152.0" cy="375.4" r="0.6" fill="#3440b8" opacity="0.5"/>
<circle cx="162.3" cy="362.0" r="0.7" fill="#3440b8" opacity="0.5"/>
<circle cx="204.5" cy="414.5" r="0.7" fill="#3440b8" opacity="0.5"/>
<circle cx="234.9" cy="396.0" r="0.6" fill="#3440b8" opacity="0.5"/>
<circle cx="236.7" cy="369.1" r="0.5" fill="#3440b8" opacity="0.5"/>
<circle cx="196.0" cy="359.5" r="0.8" fill="#3440b8" opacity="0.5"/>
<circle cx="152.7" cy="362.7" r="0.7" fill="#3440b8" opacity="0.5"/>
<circle cx="236.2" cy="358.1" r="0.6" fill="#3440b8" opacity="0.5"/>
<circle cx="220.5" cy="374.1" r="0.8" fill="#3440b8" opacity="0.5"/>
<circle cx="204.6" cy="383.5" r="0.5" fill="#3440b8" opacity="0.5"/>
<circle cx="187.6" cy="367.7" r="0.6" fill="#3440b8" opacity="0.5"/>
<circle cx="168.5" cy="372.1" r="0.8" fill="#3440b8" opacity="0.5"/>
<circle cx="218.0" cy="414.9" r="0.5" fill="#3440b8" opacity="0.5"/>
<circle cx="225.4" cy="365.1" r="0.5" fill="#3440b8" opacity="0.5"/>
<circle cx="199.5" cy="374.6" r="0.5" fill="#3440b8" opacity="0.5"/>
<circle cx="205.6" cy="411.0" r="0.6" fill="#3440b8" opacity="0.5"/>
<circle cx="167.6" cy="366.4" r="0.7" fill="#3440b8" opacity="0.5"/>
<circle cx="142.3" cy="360.3" r="0.7" fill="#3440b8" opacity="0.5"/>
<circle cx="191.5" cy="360.3" r="0.8" fill="#3440b8" opacity="0.5"/>
<circle cx="141.4" cy="383.5" r="0.7" fill="#3440b8" opacity="0.5"/>
<circle cx="155.7" cy="404.1" r="0.7" fill="#3440b8" opacity="0.5"/>
<circle cx="181.6" cy="386.2" r="0.7" fill="#3440b8" opacity="0.5"/>
<circle cx="218.0" cy="421.1" r="0.8" fill="#3440b8" opacity="0.5"/>
</g>
<path d="M128,432 C150,444 175,455 200,466 L128,466 Z" fill="#0a0d0b" opacity="0.9"/>
<g filter="url(#blurS)">
<circle cx="130.6" cy="466.0" r="0.7" fill="#3440c0" opacity="0.7"/>
<circle cx="141.2" cy="453.5" r="0.7" fill="#3440c0" opacity="0.7"/>
<circle cx="193.8" cy="463.6" r="0.9" fill="#3440c0" opacity="0.7"/>
<circle cx="133.3" cy="461.7" r="0.8" fill="#3440c0" opacity="0.7"/>
<circle cx="156.3" cy="464.4" r="0.7" fill="#3440c0" opacity="0.7"/>
<circle cx="213.5" cy="464.4" r="0.9" fill="#3440c0" opacity="0.7"/>
<circle cx="143.6" cy="459.7" r="0.9" fill="#3440c0" opacity="0.7"/>
<circle cx="200.3" cy="463.0" r="0.7" fill="#3440c0" opacity="0.7"/>
<circle cx="168.9" cy="451.0" r="0.7" fill="#3440c0" opacity="0.7"/>
<circle cx="175.4" cy="454.2" r="0.8" fill="#3440c0" opacity="0.7"/>
<circle cx="137.6" cy="465.9" r="0.7" fill="#3440c0" opacity="0.7"/>
<circle cx="229.7" cy="464.3" r="0.8" fill="#3440c0" opacity="0.7"/>
<circle cx="186.6" cy="458.7" r="0.9" fill="#3440c0" opacity="0.7"/>
<circle cx="150.0" cy="455.0" r="0.6" fill="#3440c0" opacity="0.7"/>
<circle cx="172.9" cy="459.8" r="1.0" fill="#3440c0" opacity="0.7"/>
<circle cx="178.4" cy="460.5" r="0.8" fill="#3440c0" opacity="0.7"/>
<circle cx="185.3" cy="451.0" r="1.0" fill="#3440c0" opacity="0.7"/>
<circle cx="166.7" cy="458.2" r="0.9" fill="#3440c0" opacity="0.7"/>
<circle cx="194.6" cy="463.9" r="0.6" fill="#3440c0" opacity="0.7"/>
<circle cx="182.7" cy="452.8" r="0.7" fill="#3440c0" opacity="0.7"/>
<circle cx="146.7" cy="454.9" r="0.8" fill="#3440c0" opacity="0.7"/>
<circle cx="155.9" cy="461.2" r="0.7" fill="#3440c0" opacity="0.7"/>
<circle cx="165.6" cy="456.5" r="1.0" fill="#3440c0" opacity="0.7"/>
<circle cx="169.3" cy="460.6" r="0.6" fill="#3440c0" opacity="0.7"/>
<circle cx="150.2" cy="447.6" r="0.8" fill="#3440c0" opacity="0.7"/>
<circle cx="135.1" cy="454.0" r="0.7" fill="#3440c0" opacity="0.7"/>
<circle cx="134.2" cy="448.0" r="0.8" fill="#3440c0" opacity="0.7"/>
<circle cx="132.6" cy="447.5" r="0.6" fill="#3440c0" opacity="0.7"/>
<circle cx="197.1" cy="465.5" r="0.9" fill="#3440c0" opacity="0.7"/>
<circle cx="153.5" cy="449.2" r="0.7" fill="#3440c0" opacity="0.7"/>
<circle cx="165.4" cy="461.1" r="0.9" fill="#3440c0" opacity="0.7"/>
<circle cx="129.0" cy="443.7" r="0.9" fill="#3440c0" opacity="0.7"/>
<circle cx="147.2" cy="458.9" r="1.0" fill="#3440c0" opacity="0.7"/>
<circle cx="145.4" cy="460.2" r="0.8" fill="#3440c0" opacity="0.7"/>
<circle cx="204.2" cy="459.4" r="1.0" fill="#3440c0" opacity="0.7"/>
<circle cx="148.8" cy="444.6" r="0.9" fill="#3440c0" opacity="0.7"/>
<circle cx="184.6" cy="464.9" r="0.7" fill="#3440c0" opacity="0.7"/>
<circle cx="189.0" cy="461.1" r="0.8" fill="#3440c0" opacity="0.7"/>
<circle cx="185.7" cy="457.6" r="0.6" fill="#3440c0" opacity="0.7"/>
<circle cx="216.2" cy="459.7" r="0.6" fill="#3440c0" opacity="0.7"/>
<circle cx="183.2" cy="463.8" r="1.0" fill="#3440c0" opacity="0.7"/>
<circle cx="173.1" cy="452.4" r="0.9" fill="#3440c0" opacity="0.7"/>
<circle cx="164.4" cy="464.9" r="1.0" fill="#3440c0" opacity="0.7"/>
<circle cx="207.5" cy="462.5" r="0.9" fill="#3440c0" opacity="0.7"/>
<circle cx="134.3" cy="463.3" r="0.7" fill="#3440c0" opacity="0.7"/>
<circle cx="130.6" cy="441.4" r="0.6" fill="#3440c0" opacity="0.7"/>
<circle cx="147.2" cy="447.2" r="0.8" fill="#3440c0" opacity="0.7"/>
<circle cx="166.7" cy="459.3" r="0.7" fill="#3440c0" opacity="0.7"/>
<circle cx="187.2" cy="461.6" r="1.0" fill="#3440c0" opacity="0.7"/>
<circle cx="140.4" cy="447.3" r="0.9" fill="#3440c0" opacity="0.7"/>
<circle cx="178.2" cy="452.7" r="0.6" fill="#3440c0" opacity="0.7"/>
<circle cx="203.1" cy="459.1" r="0.9" fill="#3440c0" opacity="0.7"/>
<circle cx="144.9" cy="446.3" r="0.9" fill="#3440c0" opacity="0.7"/>
<circle cx="151.8" cy="447.0" r="0.9" fill="#3440c0" opacity="0.7"/>
<circle cx="203.4" cy="463.6" r="0.7" fill="#3440c0" opacity="0.7"/>
<circle cx="171.5" cy="450.1" r="0.7" fill="#3440c0" opacity="0.7"/>
<circle cx="172.4" cy="463.0" r="0.8" fill="#3440c0" opacity="0.7"/>
<circle cx="152.7" cy="449.1" r="0.9" fill="#3440c0" opacity="0.7"/>
<circle cx="154.3" cy="449.9" r="0.7" fill="#3440c0" opacity="0.7"/>
<circle cx="152.9" cy="445.0" r="0.7" fill="#3440c0" opacity="0.7"/>
<circle cx="202.4" cy="455.7" r="0.7" fill="#3440c0" opacity="0.7"/>
<circle cx="142.2" cy="443.4" r="0.9" fill="#3440c0" opacity="0.7"/>
<circle cx="176.3" cy="459.1" r="0.7" fill="#3440c0" opacity="0.7"/>
<circle cx="168.6" cy="447.2" r="0.7" fill="#3440c0" opacity="0.7"/>
<circle cx="137.2" cy="448.0" r="0.7" fill="#3440c0" opacity="0.7"/>
<circle cx="132.6" cy="442.4" r="0.8" fill="#3440c0" opacity="0.7"/>
<circle cx="144.0" cy="462.6" r="1.0" fill="#3440c0" opacity="0.7"/>
<circle cx="183.9" cy="462.6" r="0.9" fill="#3440c0" opacity="0.7"/>
<circle cx="232.2" cy="463.1" r="0.8" fill="#3440c0" opacity="0.7"/>
<circle cx="195.7" cy="460.8" r="0.8" fill="#3440c0" opacity="0.7"/>
</g>
</g>
<clipPath id="cE3"><rect x="239.0" y="357.4" width="108.5" height="108.6"/></clipPath>
<g clip-path="url(#cE3)">
<rect x="239.00" y="357.40" width="108.50" height="108.60" fill="#0d110f" />
<path d="M239,357.4 L347.5,357.4 L347.5,466 L306,466 C292,440 266,404 239,380 Z" fill="#10152a"/>
<path d="M296,368 C312,363 328,372 348,366" stroke="#1c2458" stroke-width="1.6" fill="none" opacity="0.45"/>
<path d="M298,381 C313,378 327,387 348,379" stroke="#1c2458" stroke-width="1.6" fill="none" opacity="0.45"/>
<path d="M300,392 C314,385 326,394 348,390" stroke="#1c2458" stroke-width="1.6" fill="none" opacity="0.45"/>
<path d="M302,404 C315,400 325,409 348,402" stroke="#1c2458" stroke-width="1.6" fill="none" opacity="0.45"/>
<path d="M304,417 C316,411 324,420 348,415" stroke="#1c2458" stroke-width="1.6" fill="none" opacity="0.45"/>
<path d="M306,431 C317,429 323,437 348,429" stroke="#1c2458" stroke-width="1.6" fill="none" opacity="0.45"/>
<path d="M308,446 C318,441 322,448 348,444" stroke="#1c2458" stroke-width="1.6" fill="none" opacity="0.45"/>
<path d="M239,357.4 L306,357.4 C318,380 326,405 318,440 L306,466 C292,440 266,404 239,380 Z" fill="url(#e3glow2)" filter="url(#blur2)"/>
<ellipse cx="262" cy="376" rx="40" ry="34" fill="url(#e3glow)"/>
<ellipse cx="252" cy="368" rx="5" ry="8" transform="rotate(-40 252 368)" fill="none" stroke="#3846c8" stroke-width="1.8" opacity="0.65"/>
<ellipse cx="266" cy="383" rx="5" ry="8" transform="rotate(-40 266 383)" fill="none" stroke="#3846c8" stroke-width="1.8" opacity="0.65"/>
<ellipse cx="280" cy="396" rx="5" ry="8" transform="rotate(-40 280 396)" fill="none" stroke="#3846c8" stroke-width="1.8" opacity="0.65"/>
<ellipse cx="292" cy="410" rx="5" ry="7" transform="rotate(-40 292 410)" fill="none" stroke="#3846c8" stroke-width="1.8" opacity="0.65"/>
<ellipse cx="299" cy="431" rx="6" ry="6" transform="rotate(-40 299 431)" fill="none" stroke="#3846c8" stroke-width="1.8" opacity="0.65"/>
<ellipse cx="283" cy="370" rx="5" ry="9" transform="rotate(-30 283 370)" fill="none" stroke="#3846c8" stroke-width="1.8" opacity="0.65"/>
<ellipse cx="298" cy="385" rx="5" ry="9" transform="rotate(-30 298 385)" fill="none" stroke="#3846c8" stroke-width="1.8" opacity="0.65"/>
<g filter="url(#blurS)">
<circle cx="240.3" cy="369.6" r="0.8" fill="#3846c8" opacity="0.7"/>
<circle cx="251.2" cy="382.6" r="1.0" fill="#3846c8" opacity="0.7"/>
<circle cx="297.1" cy="406.0" r="0.8" fill="#3846c8" opacity="0.7"/>
<circle cx="282.7" cy="379.0" r="0.8" fill="#3846c8" opacity="0.7"/>
<circle cx="261.8" cy="381.0" r="0.9" fill="#3846c8" opacity="0.7"/>
<circle cx="262.8" cy="361.9" r="0.8" fill="#3846c8" opacity="0.7"/>
<circle cx="275.3" cy="400.4" r="0.9" fill="#3846c8" opacity="0.7"/>
<circle cx="298.2" cy="430.7" r="0.6" fill="#3846c8" opacity="0.7"/>
<circle cx="288.3" cy="444.3" r="0.8" fill="#3846c8" opacity="0.7"/>
<circle cx="251.8" cy="368.1" r="1.1" fill="#3846c8" opacity="0.7"/>
<circle cx="251.9" cy="378.5" r="0.8" fill="#3846c8" opacity="0.7"/>
<circle cx="290.6" cy="411.5" r="1.0" fill="#3846c8" opacity="0.7"/>
<circle cx="269.2" cy="397.8" r="0.9" fill="#3846c8" opacity="0.7"/>
<circle cx="308.0" cy="361.5" r="0.7" fill="#3846c8" opacity="0.7"/>
<circle cx="276.8" cy="358.6" r="0.8" fill="#3846c8" opacity="0.7"/>
<circle cx="269.7" cy="376.5" r="0.6" fill="#3846c8" opacity="0.7"/>
<circle cx="261.4" cy="378.4" r="1.0" fill="#3846c8" opacity="0.7"/>
<circle cx="271.4" cy="377.4" r="0.8" fill="#3846c8" opacity="0.7"/>
<circle cx="295.9" cy="435.3" r="0.8" fill="#3846c8" opacity="0.7"/>
<circle cx="253.5" cy="370.8" r="1.0" fill="#3846c8" opacity="0.7"/>
<circle cx="254.3" cy="398.7" r="0.8" fill="#3846c8" opacity="0.7"/>
<circle cx="285.2" cy="434.6" r="0.9" fill="#3846c8" opacity="0.7"/>
<circle cx="278.5" cy="401.0" r="1.0" fill="#3846c8" opacity="0.7"/>
<circle cx="280.7" cy="379.0" r="0.7" fill="#3846c8" opacity="0.7"/>
<circle cx="246.2" cy="384.4" r="0.9" fill="#3846c8" opacity="0.7"/>
<circle cx="291.0" cy="411.7" r="1.1" fill="#3846c8" opacity="0.7"/>
<circle cx="269.1" cy="377.1" r="0.6" fill="#3846c8" opacity="0.7"/>
<circle cx="291.3" cy="389.7" r="0.8" fill="#3846c8" opacity="0.7"/>
<circle cx="239.6" cy="357.4" r="0.8" fill="#3846c8" opacity="0.7"/>
<circle cx="273.7" cy="367.8" r="0.9" fill="#3846c8" opacity="0.7"/>
<circle cx="259.4" cy="397.9" r="0.9" fill="#3846c8" opacity="0.7"/>
<circle cx="295.3" cy="450.6" r="0.8" fill="#3846c8" opacity="0.7"/>
<circle cx="281.1" cy="430.9" r="0.9" fill="#3846c8" opacity="0.7"/>
<circle cx="263.0" cy="402.0" r="1.0" fill="#3846c8" opacity="0.7"/>
<circle cx="245.7" cy="384.4" r="0.8" fill="#3846c8" opacity="0.7"/>
<circle cx="297.4" cy="405.2" r="0.7" fill="#3846c8" opacity="0.7"/>
<circle cx="286.7" cy="409.5" r="0.8" fill="#3846c8" opacity="0.7"/>
<circle cx="275.8" cy="375.7" r="0.6" fill="#3846c8" opacity="0.7"/>
<circle cx="274.0" cy="399.7" r="0.8" fill="#3846c8" opacity="0.7"/>
<circle cx="285.5" cy="417.8" r="1.0" fill="#3846c8" opacity="0.7"/>
<circle cx="288.2" cy="372.3" r="0.9" fill="#3846c8" opacity="0.7"/>
<circle cx="263.8" cy="394.4" r="1.1" fill="#3846c8" opacity="0.7"/>
<circle cx="284.7" cy="391.4" r="0.7" fill="#3846c8" opacity="0.7"/>
<circle cx="286.8" cy="430.1" r="0.8" fill="#3846c8" opacity="0.7"/>
<circle cx="259.2" cy="382.0" r="0.7" fill="#3846c8" opacity="0.7"/>
<circle cx="247.5" cy="367.7" r="1.0" fill="#3846c8" opacity="0.7"/>
<circle cx="297.8" cy="410.2" r="0.8" fill="#3846c8" opacity="0.7"/>
<circle cx="298.6" cy="441.4" r="0.7" fill="#3846c8" opacity="0.7"/>
<circle cx="298.8" cy="421.7" r="1.0" fill="#3846c8" opacity="0.7"/>
<circle cx="267.6" cy="416.6" r="1.0" fill="#3846c8" opacity="0.7"/>
<circle cx="303.5" cy="416.3" r="1.0" fill="#3846c8" opacity="0.7"/>
<circle cx="290.5" cy="415.4" r="1.0" fill="#3846c8" opacity="0.7"/>
<circle cx="288.2" cy="377.0" r="0.8" fill="#3846c8" opacity="0.7"/>
<circle cx="277.6" cy="399.7" r="1.0" fill="#3846c8" opacity="0.7"/>
<circle cx="293.2" cy="429.4" r="0.7" fill="#3846c8" opacity="0.7"/>
<circle cx="270.4" cy="375.7" r="0.6" fill="#3846c8" opacity="0.7"/>
<circle cx="276.7" cy="376.9" r="0.6" fill="#3846c8" opacity="0.7"/>
<circle cx="283.9" cy="389.7" r="0.6" fill="#3846c8" opacity="0.7"/>
<circle cx="294.8" cy="375.0" r="0.6" fill="#3846c8" opacity="0.7"/>
<circle cx="247.1" cy="373.0" r="1.1" fill="#3846c8" opacity="0.7"/>
<circle cx="278.0" cy="402.3" r="1.0" fill="#3846c8" opacity="0.7"/>
<circle cx="267.5" cy="358.9" r="0.9" fill="#3846c8" opacity="0.7"/>
<circle cx="292.2" cy="394.8" r="0.7" fill="#3846c8" opacity="0.7"/>
<circle cx="289.8" cy="397.1" r="0.7" fill="#3846c8" opacity="0.7"/>
<circle cx="289.6" cy="435.2" r="0.8" fill="#3846c8" opacity="0.7"/>
<circle cx="286.0" cy="419.0" r="1.1" fill="#3846c8" opacity="0.7"/>
<circle cx="302.7" cy="431.3" r="1.0" fill="#3846c8" opacity="0.7"/>
<circle cx="289.3" cy="417.1" r="1.0" fill="#3846c8" opacity="0.7"/>
<circle cx="242.0" cy="383.5" r="0.9" fill="#3846c8" opacity="0.7"/>
<circle cx="269.3" cy="406.6" r="0.7" fill="#3846c8" opacity="0.7"/>
<circle cx="304.4" cy="399.9" r="0.9" fill="#3846c8" opacity="0.7"/>
<circle cx="268.8" cy="361.2" r="1.1" fill="#3846c8" opacity="0.7"/>
<circle cx="282.3" cy="407.9" r="0.9" fill="#3846c8" opacity="0.7"/>
<circle cx="289.7" cy="431.0" r="1.0" fill="#3846c8" opacity="0.7"/>
<circle cx="304.8" cy="397.9" r="1.0" fill="#3846c8" opacity="0.7"/>
<circle cx="251.9" cy="384.9" r="0.6" fill="#3846c8" opacity="0.7"/>
<circle cx="272.0" cy="405.1" r="0.7" fill="#3846c8" opacity="0.7"/>
<circle cx="255.7" cy="370.1" r="0.9" fill="#3846c8" opacity="0.7"/>
<circle cx="248.4" cy="365.5" r="0.7" fill="#3846c8" opacity="0.7"/>
<circle cx="270.4" cy="370.7" r="1.0" fill="#3846c8" opacity="0.7"/>
<circle cx="244.3" cy="375.3" r="0.8" fill="#3846c8" opacity="0.7"/>
<circle cx="290.1" cy="432.0" r="0.7" fill="#3846c8" opacity="0.7"/>
<circle cx="295.7" cy="447.0" r="1.0" fill="#3846c8" opacity="0.7"/>
<circle cx="266.0" cy="381.5" r="0.6" fill="#3846c8" opacity="0.7"/>
<circle cx="302.5" cy="366.3" r="0.7" fill="#3846c8" opacity="0.7"/>
<circle cx="281.9" cy="395.6" r="0.8" fill="#3846c8" opacity="0.7"/>
<circle cx="266.0" cy="411.6" r="1.0" fill="#3846c8" opacity="0.7"/>
<circle cx="260.7" cy="396.1" r="0.9" fill="#3846c8" opacity="0.7"/>
<circle cx="273.4" cy="367.5" r="0.9" fill="#3846c8" opacity="0.7"/>
<circle cx="285.0" cy="391.9" r="1.0" fill="#3846c8" opacity="0.7"/>
<circle cx="266.6" cy="372.8" r="1.0" fill="#3846c8" opacity="0.7"/>
<circle cx="299.6" cy="435.3" r="1.0" fill="#3846c8" opacity="0.7"/>
<circle cx="286.2" cy="421.5" r="0.9" fill="#3846c8" opacity="0.7"/>
<circle cx="262.0" cy="405.3" r="0.9" fill="#3846c8" opacity="0.7"/>
<circle cx="272.4" cy="401.6" r="1.0" fill="#3846c8" opacity="0.7"/>
<circle cx="290.3" cy="423.9" r="1.0" fill="#3846c8" opacity="0.7"/>
<circle cx="263.6" cy="366.5" r="0.7" fill="#3846c8" opacity="0.7"/>
<circle cx="268.9" cy="375.9" r="1.1" fill="#3846c8" opacity="0.7"/>
<circle cx="298.3" cy="383.3" r="1.1" fill="#3846c8" opacity="0.7"/>
<circle cx="294.4" cy="384.9" r="0.7" fill="#3846c8" opacity="0.7"/>
<circle cx="294.4" cy="435.8" r="0.9" fill="#3846c8" opacity="0.7"/>
<circle cx="278.4" cy="378.9" r="0.7" fill="#3846c8" opacity="0.7"/>
<circle cx="286.7" cy="436.9" r="0.9" fill="#3846c8" opacity="0.7"/>
<circle cx="261.0" cy="365.8" r="1.0" fill="#3846c8" opacity="0.7"/>
<circle cx="250.4" cy="371.4" r="0.6" fill="#3846c8" opacity="0.7"/>
<circle cx="290.9" cy="362.5" r="0.8" fill="#3846c8" opacity="0.7"/>
<circle cx="271.6" cy="409.9" r="0.8" fill="#3846c8" opacity="0.7"/>
<circle cx="292.6" cy="372.1" r="0.9" fill="#3846c8" opacity="0.7"/>
<circle cx="244.6" cy="387.0" r="0.6" fill="#3846c8" opacity="0.7"/>
<circle cx="259.2" cy="396.1" r="0.9" fill="#3846c8" opacity="0.7"/>
<circle cx="267.4" cy="389.6" r="0.8" fill="#3846c8" opacity="0.7"/>
<circle cx="254.1" cy="374.1" r="1.1" fill="#3846c8" opacity="0.7"/>
<circle cx="253.7" cy="371.8" r="0.9" fill="#3846c8" opacity="0.7"/>
<circle cx="305.7" cy="358.5" r="1.1" fill="#3846c8" opacity="0.7"/>
<circle cx="279.8" cy="386.6" r="0.9" fill="#3846c8" opacity="0.7"/>
<circle cx="294.4" cy="362.7" r="0.8" fill="#3846c8" opacity="0.7"/>
<circle cx="302.2" cy="363.0" r="0.9" fill="#3846c8" opacity="0.7"/>
<circle cx="294.0" cy="377.2" r="0.7" fill="#3846c8" opacity="0.7"/>
<circle cx="283.7" cy="415.2" r="0.7" fill="#3846c8" opacity="0.7"/>
<circle cx="259.3" cy="390.6" r="0.9" fill="#3846c8" opacity="0.7"/>
<circle cx="266.6" cy="413.2" r="0.8" fill="#3846c8" opacity="0.7"/>
<circle cx="295.4" cy="450.8" r="0.9" fill="#3846c8" opacity="0.7"/>
<circle cx="281.1" cy="365.3" r="1.1" fill="#3846c8" opacity="0.7"/>
<circle cx="280.9" cy="399.1" r="1.0" fill="#3846c8" opacity="0.7"/>
<circle cx="297.3" cy="395.4" r="0.7" fill="#3846c8" opacity="0.7"/>
<circle cx="287.0" cy="422.1" r="0.9" fill="#3846c8" opacity="0.7"/>
<circle cx="242.0" cy="378.8" r="0.9" fill="#3846c8" opacity="0.7"/>
<circle cx="287.7" cy="421.6" r="0.9" fill="#3846c8" opacity="0.7"/>
<circle cx="283.1" cy="423.3" r="1.1" fill="#3846c8" opacity="0.7"/>
<circle cx="298.7" cy="389.4" r="1.1" fill="#3846c8" opacity="0.7"/>
<circle cx="284.6" cy="398.1" r="0.8" fill="#3846c8" opacity="0.7"/>
<circle cx="274.2" cy="419.4" r="0.8" fill="#3846c8" opacity="0.7"/>
<circle cx="304.6" cy="404.2" r="1.1" fill="#3846c8" opacity="0.7"/>
<circle cx="264.1" cy="380.3" r="0.8" fill="#3846c8" opacity="0.7"/>
<circle cx="276.5" cy="429.6" r="0.8" fill="#3846c8" opacity="0.7"/>
<circle cx="261.4" cy="373.8" r="0.7" fill="#3846c8" opacity="0.7"/>
<circle cx="269.4" cy="416.0" r="1.0" fill="#3846c8" opacity="0.7"/>
<circle cx="277.3" cy="392.5" r="0.8" fill="#3846c8" opacity="0.7"/>
<circle cx="298.9" cy="425.8" r="1.0" fill="#3846c8" opacity="0.7"/>
<circle cx="261.4" cy="368.9" r="1.0" fill="#3846c8" opacity="0.7"/>
<circle cx="292.6" cy="411.0" r="0.6" fill="#3846c8" opacity="0.7"/>
<circle cx="291.5" cy="370.2" r="0.6" fill="#3846c8" opacity="0.7"/>
<circle cx="256.2" cy="377.6" r="0.8" fill="#3846c8" opacity="0.7"/>
<circle cx="293.7" cy="404.0" r="1.0" fill="#3846c8" opacity="0.7"/>
<circle cx="285.9" cy="391.2" r="0.8" fill="#3846c8" opacity="0.7"/>
<circle cx="292.8" cy="437.3" r="1.1" fill="#3846c8" opacity="0.7"/>
<circle cx="259.6" cy="372.7" r="1.0" fill="#3846c8" opacity="0.7"/>
<circle cx="285.6" cy="385.1" r="0.6" fill="#3846c8" opacity="0.7"/>
<circle cx="283.7" cy="382.7" r="0.8" fill="#3846c8" opacity="0.7"/>
<circle cx="259.7" cy="390.3" r="0.8" fill="#3846c8" opacity="0.7"/>
<circle cx="281.5" cy="429.0" r="1.0" fill="#3846c8" opacity="0.7"/>
<circle cx="293.8" cy="379.1" r="0.9" fill="#3846c8" opacity="0.7"/>
<circle cx="276.1" cy="361.2" r="0.7" fill="#3846c8" opacity="0.7"/>
<circle cx="253.1" cy="378.7" r="1.1" fill="#3846c8" opacity="0.7"/>
<circle cx="272.6" cy="381.4" r="0.7" fill="#3846c8" opacity="0.7"/>
<circle cx="297.6" cy="438.3" r="0.9" fill="#3846c8" opacity="0.7"/>
<circle cx="291.5" cy="377.9" r="0.8" fill="#3846c8" opacity="0.7"/>
<circle cx="284.8" cy="438.6" r="0.7" fill="#3846c8" opacity="0.7"/>
<circle cx="284.7" cy="440.2" r="0.6" fill="#3846c8" opacity="0.7"/>
<circle cx="292.6" cy="403.4" r="1.0" fill="#3846c8" opacity="0.7"/>
<circle cx="296.8" cy="418.3" r="0.7" fill="#3846c8" opacity="0.7"/>
<circle cx="275.7" cy="373.5" r="1.0" fill="#3846c8" opacity="0.7"/>
<circle cx="292.0" cy="358.4" r="0.6" fill="#3846c8" opacity="0.7"/>
<circle cx="282.9" cy="390.3" r="1.0" fill="#3846c8" opacity="0.7"/>
<circle cx="251.7" cy="364.9" r="1.0" fill="#3846c8" opacity="0.7"/>
<circle cx="291.4" cy="365.6" r="0.9" fill="#3846c8" opacity="0.7"/>
<circle cx="241.7" cy="360.0" r="0.6" fill="#3846c8" opacity="0.7"/>
<circle cx="284.1" cy="421.1" r="0.8" fill="#3846c8" opacity="0.7"/>
<circle cx="268.5" cy="376.1" r="0.8" fill="#3846c8" opacity="0.7"/>
<circle cx="245.6" cy="369.7" r="0.9" fill="#3846c8" opacity="0.7"/>
<circle cx="273.0" cy="400.6" r="0.6" fill="#3846c8" opacity="0.7"/>
<circle cx="261.0" cy="373.5" r="0.7" fill="#3846c8" opacity="0.7"/>
<circle cx="297.0" cy="397.2" r="0.8" fill="#3846c8" opacity="0.7"/>
<circle cx="255.8" cy="386.2" r="0.9" fill="#3846c8" opacity="0.7"/>
<circle cx="294.1" cy="415.8" r="0.6" fill="#3846c8" opacity="0.7"/>
<circle cx="270.1" cy="405.2" r="1.1" fill="#3846c8" opacity="0.7"/>
<circle cx="285.3" cy="377.8" r="0.8" fill="#3846c8" opacity="0.7"/>
<circle cx="302.6" cy="424.9" r="0.9" fill="#3846c8" opacity="0.7"/>
<circle cx="258.8" cy="377.9" r="0.8" fill="#3846c8" opacity="0.7"/>
<circle cx="270.7" cy="402.5" r="1.0" fill="#3846c8" opacity="0.7"/>
<circle cx="292.2" cy="379.5" r="0.8" fill="#3846c8" opacity="0.7"/>
<circle cx="280.1" cy="409.7" r="0.6" fill="#3846c8" opacity="0.7"/>
<circle cx="306.8" cy="374.3" r="0.7" fill="#3846c8" opacity="0.7"/>
<circle cx="299.5" cy="386.8" r="0.6" fill="#3846c8" opacity="0.7"/>
<circle cx="275.1" cy="399.1" r="1.0" fill="#3846c8" opacity="0.7"/>
<circle cx="298.8" cy="433.9" r="1.0" fill="#3846c8" opacity="0.7"/>
<circle cx="281.8" cy="388.5" r="0.8" fill="#3846c8" opacity="0.7"/>
<circle cx="300.0" cy="359.2" r="1.1" fill="#3846c8" opacity="0.7"/>
<circle cx="242.9" cy="364.9" r="1.0" fill="#3846c8" opacity="0.7"/>
<circle cx="259.0" cy="384.2" r="0.8" fill="#3846c8" opacity="0.7"/>
<circle cx="282.8" cy="411.4" r="1.0" fill="#3846c8" opacity="0.7"/>
<circle cx="264.2" cy="406.6" r="0.6" fill="#3846c8" opacity="0.7"/>
<circle cx="263.0" cy="407.7" r="1.0" fill="#3846c8" opacity="0.7"/>
<circle cx="305.4" cy="416.4" r="0.8" fill="#3846c8" opacity="0.7"/>
<circle cx="302.7" cy="412.6" r="0.9" fill="#3846c8" opacity="0.7"/>
<circle cx="259.0" cy="369.4" r="1.0" fill="#3846c8" opacity="0.7"/>
<circle cx="285.2" cy="373.9" r="0.8" fill="#3846c8" opacity="0.7"/>
<circle cx="266.4" cy="404.1" r="1.0" fill="#3846c8" opacity="0.7"/>
<circle cx="292.4" cy="418.6" r="0.8" fill="#3846c8" opacity="0.7"/>
<circle cx="291.6" cy="416.2" r="0.6" fill="#3846c8" opacity="0.7"/>
<circle cx="253.8" cy="391.9" r="0.9" fill="#3846c8" opacity="0.7"/>
<circle cx="290.5" cy="447.8" r="0.9" fill="#3846c8" opacity="0.7"/>
<circle cx="275.1" cy="395.2" r="0.6" fill="#3846c8" opacity="0.7"/>
<circle cx="259.0" cy="383.4" r="0.7" fill="#3846c8" opacity="0.7"/>
<circle cx="302.6" cy="372.5" r="1.0" fill="#3846c8" opacity="0.7"/>
<circle cx="261.9" cy="367.7" r="0.9" fill="#3846c8" opacity="0.7"/>
<circle cx="265.3" cy="357.4" r="1.1" fill="#3846c8" opacity="0.7"/>
<circle cx="240.1" cy="369.4" r="0.8" fill="#3846c8" opacity="0.7"/>
<circle cx="305.0" cy="386.9" r="0.7" fill="#3846c8" opacity="0.7"/>
<circle cx="292.5" cy="384.0" r="0.7" fill="#3846c8" opacity="0.7"/>
<circle cx="304.9" cy="395.1" r="0.8" fill="#3846c8" opacity="0.7"/>
<circle cx="300.7" cy="394.0" r="1.0" fill="#3846c8" opacity="0.7"/>
<circle cx="266.7" cy="416.2" r="1.0" fill="#3846c8" opacity="0.7"/>
<circle cx="296.7" cy="445.1" r="1.0" fill="#3846c8" opacity="0.7"/>
<circle cx="304.0" cy="411.9" r="0.7" fill="#3846c8" opacity="0.7"/>
<circle cx="299.4" cy="395.7" r="1.0" fill="#3846c8" opacity="0.7"/>
<circle cx="266.6" cy="373.7" r="0.7" fill="#3846c8" opacity="0.7"/>
<circle cx="283.7" cy="427.4" r="0.7" fill="#3846c8" opacity="0.7"/>
<circle cx="301.5" cy="386.9" r="0.7" fill="#3846c8" opacity="0.7"/>
<circle cx="254.3" cy="376.7" r="1.1" fill="#3846c8" opacity="0.7"/>
<circle cx="303.5" cy="363.7" r="1.0" fill="#3846c8" opacity="0.7"/>
<circle cx="280.9" cy="425.8" r="0.9" fill="#3846c8" opacity="0.7"/>
<circle cx="281.5" cy="382.9" r="0.8" fill="#3846c8" opacity="0.7"/>
<circle cx="252.2" cy="361.8" r="0.9" fill="#3846c8" opacity="0.7"/>
<circle cx="276.1" cy="364.3" r="0.7" fill="#3846c8" opacity="0.7"/>
<circle cx="299.2" cy="424.2" r="0.8" fill="#3846c8" opacity="0.7"/>
<circle cx="287.6" cy="369.7" r="0.8" fill="#3846c8" opacity="0.7"/>
<circle cx="292.4" cy="450.3" r="0.9" fill="#3846c8" opacity="0.7"/>
<circle cx="281.8" cy="363.0" r="1.1" fill="#3846c8" opacity="0.7"/>
<circle cx="290.3" cy="423.7" r="0.7" fill="#3846c8" opacity="0.7"/>
<circle cx="253.0" cy="382.2" r="1.0" fill="#3846c8" opacity="0.7"/>
<circle cx="290.0" cy="445.9" r="0.9" fill="#3846c8" opacity="0.7"/>
<circle cx="301.1" cy="363.0" r="1.0" fill="#3846c8" opacity="0.7"/>
<circle cx="299.7" cy="372.1" r="0.8" fill="#3846c8" opacity="0.7"/>
<circle cx="295.3" cy="393.9" r="1.1" fill="#3846c8" opacity="0.7"/>
<circle cx="243.4" cy="376.7" r="0.9" fill="#3846c8" opacity="0.7"/>
<circle cx="263.7" cy="392.3" r="0.8" fill="#3846c8" opacity="0.7"/>
<circle cx="273.2" cy="375.0" r="1.0" fill="#3846c8" opacity="0.7"/>
<circle cx="284.3" cy="390.3" r="0.9" fill="#3846c8" opacity="0.7"/>
<circle cx="274.0" cy="395.6" r="0.7" fill="#3846c8" opacity="0.7"/>
<circle cx="250.1" cy="387.6" r="1.0" fill="#3846c8" opacity="0.7"/>
<circle cx="255.5" cy="371.2" r="0.9" fill="#3846c8" opacity="0.7"/>
<circle cx="285.5" cy="437.8" r="0.9" fill="#3846c8" opacity="0.7"/>
<circle cx="279.6" cy="363.7" r="0.8" fill="#3846c8" opacity="0.7"/>
<circle cx="307.8" cy="368.0" r="0.7" fill="#3846c8" opacity="0.7"/>
<circle cx="293.5" cy="412.2" r="1.0" fill="#3846c8" opacity="0.7"/>
<circle cx="266.9" cy="372.2" r="0.7" fill="#3846c8" opacity="0.7"/>
<circle cx="273.1" cy="422.1" r="0.6" fill="#3846c8" opacity="0.7"/>
<circle cx="258.5" cy="375.1" r="0.7" fill="#3846c8" opacity="0.7"/>
<circle cx="289.7" cy="419.4" r="0.9" fill="#3846c8" opacity="0.7"/>
<circle cx="274.0" cy="419.8" r="0.9" fill="#3846c8" opacity="0.7"/>
<circle cx="275.1" cy="421.2" r="0.9" fill="#3846c8" opacity="0.7"/>
<circle cx="260.9" cy="388.4" r="0.7" fill="#3846c8" opacity="0.7"/>
<circle cx="299.3" cy="374.5" r="1.0" fill="#3846c8" opacity="0.7"/>
<circle cx="267.2" cy="370.8" r="1.0" fill="#3846c8" opacity="0.7"/>
<circle cx="275.5" cy="378.0" r="1.1" fill="#3846c8" opacity="0.7"/>
<circle cx="277.8" cy="375.8" r="1.0" fill="#3846c8" opacity="0.7"/>
<circle cx="283.2" cy="387.7" r="1.0" fill="#3846c8" opacity="0.7"/>
<circle cx="292.0" cy="426.0" r="1.0" fill="#3846c8" opacity="0.7"/>
<circle cx="305.5" cy="417.8" r="0.7" fill="#3846c8" opacity="0.7"/>
<circle cx="273.1" cy="397.7" r="1.0" fill="#3846c8" opacity="0.7"/>
<circle cx="281.0" cy="396.8" r="0.8" fill="#3846c8" opacity="0.7"/>
<circle cx="281.9" cy="405.0" r="0.9" fill="#3846c8" opacity="0.7"/>
<circle cx="267.1" cy="401.0" r="0.9" fill="#3846c8" opacity="0.7"/>
<circle cx="275.3" cy="396.9" r="0.7" fill="#3846c8" opacity="0.7"/>
<circle cx="283.4" cy="424.4" r="1.1" fill="#3846c8" opacity="0.7"/>
<circle cx="268.2" cy="393.8" r="0.9" fill="#3846c8" opacity="0.7"/>
<circle cx="294.3" cy="392.3" r="0.6" fill="#3846c8" opacity="0.7"/>
<circle cx="270.8" cy="420.1" r="0.9" fill="#3846c8" opacity="0.7"/>
<circle cx="272.7" cy="370.1" r="0.8" fill="#3846c8" opacity="0.7"/>
<circle cx="261.6" cy="404.5" r="1.1" fill="#3846c8" opacity="0.7"/>
<circle cx="246.7" cy="364.2" r="0.7" fill="#3846c8" opacity="0.7"/>
<circle cx="278.1" cy="388.7" r="0.6" fill="#3846c8" opacity="0.7"/>
<circle cx="288.0" cy="364.9" r="1.1" fill="#3846c8" opacity="0.7"/>
<circle cx="295.0" cy="366.9" r="0.9" fill="#3846c8" opacity="0.7"/>
<circle cx="294.5" cy="420.7" r="0.9" fill="#3846c8" opacity="0.7"/>
<circle cx="295.0" cy="422.8" r="1.1" fill="#3846c8" opacity="0.7"/>
<circle cx="253.1" cy="390.8" r="0.7" fill="#3846c8" opacity="0.7"/>
<circle cx="293.5" cy="435.1" r="0.8" fill="#3846c8" opacity="0.7"/>
<circle cx="257.3" cy="358.6" r="0.8" fill="#3846c8" opacity="0.7"/>
<circle cx="298.6" cy="405.1" r="0.6" fill="#3846c8" opacity="0.7"/>
<circle cx="243.4" cy="373.5" r="0.7" fill="#3846c8" opacity="0.7"/>
<circle cx="283.1" cy="379.7" r="0.9" fill="#3846c8" opacity="0.7"/>
<circle cx="265.9" cy="393.5" r="1.1" fill="#3846c8" opacity="0.7"/>
<circle cx="274.6" cy="398.9" r="0.9" fill="#3846c8" opacity="0.7"/>
<circle cx="254.2" cy="361.9" r="0.8" fill="#3846c8" opacity="0.7"/>
<circle cx="251.4" cy="389.7" r="0.7" fill="#3846c8" opacity="0.7"/>
<circle cx="267.9" cy="412.6" r="1.0" fill="#3846c8" opacity="0.7"/>
<circle cx="288.1" cy="431.1" r="0.7" fill="#3846c8" opacity="0.7"/>
<circle cx="260.1" cy="368.8" r="1.0" fill="#3846c8" opacity="0.7"/>
<circle cx="290.4" cy="412.5" r="0.9" fill="#3846c8" opacity="0.7"/>
<circle cx="297.2" cy="367.6" r="0.6" fill="#3846c8" opacity="0.7"/>
<circle cx="267.9" cy="392.2" r="0.8" fill="#3846c8" opacity="0.7"/>
<circle cx="303.7" cy="420.8" r="1.0" fill="#3846c8" opacity="0.7"/>
<circle cx="289.7" cy="423.7" r="1.0" fill="#3846c8" opacity="0.7"/>
<circle cx="262.5" cy="407.3" r="1.1" fill="#3846c8" opacity="0.7"/>
<circle cx="292.0" cy="442.3" r="0.8" fill="#3846c8" opacity="0.7"/>
<circle cx="291.2" cy="388.1" r="1.0" fill="#3846c8" opacity="0.7"/>
<circle cx="270.7" cy="420.2" r="1.0" fill="#3846c8" opacity="0.7"/>
<circle cx="243.8" cy="376.2" r="0.8" fill="#3846c8" opacity="0.7"/>
<circle cx="300.9" cy="402.6" r="0.8" fill="#3846c8" opacity="0.7"/>
<circle cx="267.0" cy="395.2" r="1.0" fill="#3846c8" opacity="0.7"/>
<circle cx="288.8" cy="410.4" r="1.1" fill="#3846c8" opacity="0.7"/>
<circle cx="274.3" cy="391.3" r="1.0" fill="#3846c8" opacity="0.7"/>
<circle cx="289.2" cy="364.5" r="1.1" fill="#3846c8" opacity="0.7"/>
<circle cx="304.2" cy="392.6" r="0.8" fill="#3846c8" opacity="0.7"/>
<circle cx="285.1" cy="422.0" r="1.1" fill="#3846c8" opacity="0.7"/>
<circle cx="273.1" cy="412.5" r="0.9" fill="#3846c8" opacity="0.7"/>
<circle cx="264.6" cy="365.3" r="1.0" fill="#3846c8" opacity="0.7"/>
<circle cx="263.9" cy="411.5" r="0.8" fill="#3846c8" opacity="0.7"/>
<circle cx="287.0" cy="440.2" r="1.0" fill="#3846c8" opacity="0.7"/>
<circle cx="305.9" cy="411.6" r="1.0" fill="#3846c8" opacity="0.7"/>
<circle cx="242.8" cy="360.3" r="0.8" fill="#3846c8" opacity="0.7"/>
<circle cx="252.5" cy="395.5" r="1.1" fill="#3846c8" opacity="0.7"/>
<circle cx="269.9" cy="367.9" r="0.8" fill="#3846c8" opacity="0.7"/>
<circle cx="283.7" cy="408.3" r="1.1" fill="#3846c8" opacity="0.7"/>
<circle cx="268.3" cy="385.4" r="0.7" fill="#3846c8" opacity="0.7"/>
<circle cx="264.5" cy="365.1" r="0.8" fill="#3846c8" opacity="0.7"/>
<circle cx="281.2" cy="396.4" r="0.6" fill="#3846c8" opacity="0.7"/>
<circle cx="277.2" cy="402.9" r="1.1" fill="#3846c8" opacity="0.7"/>
</g>
<g filter="url(#blurS)">
<circle cx="327.6" cy="387.5" r="0.9" fill="#26328e" opacity="0.55"/>
<circle cx="335.7" cy="456.1" r="0.7" fill="#26328e" opacity="0.55"/>
<circle cx="309.7" cy="424.4" r="0.8" fill="#26328e" opacity="0.55"/>
<circle cx="343.8" cy="414.8" r="0.8" fill="#26328e" opacity="0.55"/>
<circle cx="341.4" cy="426.4" r="0.7" fill="#26328e" opacity="0.55"/>
<circle cx="318.8" cy="403.7" r="0.9" fill="#26328e" opacity="0.55"/>
<circle cx="339.7" cy="417.7" r="0.9" fill="#26328e" opacity="0.55"/>
<circle cx="345.3" cy="388.3" r="0.7" fill="#26328e" opacity="0.55"/>
<circle cx="336.3" cy="438.8" r="0.6" fill="#26328e" opacity="0.55"/>
<circle cx="333.7" cy="438.6" r="0.8" fill="#26328e" opacity="0.55"/>
<circle cx="309.9" cy="407.1" r="0.8" fill="#26328e" opacity="0.55"/>
<circle cx="324.2" cy="390.8" r="0.6" fill="#26328e" opacity="0.55"/>
<circle cx="323.7" cy="369.5" r="0.9" fill="#26328e" opacity="0.55"/>
<circle cx="335.4" cy="433.6" r="0.7" fill="#26328e" opacity="0.55"/>
<circle cx="304.3" cy="436.6" r="0.8" fill="#26328e" opacity="0.55"/>
<circle cx="343.4" cy="409.7" r="0.6" fill="#26328e" opacity="0.55"/>
<circle cx="306.7" cy="440.0" r="1.0" fill="#26328e" opacity="0.55"/>
<circle cx="329.2" cy="404.5" r="0.9" fill="#26328e" opacity="0.55"/>
<circle cx="339.4" cy="451.8" r="0.9" fill="#26328e" opacity="0.55"/>
<circle cx="331.3" cy="425.3" r="0.9" fill="#26328e" opacity="0.55"/>
<circle cx="322.8" cy="419.7" r="1.0" fill="#26328e" opacity="0.55"/>
<circle cx="312.8" cy="358.1" r="1.0" fill="#26328e" opacity="0.55"/>
<circle cx="327.3" cy="372.4" r="0.6" fill="#26328e" opacity="0.55"/>
<circle cx="324.9" cy="382.2" r="0.6" fill="#26328e" opacity="0.55"/>
<circle cx="319.4" cy="451.6" r="1.0" fill="#26328e" opacity="0.55"/>
<circle cx="320.9" cy="448.1" r="0.6" fill="#26328e" opacity="0.55"/>
<circle cx="325.8" cy="416.6" r="0.8" fill="#26328e" opacity="0.55"/>
<circle cx="308.4" cy="382.9" r="0.6" fill="#26328e" opacity="0.55"/>
<circle cx="317.6" cy="381.8" r="0.6" fill="#26328e" opacity="0.55"/>
<circle cx="344.3" cy="427.4" r="1.0" fill="#26328e" opacity="0.55"/>
<circle cx="325.2" cy="413.4" r="0.9" fill="#26328e" opacity="0.55"/>
<circle cx="334.8" cy="404.1" r="0.9" fill="#26328e" opacity="0.55"/>
<circle cx="337.5" cy="425.5" r="0.7" fill="#26328e" opacity="0.55"/>
<circle cx="311.5" cy="460.7" r="0.9" fill="#26328e" opacity="0.55"/>
<circle cx="321.3" cy="367.9" r="0.7" fill="#26328e" opacity="0.55"/>
<circle cx="338.6" cy="419.2" r="0.6" fill="#26328e" opacity="0.55"/>
<circle cx="333.8" cy="465.2" r="1.0" fill="#26328e" opacity="0.55"/>
<circle cx="302.7" cy="443.2" r="1.0" fill="#26328e" opacity="0.55"/>
<circle cx="339.8" cy="452.5" r="0.9" fill="#26328e" opacity="0.55"/>
<circle cx="328.3" cy="384.1" r="0.8" fill="#26328e" opacity="0.55"/>
<circle cx="333.5" cy="458.8" r="0.7" fill="#26328e" opacity="0.55"/>
<circle cx="309.5" cy="424.9" r="0.9" fill="#26328e" opacity="0.55"/>
<circle cx="336.7" cy="360.8" r="0.9" fill="#26328e" opacity="0.55"/>
<circle cx="319.1" cy="430.2" r="0.7" fill="#26328e" opacity="0.55"/>
<circle cx="346.2" cy="366.0" r="0.8" fill="#26328e" opacity="0.55"/>
<circle cx="343.3" cy="435.1" r="0.7" fill="#26328e" opacity="0.55"/>
<circle cx="339.7" cy="428.8" r="0.8" fill="#26328e" opacity="0.55"/>
<circle cx="308.4" cy="439.9" r="0.6" fill="#26328e" opacity="0.55"/>
<circle cx="343.7" cy="391.5" r="0.9" fill="#26328e" opacity="0.55"/>
<circle cx="319.6" cy="456.6" r="0.9" fill="#26328e" opacity="0.55"/>
</g>
<g filter="url(#blurS)">
<circle cx="271.9" cy="455.2" r="0.9" fill="#3440c0" opacity="0.7"/>
<circle cx="295.7" cy="460.0" r="1.1" fill="#3440c0" opacity="0.7"/>
<circle cx="240.0" cy="436.8" r="1.0" fill="#3440c0" opacity="0.7"/>
<circle cx="252.1" cy="463.6" r="0.7" fill="#3440c0" opacity="0.7"/>
<circle cx="272.6" cy="458.3" r="0.8" fill="#3440c0" opacity="0.7"/>
<circle cx="246.6" cy="409.2" r="1.0" fill="#3440c0" opacity="0.7"/>
<circle cx="239.7" cy="460.7" r="1.0" fill="#3440c0" opacity="0.7"/>
<circle cx="260.2" cy="449.7" r="0.9" fill="#3440c0" opacity="0.7"/>
<circle cx="242.0" cy="460.7" r="0.9" fill="#3440c0" opacity="0.7"/>
<circle cx="273.3" cy="462.4" r="1.1" fill="#3440c0" opacity="0.7"/>
<circle cx="261.9" cy="442.1" r="0.9" fill="#3440c0" opacity="0.7"/>
<circle cx="291.4" cy="455.9" r="0.9" fill="#3440c0" opacity="0.7"/>
<circle cx="239.4" cy="453.1" r="1.0" fill="#3440c0" opacity="0.7"/>
<circle cx="273.5" cy="461.0" r="1.1" fill="#3440c0" opacity="0.7"/>
<circle cx="287.9" cy="455.6" r="0.7" fill="#3440c0" opacity="0.7"/>
<circle cx="248.1" cy="453.3" r="0.9" fill="#3440c0" opacity="0.7"/>
<circle cx="259.0" cy="464.7" r="1.1" fill="#3440c0" opacity="0.7"/>
<circle cx="259.1" cy="464.3" r="0.9" fill="#3440c0" opacity="0.7"/>
<circle cx="248.6" cy="399.9" r="0.8" fill="#3440c0" opacity="0.7"/>
<circle cx="239.3" cy="406.0" r="0.8" fill="#3440c0" opacity="0.7"/>
<circle cx="248.3" cy="460.8" r="1.0" fill="#3440c0" opacity="0.7"/>
<circle cx="247.1" cy="464.1" r="0.8" fill="#3440c0" opacity="0.7"/>
</g>
<ellipse cx="263" cy="386" rx="3" ry="3" fill="#5aa030" opacity="0.7" filter="url(#blur1)"/>
<ellipse cx="278" cy="403" rx="3.5" ry="3" fill="#5aa030" opacity="0.7" filter="url(#blur1)"/>
<ellipse cx="290" cy="411" rx="3" ry="3" fill="#5aa030" opacity="0.7" filter="url(#blur1)"/>
<ellipse cx="299" cy="432" rx="4" ry="3" fill="#5aa030" opacity="0.7" filter="url(#blur1)"/>
<ellipse cx="247" cy="370" rx="3" ry="2" fill="#5aa030" opacity="0.7" filter="url(#blur1)"/>
<ellipse cx="285" cy="374" rx="2" ry="2" fill="#5aa030" opacity="0.7" filter="url(#blur1)"/>
</g>
<text x="363.30" y="332.90" font-size="12" fill="#000" font-weight="bold" >F</text>
<line x1="409.20" y1="426.10" x2="411.90" y2="426.10" stroke="#111" stroke-width="0.9"/>
<text x="406.60" y="429.10" font-size="8.6" fill="#161616" stroke="#161616" stroke-width="0.12" text-anchor="end" >0</text>
<line x1="409.20" y1="410.12" x2="411.90" y2="410.12" stroke="#111" stroke-width="0.9"/>
<text x="406.60" y="413.12" font-size="8.6" fill="#161616" stroke="#161616" stroke-width="0.12" text-anchor="end" >2</text>
<line x1="409.20" y1="394.14" x2="411.90" y2="394.14" stroke="#111" stroke-width="0.9"/>
<text x="406.60" y="397.14" font-size="8.6" fill="#161616" stroke="#161616" stroke-width="0.12" text-anchor="end" >4</text>
<line x1="409.20" y1="378.16" x2="411.90" y2="378.16" stroke="#111" stroke-width="0.9"/>
<text x="406.60" y="381.16" font-size="8.6" fill="#161616" stroke="#161616" stroke-width="0.12" text-anchor="end" >6</text>
<line x1="409.20" y1="362.18" x2="411.90" y2="362.18" stroke="#111" stroke-width="0.9"/>
<text x="406.60" y="365.18" font-size="8.6" fill="#161616" stroke="#161616" stroke-width="0.12" text-anchor="end" >8</text>
<rect x="416.10" y="381.30" width="13.10" height="44.80" fill="#e2e2e4" />
<rect x="436.60" y="407.70" width="13.40" height="18.40" fill="#bcdc9c" />
<rect x="457.40" y="383.40" width="13.10" height="42.70" fill="#d99488" />
<line x1="422.60" y1="373.80" x2="422.60" y2="386.50" stroke="#333" stroke-width="0.9"/>
<line x1="420.20" y1="373.80" x2="425.00" y2="373.80" stroke="#333" stroke-width="0.9"/>
<line x1="420.20" y1="386.50" x2="425.00" y2="386.50" stroke="#333" stroke-width="0.9"/>
<line x1="443.40" y1="404.50" x2="443.40" y2="410.90" stroke="#333" stroke-width="0.9"/>
<line x1="441.00" y1="404.50" x2="445.80" y2="404.50" stroke="#333" stroke-width="0.9"/>
<line x1="441.00" y1="410.90" x2="445.80" y2="410.90" stroke="#333" stroke-width="0.9"/>
<line x1="464.00" y1="380.20" x2="464.00" y2="385.80" stroke="#333" stroke-width="0.9"/>
<line x1="461.60" y1="380.20" x2="466.40" y2="380.20" stroke="#333" stroke-width="0.9"/>
<line x1="461.60" y1="385.80" x2="466.40" y2="385.80" stroke="#333" stroke-width="0.9"/>
<rect x="417.80" y="367.70" width="3.80" height="3.80" fill="#d8d8d8" stroke="#222" stroke-width="0.85"/>
<rect x="423.50" y="370.30" width="3.80" height="3.80" fill="#d8d8d8" stroke="#222" stroke-width="0.85"/>
<rect x="418.90" y="372.70" width="3.80" height="3.80" fill="#d8d8d8" stroke="#222" stroke-width="0.85"/>
<rect x="422.00" y="382.50" width="3.80" height="3.80" fill="#d8d8d8" stroke="#222" stroke-width="0.85"/>
<rect x="421.00" y="388.90" width="3.80" height="3.80" fill="#d8d8d8" stroke="#222" stroke-width="0.85"/>
<rect x="420.60" y="400.10" width="3.80" height="3.80" fill="#d8d8d8" stroke="#222" stroke-width="0.85"/>
<rect x="423.70" y="374.60" width="3.80" height="3.80" fill="#d8d8d8" stroke="#222" stroke-width="0.85"/>
<circle cx="440.20" cy="400.90" r="2.00" fill="#5cb032" stroke="#111" stroke-width="0.8"/>
<circle cx="445.70" cy="400.30" r="2.00" fill="#5cb032" stroke="#111" stroke-width="0.8"/>
<circle cx="441.50" cy="403.90" r="2.00" fill="#5cb032" stroke="#111" stroke-width="0.8"/>
<circle cx="438.80" cy="409.80" r="2.00" fill="#5cb032" stroke="#111" stroke-width="0.8"/>
<circle cx="444.00" cy="407.70" r="2.00" fill="#5cb032" stroke="#111" stroke-width="0.8"/>
<circle cx="446.20" cy="413.00" r="2.00" fill="#5cb032" stroke="#111" stroke-width="0.8"/>
<circle cx="441.90" cy="414.50" r="2.00" fill="#5cb032" stroke="#111" stroke-width="0.8"/>
<circle cx="447.00" cy="406.00" r="2.00" fill="#5cb032" stroke="#111" stroke-width="0.8"/>
<circle cx="463.10" cy="374.90" r="2.00" fill="#c0102c" stroke="#111" stroke-width="0.8"/>
<circle cx="459.90" cy="379.80" r="2.00" fill="#c0102c" stroke="#111" stroke-width="0.8"/>
<circle cx="466.90" cy="378.70" r="2.00" fill="#c0102c" stroke="#111" stroke-width="0.8"/>
<circle cx="464.10" cy="382.30" r="2.00" fill="#c0102c" stroke="#111" stroke-width="0.8"/>
<circle cx="460.50" cy="391.40" r="2.00" fill="#c0102c" stroke="#111" stroke-width="0.8"/>
<circle cx="466.90" cy="391.40" r="2.00" fill="#c0102c" stroke="#111" stroke-width="0.8"/>
<circle cx="461.50" cy="384.00" r="2.00" fill="#c0102c" stroke="#111" stroke-width="0.8"/>
<circle cx="467.50" cy="384.50" r="2.00" fill="#c0102c" stroke="#111" stroke-width="0.8"/>
<line x1="411.90" y1="360.50" x2="411.90" y2="426.70" stroke="#111" stroke-width="1.2"/>
<line x1="411.30" y1="426.10" x2="473.70" y2="426.10" stroke="#111" stroke-width="1.2"/>
<text transform="translate(384.8,392.9) rotate(-90)" font-size="10.2" fill="#161616" stroke="#161616" stroke-width="0.12" text-anchor="middle" textLength="55.6" lengthAdjust="spacingAndGlyphs">Mean number of</text>
<text transform="translate(395.8,393.0) rotate(-90)" font-size="10.2" fill="#161616" stroke="#161616" stroke-width="0.12" text-anchor="middle" textLength="55.4" lengthAdjust="spacingAndGlyphs">Lgr5<tspan font-size="6.5" dy="-3.8">+</tspan><tspan dy="3.8"> cells/crypt</tspan></text>
<text x="409.10" y="352.95" font-size="7.9" fill="#161616" stroke="#161616" stroke-width="0.12" textLength="31.10" lengthAdjust="spacingAndGlyphs" >P=0.0001</text>
<path d="M417.00,358.60 V355.90 H440.40 V358.60" fill="none" stroke="#222" stroke-width="0.9"/>
<text x="444.00" y="352.95" font-size="7.9" fill="#161616" stroke="#161616" stroke-width="0.12" textLength="31.10" lengthAdjust="spacingAndGlyphs" >P=0.0001</text>
<path d="M444.50,358.60 V355.90 H469.40 V358.60" fill="none" stroke="#222" stroke-width="0.9"/>
<rect x="372.30" y="436.40" width="5.00" height="5.00" fill="#c8c8c8" stroke="#222" stroke-width="0.9"/>
<circle cx="374.80" cy="449.40" r="2.55" fill="#5cb032" stroke="#111" stroke-width="0.9"/>
<circle cx="374.80" cy="459.80" r="2.55" fill="#c0102c" stroke="#111" stroke-width="0.9"/>
<text x="381.4" y="441.1" font-size="8.6" fill="#161616" stroke="#161616" stroke-width="0.12" textLength="118.3" lengthAdjust="spacingAndGlyphs"><tspan font-style="italic">B6-Lgr5-EGFP</tspan><tspan font-size="5.4" dy="-3.2">creER</tspan><tspan dy="3.2"> Untreated (n=7)</tspan></text>
<text x="381.4" y="451.6" font-size="8.6" fill="#161616" stroke="#161616" stroke-width="0.12" textLength="113.6" lengthAdjust="spacingAndGlyphs"><tspan font-style="italic">B6-Lgr5-EGFP</tspan><tspan font-size="5.4" dy="-3.2">creER</tspan><tspan dy="3.2"> + Vehicle (n=8)</tspan></text>
<text x="381.4" y="462.0" font-size="8.6" fill="#161616" stroke="#161616" stroke-width="0.12" textLength="131.6" lengthAdjust="spacingAndGlyphs"><tspan font-style="italic">B6-Lgr5-EGFP</tspan><tspan font-size="5.4" dy="-3.2">creER</tspan><tspan dy="3.2"> + Teduglutide (n=8)</tspan></text>
<text x="7.00" y="488.30" font-size="12" fill="#000" font-weight="bold" >G</text>
<line x1="47.20" y1="605.00" x2="50.30" y2="605.00" stroke="#111" stroke-width="0.9"/>
<text x="45.60" y="608.00" font-size="8.6" fill="#161616" stroke="#161616" stroke-width="0.12" text-anchor="end" textLength="12.60" lengthAdjust="spacingAndGlyphs" >0.0</text>
<line x1="47.20" y1="584.62" x2="50.30" y2="584.62" stroke="#111" stroke-width="0.9"/>
<text x="45.60" y="587.62" font-size="8.6" fill="#161616" stroke="#161616" stroke-width="0.12" text-anchor="end" textLength="12.60" lengthAdjust="spacingAndGlyphs" >0.5</text>
<line x1="47.20" y1="564.25" x2="50.30" y2="564.25" stroke="#111" stroke-width="0.9"/>
<text x="45.60" y="567.25" font-size="8.6" fill="#161616" stroke="#161616" stroke-width="0.12" text-anchor="end" textLength="12.60" lengthAdjust="spacingAndGlyphs" >1.0</text>
<line x1="47.20" y1="543.88" x2="50.30" y2="543.88" stroke="#111" stroke-width="0.9"/>
<text x="45.60" y="546.88" font-size="8.6" fill="#161616" stroke="#161616" stroke-width="0.12" text-anchor="end" textLength="12.60" lengthAdjust="spacingAndGlyphs" >1.5</text>
<line x1="47.20" y1="523.50" x2="50.30" y2="523.50" stroke="#111" stroke-width="0.9"/>
<text x="45.60" y="526.50" font-size="8.6" fill="#161616" stroke="#161616" stroke-width="0.12" text-anchor="end" textLength="12.60" lengthAdjust="spacingAndGlyphs" >2.0</text>
<rect x="54.90" y="561.20" width="15.90" height="43.80" fill="#e2e2e4" />
<rect x="79.90" y="592.00" width="15.80" height="13.00" fill="#bcdc9c" />
<rect x="105.00" y="580.20" width="16.10" height="24.80" fill="#d99488" />
<line x1="62.60" y1="555.50" x2="62.60" y2="566.40" stroke="#333" stroke-width="0.9"/>
<line x1="60.00" y1="555.50" x2="65.20" y2="555.50" stroke="#333" stroke-width="0.9"/>
<line x1="60.00" y1="566.40" x2="65.20" y2="566.40" stroke="#333" stroke-width="0.9"/>
<line x1="88.00" y1="589.50" x2="88.00" y2="594.50" stroke="#333" stroke-width="0.9"/>
<line x1="85.40" y1="589.50" x2="90.60" y2="589.50" stroke="#333" stroke-width="0.9"/>
<line x1="85.40" y1="594.50" x2="90.60" y2="594.50" stroke="#333" stroke-width="0.9"/>
<line x1="113.10" y1="575.50" x2="113.10" y2="584.40" stroke="#333" stroke-width="0.9"/>
<line x1="110.50" y1="575.50" x2="115.70" y2="575.50" stroke="#333" stroke-width="0.9"/>
<line x1="110.50" y1="584.40" x2="115.70" y2="584.40" stroke="#333" stroke-width="0.9"/>
<rect x="61.50" y="533.20" width="3.80" height="3.80" fill="#c6c6c6" stroke="#222" stroke-width="0.85"/>
<rect x="61.50" y="546.60" width="3.80" height="3.80" fill="#c6c6c6" stroke="#222" stroke-width="0.85"/>
<rect x="65.10" y="551.90" width="3.80" height="3.80" fill="#c6c6c6" stroke="#222" stroke-width="0.85"/>
<rect x="53.60" y="556.10" width="3.80" height="3.80" fill="#c6c6c6" stroke="#222" stroke-width="0.85"/>
<rect x="57.90" y="558.80" width="3.80" height="3.80" fill="#c6c6c6" stroke="#222" stroke-width="0.85"/>
<rect x="68.20" y="564.50" width="3.80" height="3.80" fill="#c6c6c6" stroke="#222" stroke-width="0.85"/>
<rect x="63.60" y="569.80" width="3.80" height="3.80" fill="#c6c6c6" stroke="#222" stroke-width="0.85"/>
<rect x="57.20" y="573.60" width="3.80" height="3.80" fill="#c6c6c6" stroke="#222" stroke-width="0.85"/>
<rect x="63.10" y="574.50" width="3.80" height="3.80" fill="#c6c6c6" stroke="#222" stroke-width="0.85"/>
<rect x="59.10" y="566.10" width="3.80" height="3.80" fill="#c6c6c6" stroke="#222" stroke-width="0.85"/>
<circle cx="82.50" cy="586.50" r="2.00" fill="#5cb032" stroke="#111" stroke-width="0.8"/>
<circle cx="87.00" cy="586.00" r="2.00" fill="#5cb032" stroke="#111" stroke-width="0.8"/>
<circle cx="92.50" cy="586.50" r="2.00" fill="#5cb032" stroke="#111" stroke-width="0.8"/>
<circle cx="84.00" cy="590.00" r="2.00" fill="#5cb032" stroke="#111" stroke-width="0.8"/>
<circle cx="90.00" cy="590.50" r="2.00" fill="#5cb032" stroke="#111" stroke-width="0.8"/>
<circle cx="81.50" cy="593.50" r="2.00" fill="#5cb032" stroke="#111" stroke-width="0.8"/>
<circle cx="86.50" cy="593.00" r="2.00" fill="#5cb032" stroke="#111" stroke-width="0.8"/>
<circle cx="93.00" cy="593.50" r="2.00" fill="#5cb032" stroke="#111" stroke-width="0.8"/>
<circle cx="84.00" cy="596.50" r="2.00" fill="#5cb032" stroke="#111" stroke-width="0.8"/>
<circle cx="89.50" cy="596.50" r="2.00" fill="#5cb032" stroke="#111" stroke-width="0.8"/>
<circle cx="82.00" cy="599.50" r="2.00" fill="#5cb032" stroke="#111" stroke-width="0.8"/>
<circle cx="87.00" cy="600.00" r="2.00" fill="#5cb032" stroke="#111" stroke-width="0.8"/>
<circle cx="92.00" cy="599.00" r="2.00" fill="#5cb032" stroke="#111" stroke-width="0.8"/>
<circle cx="85.00" cy="602.50" r="2.00" fill="#5cb032" stroke="#111" stroke-width="0.8"/>
<circle cx="89.50" cy="602.50" r="2.00" fill="#5cb032" stroke="#111" stroke-width="0.8"/>
<circle cx="86.50" cy="589.00" r="2.00" fill="#5cb032" stroke="#111" stroke-width="0.8"/>
<circle cx="109.50" cy="541.00" r="2.00" fill="#c0102c" stroke="#111" stroke-width="0.8"/>
<circle cx="116.90" cy="537.50" r="2.00" fill="#c0102c" stroke="#111" stroke-width="0.8"/>
<circle cx="113.10" cy="558.40" r="2.00" fill="#c0102c" stroke="#111" stroke-width="0.8"/>
<circle cx="109.30" cy="572.80" r="2.00" fill="#c0102c" stroke="#111" stroke-width="0.8"/>
<circle cx="116.90" cy="570.70" r="2.00" fill="#c0102c" stroke="#111" stroke-width="0.8"/>
<circle cx="110.50" cy="580.50" r="2.00" fill="#c0102c" stroke="#111" stroke-width="0.8"/>
<circle cx="116.00" cy="582.00" r="2.00" fill="#c0102c" stroke="#111" stroke-width="0.8"/>
<circle cx="107.50" cy="585.50" r="2.00" fill="#c0102c" stroke="#111" stroke-width="0.8"/>
<circle cx="113.00" cy="585.00" r="2.00" fill="#c0102c" stroke="#111" stroke-width="0.8"/>
<circle cx="118.50" cy="587.00" r="2.00" fill="#c0102c" stroke="#111" stroke-width="0.8"/>
<circle cx="110.00" cy="590.00" r="2.00" fill="#c0102c" stroke="#111" stroke-width="0.8"/>
<circle cx="115.50" cy="591.00" r="2.00" fill="#c0102c" stroke="#111" stroke-width="0.8"/>
<circle cx="108.00" cy="594.50" r="2.00" fill="#c0102c" stroke="#111" stroke-width="0.8"/>
<circle cx="113.50" cy="595.50" r="2.00" fill="#c0102c" stroke="#111" stroke-width="0.8"/>
<circle cx="118.00" cy="594.00" r="2.00" fill="#c0102c" stroke="#111" stroke-width="0.8"/>
<circle cx="111.00" cy="599.50" r="2.00" fill="#c0102c" stroke="#111" stroke-width="0.8"/>
<line x1="50.30" y1="521.50" x2="50.30" y2="605.60" stroke="#111" stroke-width="1.2"/>
<line x1="49.70" y1="605.00" x2="125.80" y2="605.00" stroke="#111" stroke-width="1.2"/>
<text transform="translate(27.6,562.65) rotate(-90)" font-size="10.5" fill="#161616" stroke="#161616" stroke-width="0.12" text-anchor="middle" textLength="87.5" lengthAdjust="spacingAndGlyphs">Relative <tspan font-style="italic">Olfm4</tspan> expression</text>
<text x="71.80" y="497.15" font-size="7.9" fill="#161616" stroke="#161616" stroke-width="0.12" textLength="30.70" lengthAdjust="spacingAndGlyphs" >P=0.0191</text>
<path d="M62.30,502.40 V499.80 H113.10 V502.40" fill="none" stroke="#222" stroke-width="0.9"/>
<text x="54.50" y="515.15" font-size="7.9" fill="#161616" stroke="#161616" stroke-width="0.12" textLength="31.50" lengthAdjust="spacingAndGlyphs" >P=0.0001</text>
<path d="M62.30,520.40 V517.80 H85.60 V520.40" fill="none" stroke="#222" stroke-width="0.9"/>
<text x="89.40" y="515.15" font-size="7.9" fill="#161616" stroke="#161616" stroke-width="0.12" textLength="32.10" lengthAdjust="spacingAndGlyphs" >P=0.0090</text>
<path d="M90.40,520.40 V517.80 H115.20 V520.40" fill="none" stroke="#222" stroke-width="0.9"/>
<rect x="50.20" y="615.20" width="5.00" height="5.00" fill="#c8c8c8" stroke="#222" stroke-width="0.9"/>
<text x="58.30" y="619.80" font-size="8.7" fill="#161616" stroke="#161616" stroke-width="0.12" textLength="57.90" lengthAdjust="spacingAndGlyphs" >Untreated (n=10)</text>
<circle cx="52.70" cy="628.40" r="2.55" fill="#5cb032" stroke="#111" stroke-width="0.9"/>
<text x="58.30" y="630.50" font-size="8.7" fill="#161616" stroke="#161616" stroke-width="0.12" textLength="92.70" lengthAdjust="spacingAndGlyphs" >TBI/BM/Tc + Vehicle (n=16)</text>
<circle cx="52.70" cy="638.70" r="2.55" fill="#c0102c" stroke="#111" stroke-width="0.9"/>
<text x="58.30" y="640.80" font-size="8.7" fill="#161616" stroke="#161616" stroke-width="0.12" textLength="108.80" lengthAdjust="spacingAndGlyphs" >TBI/BM/Tc + Teduglutide (n=16)</text>
<text x="141.60" y="488.30" font-size="12" fill="#000" font-weight="bold" >H</text>
<line x1="174.20" y1="604.60" x2="177.30" y2="604.60" stroke="#111" stroke-width="0.9"/>
<text x="171.60" y="607.60" font-size="8.6" fill="#161616" stroke="#161616" stroke-width="0.12" text-anchor="end" >0</text>
<line x1="174.20" y1="577.25" x2="177.30" y2="577.25" stroke="#111" stroke-width="0.9"/>
<text x="171.60" y="580.25" font-size="8.6" fill="#161616" stroke="#161616" stroke-width="0.12" text-anchor="end" >1</text>
<line x1="174.20" y1="549.90" x2="177.30" y2="549.90" stroke="#111" stroke-width="0.9"/>
<text x="171.60" y="552.90" font-size="8.6" fill="#161616" stroke="#161616" stroke-width="0.12" text-anchor="end" >2</text>
<line x1="174.20" y1="522.55" x2="177.30" y2="522.55" stroke="#111" stroke-width="0.9"/>
<text x="171.60" y="525.55" font-size="8.6" fill="#161616" stroke="#161616" stroke-width="0.12" text-anchor="end" >3</text>
<rect x="182.10" y="576.80" width="15.80" height="27.80" fill="#e2e2e4" />
<rect x="207.20" y="580.60" width="15.60" height="24.00" fill="#bcdc9c" />
<rect x="232.30" y="565.80" width="15.50" height="38.80" fill="#d99488" />
<line x1="240.00" y1="559.50" x2="240.00" y2="567.50" stroke="#333" stroke-width="0.9"/>
<line x1="237.40" y1="559.50" x2="242.60" y2="559.50" stroke="#333" stroke-width="0.9"/>
<line x1="237.40" y1="567.50" x2="242.60" y2="567.50" stroke="#333" stroke-width="0.9"/>
<line x1="190.00" y1="573.00" x2="190.00" y2="580.00" stroke="#333" stroke-width="0.9"/>
<line x1="187.40" y1="573.00" x2="192.60" y2="573.00" stroke="#333" stroke-width="0.9"/>
<line x1="187.40" y1="580.00" x2="192.60" y2="580.00" stroke="#333" stroke-width="0.9"/>
<line x1="214.90" y1="578.00" x2="214.90" y2="583.00" stroke="#333" stroke-width="0.9"/>
<line x1="212.30" y1="578.00" x2="217.50" y2="578.00" stroke="#333" stroke-width="0.9"/>
<line x1="212.30" y1="583.00" x2="217.50" y2="583.00" stroke="#333" stroke-width="0.9"/>
<rect x="188.10" y="553.50" width="3.80" height="3.80" fill="#c6c6c6" stroke="#222" stroke-width="0.85"/>
<rect x="188.10" y="561.80" width="3.80" height="3.80" fill="#c6c6c6" stroke="#222" stroke-width="0.85"/>
<rect x="184.30" y="570.10" width="3.80" height="3.80" fill="#c6c6c6" stroke="#222" stroke-width="0.85"/>
<rect x="194.80" y="574.10" width="3.80" height="3.80" fill="#c6c6c6" stroke="#222" stroke-width="0.85"/>
<rect x="190.30" y="573.80" width="3.80" height="3.80" fill="#c6c6c6" stroke="#222" stroke-width="0.85"/>
<rect x="183.60" y="580.50" width="3.80" height="3.80" fill="#c6c6c6" stroke="#222" stroke-width="0.85"/>
<rect x="187.30" y="580.80" width="3.80" height="3.80" fill="#c6c6c6" stroke="#222" stroke-width="0.85"/>
<rect x="191.10" y="579.80" width="3.80" height="3.80" fill="#c6c6c6" stroke="#222" stroke-width="0.85"/>
<rect x="188.80" y="582.30" width="3.80" height="3.80" fill="#c6c6c6" stroke="#222" stroke-width="0.85"/>
<rect x="183.60" y="577.10" width="3.80" height="3.80" fill="#c6c6c6" stroke="#222" stroke-width="0.85"/>
<circle cx="214.70" cy="569.70" r="2.00" fill="#5cb032" stroke="#111" stroke-width="0.8"/>
<circle cx="211.30" cy="572.20" r="2.00" fill="#5cb032" stroke="#111" stroke-width="0.8"/>
<circle cx="218.20" cy="573.70" r="2.00" fill="#5cb032" stroke="#111" stroke-width="0.8"/>
<circle cx="212.80" cy="575.20" r="2.00" fill="#5cb032" stroke="#111" stroke-width="0.8"/>
<circle cx="216.70" cy="577.80" r="2.00" fill="#5cb032" stroke="#111" stroke-width="0.8"/>
<circle cx="210.20" cy="581.70" r="2.00" fill="#5cb032" stroke="#111" stroke-width="0.8"/>
<circle cx="219.70" cy="581.70" r="2.00" fill="#5cb032" stroke="#111" stroke-width="0.8"/>
<circle cx="214.00" cy="582.70" r="2.00" fill="#5cb032" stroke="#111" stroke-width="0.8"/>
<circle cx="217.30" cy="585.00" r="2.00" fill="#5cb032" stroke="#111" stroke-width="0.8"/>
<circle cx="212.20" cy="585.70" r="2.00" fill="#5cb032" stroke="#111" stroke-width="0.8"/>
<circle cx="214.70" cy="589.50" r="2.00" fill="#5cb032" stroke="#111" stroke-width="0.8"/>
<circle cx="210.50" cy="579.00" r="2.00" fill="#5cb032" stroke="#111" stroke-width="0.8"/>
<circle cx="219.00" cy="578.00" r="2.00" fill="#5cb032" stroke="#111" stroke-width="0.8"/>
<circle cx="215.00" cy="574.00" r="2.00" fill="#5cb032" stroke="#111" stroke-width="0.8"/>
<circle cx="236.20" cy="529.20" r="2.00" fill="#c0102c" stroke="#111" stroke-width="0.8"/>
<circle cx="243.20" cy="528.00" r="2.00" fill="#c0102c" stroke="#111" stroke-width="0.8"/>
<circle cx="239.50" cy="537.00" r="2.00" fill="#c0102c" stroke="#111" stroke-width="0.8"/>
<circle cx="239.50" cy="546.40" r="2.00" fill="#c0102c" stroke="#111" stroke-width="0.8"/>
<circle cx="239.50" cy="558.70" r="2.00" fill="#c0102c" stroke="#111" stroke-width="0.8"/>
<circle cx="236.50" cy="569.20" r="2.00" fill="#c0102c" stroke="#111" stroke-width="0.8"/>
<circle cx="243.20" cy="569.20" r="2.00" fill="#c0102c" stroke="#111" stroke-width="0.8"/>
<circle cx="244.70" cy="571.50" r="2.00" fill="#c0102c" stroke="#111" stroke-width="0.8"/>
<circle cx="234.70" cy="573.70" r="2.00" fill="#c0102c" stroke="#111" stroke-width="0.8"/>
<circle cx="238.70" cy="572.70" r="2.00" fill="#c0102c" stroke="#111" stroke-width="0.8"/>
<circle cx="241.70" cy="575.20" r="2.00" fill="#c0102c" stroke="#111" stroke-width="0.8"/>
<circle cx="237.70" cy="578.20" r="2.00" fill="#c0102c" stroke="#111" stroke-width="0.8"/>
<circle cx="235.00" cy="581.70" r="2.00" fill="#c0102c" stroke="#111" stroke-width="0.8"/>
<circle cx="243.20" cy="581.70" r="2.00" fill="#c0102c" stroke="#111" stroke-width="0.8"/>
<circle cx="237.70" cy="586.20" r="2.00" fill="#c0102c" stroke="#111" stroke-width="0.8"/>
<circle cx="241.00" cy="584.20" r="2.00" fill="#c0102c" stroke="#111" stroke-width="0.8"/>
<line x1="177.30" y1="520.50" x2="177.30" y2="605.20" stroke="#111" stroke-width="1.2"/>
<line x1="176.70" y1="604.60" x2="253.30" y2="604.60" stroke="#111" stroke-width="1.2"/>
<text transform="translate(162.0,562.4) rotate(-90)" font-size="11" fill="#161616" stroke="#161616" stroke-width="0.12" text-anchor="middle" textLength="90.8" lengthAdjust="spacingAndGlyphs">Relative <tspan font-style="italic">Prom-1</tspan> expression</text>
<text x="178.50" y="514.55" font-size="7.9" fill="#161616" stroke="#161616" stroke-width="0.12" textLength="32.30" lengthAdjust="spacingAndGlyphs" >P=0.1325</text>
<path d="M183.30,519.80 V517.10 H212.10 V519.80" fill="none" stroke="#222" stroke-width="0.9"/>
<text x="215.60" y="514.55" font-size="7.9" fill="#161616" stroke="#161616" stroke-width="0.12" textLength="32.90" lengthAdjust="spacingAndGlyphs" >P=0.0051</text>
<path d="M214.80,519.80 V517.10 H243.10 V519.80" fill="none" stroke="#222" stroke-width="0.9"/>
<text x="267.60" y="488.00" font-size="12" fill="#000" font-weight="bold" >I</text>
<text x="289.50" y="498.50" font-size="7.8" fill="#161616" stroke="#161616" stroke-width="0.12" textLength="91.00" lengthAdjust="spacingAndGlyphs" >Intestinal stem cell genes</text>
<rect x="274.90" y="503.40" width="59.00" height="15.60" fill="none" stroke="#7ab85a" stroke-width="1.2" />
<text x="292.00" y="513.50" font-size="8.2" fill="#161616" stroke="#161616" stroke-width="0.12" textLength="25.00" lengthAdjust="spacingAndGlyphs" >Vehicle</text>
<rect x="336.00" y="503.40" width="59.10" height="15.60" fill="none" stroke="#c0204a" stroke-width="1.2" />
<text x="344.30" y="513.50" font-size="8.2" fill="#c0204a" stroke="#c0204a" stroke-width="0.12" textLength="42.50" lengthAdjust="spacingAndGlyphs" >Teduglutide</text>
<rect x="274.90" y="520.40" width="120.00" height="154.90" fill="#a4a4a4" />
<rect x="275.65" y="521.15" width="13.75" height="7.36" fill="#3a7034" />
<rect x="290.65" y="521.15" width="13.75" height="7.36" fill="#6ab048" />
<rect x="305.65" y="521.15" width="13.75" height="7.36" fill="#2a1818" />
<rect x="320.65" y="521.15" width="13.75" height="7.36" fill="#a01c1c" />
<rect x="335.65" y="521.15" width="13.75" height="7.36" fill="#201818" />
<rect x="350.65" y="521.15" width="13.75" height="7.36" fill="#251a18" />
<rect x="365.65" y="521.15" width="13.75" height="7.36" fill="#3a1a18" />
<rect x="380.65" y="521.15" width="13.75" height="7.36" fill="#1e1a16" />
<rect x="275.65" y="529.76" width="13.75" height="7.36" fill="#223020" />
<rect x="290.65" y="529.76" width="13.75" height="7.36" fill="#1c2218" />
<rect x="305.65" y="529.76" width="13.75" height="7.36" fill="#203020" />
<rect x="320.65" y="529.76" width="13.75" height="7.36" fill="#c01418" />
<rect x="335.65" y="529.76" width="13.75" height="7.36" fill="#4a9a40" />
<rect x="350.65" y="529.76" width="13.75" height="7.36" fill="#2a3a24" />
<rect x="365.65" y="529.76" width="13.75" height="7.36" fill="#8a1818" />
<rect x="380.65" y="529.76" width="13.75" height="7.36" fill="#2a3a24" />
<rect x="275.65" y="538.36" width="13.75" height="7.36" fill="#6aaa48" />
<rect x="290.65" y="538.36" width="13.75" height="7.36" fill="#5a1410" />
<rect x="305.65" y="538.36" width="13.75" height="7.36" fill="#2a1a18" />
<rect x="320.65" y="538.36" width="13.75" height="7.36" fill="#4a1c18" />
<rect x="335.65" y="538.36" width="13.75" height="7.36" fill="#3e8a3a" />
<rect x="350.65" y="538.36" width="13.75" height="7.36" fill="#253022" />
<rect x="365.65" y="538.36" width="13.75" height="7.36" fill="#6a1810" />
<rect x="380.65" y="538.36" width="13.75" height="7.36" fill="#3a1a18" />
<rect x="275.65" y="546.97" width="13.75" height="7.36" fill="#4aa040" />
<rect x="290.65" y="546.97" width="13.75" height="7.36" fill="#7a1410" />
<rect x="305.65" y="546.97" width="13.75" height="7.36" fill="#3a1a18" />
<rect x="320.65" y="546.97" width="13.75" height="7.36" fill="#4a1c18" />
<rect x="335.65" y="546.97" width="13.75" height="7.36" fill="#2a1818" />
<rect x="350.65" y="546.97" width="13.75" height="7.36" fill="#5ab048" />
<rect x="365.65" y="546.97" width="13.75" height="7.36" fill="#223020" />
<rect x="380.65" y="546.97" width="13.75" height="7.36" fill="#5a1a14" />
<rect x="275.65" y="555.57" width="13.75" height="7.36" fill="#6aaa48" />
<rect x="290.65" y="555.57" width="13.75" height="7.36" fill="#201814" />
<rect x="305.65" y="555.57" width="13.75" height="7.36" fill="#223020" />
<rect x="320.65" y="555.57" width="13.75" height="7.36" fill="#3a1a18" />
<rect x="335.65" y="555.57" width="13.75" height="7.36" fill="#7a1810" />
<rect x="350.65" y="555.57" width="13.75" height="7.36" fill="#2a1818" />
<rect x="365.65" y="555.57" width="13.75" height="7.36" fill="#3a6a34" />
<rect x="380.65" y="555.57" width="13.75" height="7.36" fill="#7a1410" />
<rect x="275.65" y="564.18" width="13.75" height="7.36" fill="#5aa048" />
<rect x="290.65" y="564.18" width="13.75" height="7.36" fill="#201814" />
<rect x="305.65" y="564.18" width="13.75" height="7.36" fill="#6ab048" />
<rect x="320.65" y="564.18" width="13.75" height="7.36" fill="#3a1a18" />
<rect x="335.65" y="564.18" width="13.75" height="7.36" fill="#7a1810" />
<rect x="350.65" y="564.18" width="13.75" height="7.36" fill="#3a1a18" />
<rect x="365.65" y="564.18" width="13.75" height="7.36" fill="#1a1a14" />
<rect x="380.65" y="564.18" width="13.75" height="7.36" fill="#7a1810" />
<rect x="275.65" y="572.78" width="13.75" height="7.36" fill="#8ab840" />
<rect x="290.65" y="572.78" width="13.75" height="7.36" fill="#223020" />
<rect x="305.65" y="572.78" width="13.75" height="7.36" fill="#3a1a18" />
<rect x="320.65" y="572.78" width="13.75" height="7.36" fill="#161a14" />
<rect x="335.65" y="572.78" width="13.75" height="7.36" fill="#1e2a1c" />
<rect x="350.65" y="572.78" width="13.75" height="7.36" fill="#8a1818" />
<rect x="365.65" y="572.78" width="13.75" height="7.36" fill="#201816" />
<rect x="380.65" y="572.78" width="13.75" height="7.36" fill="#3a1a18" />
<rect x="275.65" y="581.39" width="13.75" height="7.36" fill="#60aa48" />
<rect x="290.65" y="581.39" width="13.75" height="7.36" fill="#2a4026" />
<rect x="305.65" y="581.39" width="13.75" height="7.36" fill="#3a6a34" />
<rect x="320.65" y="581.39" width="13.75" height="7.36" fill="#9a1c1c" />
<rect x="335.65" y="581.39" width="13.75" height="7.36" fill="#2a4026" />
<rect x="350.65" y="581.39" width="13.75" height="7.36" fill="#6a1810" />
<rect x="365.65" y="581.39" width="13.75" height="7.36" fill="#201816" />
<rect x="380.65" y="581.39" width="13.75" height="7.36" fill="#5a1810" />
<rect x="275.65" y="589.99" width="13.75" height="7.36" fill="#cc1018" />
<rect x="290.65" y="589.99" width="13.75" height="7.36" fill="#4a9a40" />
<rect x="305.65" y="589.99" width="13.75" height="7.36" fill="#3a6030" />
<rect x="320.65" y="589.99" width="13.75" height="7.36" fill="#1e2a1c" />
<rect x="335.65" y="589.99" width="13.75" height="7.36" fill="#1e2a1c" />
<rect x="350.65" y="589.99" width="13.75" height="7.36" fill="#223020" />
<rect x="365.65" y="589.99" width="13.75" height="7.36" fill="#1e2618" />
<rect x="380.65" y="589.99" width="13.75" height="7.36" fill="#3a1a18" />
<rect x="275.65" y="598.60" width="13.75" height="7.36" fill="#2a1414" />
<rect x="290.65" y="598.60" width="13.75" height="7.36" fill="#3e7e38" />
<rect x="305.65" y="598.60" width="13.75" height="7.36" fill="#5aaa48" />
<rect x="320.65" y="598.60" width="13.75" height="7.36" fill="#4a9a40" />
<rect x="335.65" y="598.60" width="13.75" height="7.36" fill="#3a1a18" />
<rect x="350.65" y="598.60" width="13.75" height="7.36" fill="#9a1818" />
<rect x="365.65" y="598.60" width="13.75" height="7.36" fill="#201816" />
<rect x="380.65" y="598.60" width="13.75" height="7.36" fill="#3a1a18" />
<rect x="275.65" y="607.21" width="13.75" height="7.36" fill="#3a7034" />
<rect x="290.65" y="607.21" width="13.75" height="7.36" fill="#1a2018" />
<rect x="305.65" y="607.21" width="13.75" height="7.36" fill="#8a1818" />
<rect x="320.65" y="607.21" width="13.75" height="7.36" fill="#5a1810" />
<rect x="335.65" y="607.21" width="13.75" height="7.36" fill="#7a1810" />
<rect x="350.65" y="607.21" width="13.75" height="7.36" fill="#4aa040" />
<rect x="365.65" y="607.21" width="13.75" height="7.36" fill="#1e2a1c" />
<rect x="380.65" y="607.21" width="13.75" height="7.36" fill="#3a6a34" />
<rect x="275.65" y="615.81" width="13.75" height="7.36" fill="#2a1414" />
<rect x="290.65" y="615.81" width="13.75" height="7.36" fill="#5aaa48" />
<rect x="305.65" y="615.81" width="13.75" height="7.36" fill="#cc1018" />
<rect x="320.65" y="615.81" width="13.75" height="7.36" fill="#3a7a36" />
<rect x="335.65" y="615.81" width="13.75" height="7.36" fill="#2a1818" />
<rect x="350.65" y="615.81" width="13.75" height="7.36" fill="#1e2a1c" />
<rect x="365.65" y="615.81" width="13.75" height="7.36" fill="#2a1818" />
<rect x="380.65" y="615.81" width="13.75" height="7.36" fill="#223020" />
<rect x="275.65" y="624.42" width="13.75" height="7.36" fill="#3e7e38" />
<rect x="290.65" y="624.42" width="13.75" height="7.36" fill="#4a9040" />
<rect x="305.65" y="624.42" width="13.75" height="7.36" fill="#b01c1c" />
<rect x="320.65" y="624.42" width="13.75" height="7.36" fill="#3a1a18" />
<rect x="335.65" y="624.42" width="13.75" height="7.36" fill="#3a7034" />
<rect x="350.65" y="624.42" width="13.75" height="7.36" fill="#1a2018" />
<rect x="365.65" y="624.42" width="13.75" height="7.36" fill="#6a1410" />
<rect x="380.65" y="624.42" width="13.75" height="7.36" fill="#161814" />
<rect x="275.65" y="633.02" width="13.75" height="7.36" fill="#2a1818" />
<rect x="290.65" y="633.02" width="13.75" height="7.36" fill="#b01c1c" />
<rect x="305.65" y="633.02" width="13.75" height="7.36" fill="#6a1410" />
<rect x="320.65" y="633.02" width="13.75" height="7.36" fill="#4a9a40" />
<rect x="335.65" y="633.02" width="13.75" height="7.36" fill="#223020" />
<rect x="350.65" y="633.02" width="13.75" height="7.36" fill="#2a1818" />
<rect x="365.65" y="633.02" width="13.75" height="7.36" fill="#3a6a34" />
<rect x="380.65" y="633.02" width="13.75" height="7.36" fill="#3a5a30" />
<rect x="275.65" y="641.63" width="13.75" height="7.36" fill="#1e2a1c" />
<rect x="290.65" y="641.63" width="13.75" height="7.36" fill="#1a2018" />
<rect x="305.65" y="641.63" width="13.75" height="7.36" fill="#181814" />
<rect x="320.65" y="641.63" width="13.75" height="7.36" fill="#4a9040" />
<rect x="335.65" y="641.63" width="13.75" height="7.36" fill="#5a1410" />
<rect x="350.65" y="641.63" width="13.75" height="7.36" fill="#2a1818" />
<rect x="365.65" y="641.63" width="13.75" height="7.36" fill="#4a9a40" />
<rect x="380.65" y="641.63" width="13.75" height="7.36" fill="#cc1018" />
<rect x="275.65" y="650.23" width="13.75" height="7.36" fill="#2a1818" />
<rect x="290.65" y="650.23" width="13.75" height="7.36" fill="#2a4026" />
<rect x="305.65" y="650.23" width="13.75" height="7.36" fill="#121410" />
<rect x="320.65" y="650.23" width="13.75" height="7.36" fill="#80b840" />
<rect x="335.65" y="650.23" width="13.75" height="7.36" fill="#6a1410" />
<rect x="350.65" y="650.23" width="13.75" height="7.36" fill="#3a1a18" />
<rect x="365.65" y="650.23" width="13.75" height="7.36" fill="#1e2a1c" />
<rect x="380.65" y="650.23" width="13.75" height="7.36" fill="#9a1818" />
<rect x="275.65" y="658.84" width="13.75" height="7.36" fill="#3a7034" />
<rect x="290.65" y="658.84" width="13.75" height="7.36" fill="#1a2018" />
<rect x="305.65" y="658.84" width="13.75" height="7.36" fill="#7a1810" />
<rect x="320.65" y="658.84" width="13.75" height="7.36" fill="#5aa048" />
<rect x="335.65" y="658.84" width="13.75" height="7.36" fill="#3a1a18" />
<rect x="350.65" y="658.84" width="13.75" height="7.36" fill="#1e2a1c" />
<rect x="365.65" y="658.84" width="13.75" height="7.36" fill="#1a2018" />
<rect x="380.65" y="658.84" width="13.75" height="7.36" fill="#8a1818" />
<rect x="275.65" y="667.44" width="13.75" height="7.36" fill="#5aaa48" />
<rect x="290.65" y="667.44" width="13.75" height="7.36" fill="#1a2018" />
<rect x="305.65" y="667.44" width="13.75" height="7.36" fill="#2a1818" />
<rect x="320.65" y="667.44" width="13.75" height="7.36" fill="#4a9a40" />
<rect x="335.65" y="667.44" width="13.75" height="7.36" fill="#7a1410" />
<rect x="350.65" y="667.44" width="13.75" height="7.36" fill="#6a1410" />
<rect x="365.65" y="667.44" width="13.75" height="7.36" fill="#2a1818" />
<rect x="380.65" y="667.44" width="13.75" height="7.36" fill="#5a1410" />
<text x="399.50" y="526.80" font-size="7.8" fill="#161616" stroke="#161616" stroke-width="0.12" textLength="19.30" lengthAdjust="spacingAndGlyphs" >Dclk1</text>
<text x="399.50" y="535.41" font-size="7.8" fill="#161616" stroke="#161616" stroke-width="0.12" textLength="23.80" lengthAdjust="spacingAndGlyphs" >Phlda1</text>
<text x="399.50" y="544.01" font-size="7.8" fill="#161616" stroke="#161616" stroke-width="0.12" textLength="23.80" lengthAdjust="spacingAndGlyphs" >Igfbp4</text>
<text x="399.50" y="552.62" font-size="7.8" fill="#161616" stroke="#161616" stroke-width="0.12" textLength="19.30" lengthAdjust="spacingAndGlyphs" >Ascl2</text>
<text x="399.50" y="561.22" font-size="7.8" fill="#161616" stroke="#161616" stroke-width="0.12" textLength="23.00" lengthAdjust="spacingAndGlyphs" >Prom1</text>
<text x="399.50" y="569.83" font-size="7.8" fill="#161616" stroke="#161616" stroke-width="0.12" textLength="24.30" lengthAdjust="spacingAndGlyphs" >Smoc2</text>
<text x="399.50" y="578.43" font-size="7.8" fill="#161616" stroke="#161616" stroke-width="0.12" textLength="17.50" lengthAdjust="spacingAndGlyphs" >Lrig1</text>
<text x="399.50" y="587.04" font-size="7.8" fill="#161616" stroke="#161616" stroke-width="0.12" textLength="18.50" lengthAdjust="spacingAndGlyphs" >Itgb1</text>
<text x="399.50" y="595.64" font-size="7.8" fill="#161616" stroke="#161616" stroke-width="0.12" textLength="22.50" lengthAdjust="spacingAndGlyphs" >Alcam</text>
<text x="399.50" y="604.25" font-size="7.8" fill="#161616" stroke="#161616" stroke-width="0.12" textLength="29.80" lengthAdjust="spacingAndGlyphs" >Tnfrsf19</text>
<text x="399.50" y="612.86" font-size="7.8" fill="#161616" stroke="#161616" stroke-width="0.12" textLength="19.30" lengthAdjust="spacingAndGlyphs" >Hopx</text>
<text x="399.50" y="621.46" font-size="7.8" fill="#161616" stroke="#161616" stroke-width="0.12" textLength="23.50" lengthAdjust="spacingAndGlyphs" >Ephb2</text>
<text x="399.50" y="630.07" font-size="7.8" fill="#161616" stroke="#161616" stroke-width="0.12" textLength="16.30" lengthAdjust="spacingAndGlyphs" >Msi1</text>
<text x="399.50" y="638.67" font-size="7.8" fill="#161616" stroke="#161616" stroke-width="0.12" textLength="17.50" lengthAdjust="spacingAndGlyphs" >Sox9</text>
<text x="399.50" y="647.28" font-size="7.8" fill="#161616" stroke="#161616" stroke-width="0.12" textLength="17.50" lengthAdjust="spacingAndGlyphs" >Bmi1</text>
<text x="399.50" y="655.88" font-size="7.8" fill="#161616" stroke="#161616" stroke-width="0.12" textLength="13.50" lengthAdjust="spacingAndGlyphs" >Tert</text>
<text x="399.50" y="664.49" font-size="7.8" fill="#161616" stroke="#161616" stroke-width="0.12" textLength="18.80" lengthAdjust="spacingAndGlyphs" >Peg3</text>
<text x="399.50" y="673.09" font-size="7.8" fill="#161616" stroke="#161616" stroke-width="0.12" textLength="22.50" lengthAdjust="spacingAndGlyphs" >Olfm4</text>
<rect x="439.5" y="534.5" width="11.8" height="128.5" fill="url(#cbI)"/>
<rect x="439.5" y="534.5" width="11.8" height="128.5" fill="url(#stripesH)"/>
<text x="456.30" y="543.80" font-size="8.2" fill="#161616" stroke="#161616" stroke-width="0.12" >2</text>
<text x="456.30" y="573.00" font-size="8.2" fill="#161616" stroke="#161616" stroke-width="0.12" >1</text>
<text x="456.30" y="602.50" font-size="8.2" fill="#161616" stroke="#161616" stroke-width="0.12" >0</text>
<text x="456.30" y="631.80" font-size="8.2" fill="#161616" stroke="#161616" stroke-width="0.12" >-1</text>
<text x="456.30" y="661.30" font-size="8.2" fill="#161616" stroke="#161616" stroke-width="0.12" >-2</text>
<text transform="translate(468.0,599.6) rotate(90)" font-size="10.5" fill="#161616" stroke="#161616" stroke-width="0.12" text-anchor="middle" textLength="53.5" lengthAdjust="spacingAndGlyphs">Z-score intensity</text>
<rect x="0" y="0" width="520" height="1.15" fill="#000"/><rect x="0" y="0" width="1.15" height="683" fill="#000"/><rect x="518.6" y="0" width="1.4" height="683" fill="#000"/><rect x="0" y="681.6" width="520" height="1.4" fill="#000"/>
</svg></body></html>
